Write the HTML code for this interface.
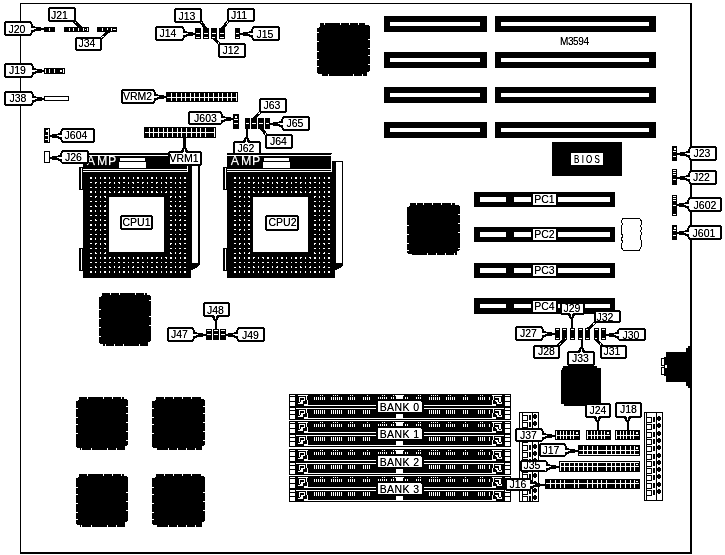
<!DOCTYPE html>
<html><head><meta charset="utf-8"><style>
html,body{margin:0;padding:0;background:#fff;width:725px;height:555px;overflow:hidden}
svg{display:block}
text{font-family:"Liberation Sans",sans-serif}
</style></head><body>
<svg width="725" height="555" viewBox="0 0 725 555" shape-rendering="crispEdges">
<defs><filter id="bw" x="0" y="0" width="100%" height="100%" color-interpolation-filters="sRGB">
<feColorMatrix type="saturate" values="0"/>
<feComponentTransfer><feFuncR type="linear" slope="1.3" intercept="-0.3"/><feFuncG type="linear" slope="1.3" intercept="-0.3"/><feFuncB type="linear" slope="1.3" intercept="-0.3"/></feComponentTransfer>
</filter></defs>
<g filter="url(#bw)">
<rect x="0" y="0" width="725" height="555" fill="#fff"/>
<rect x="20" y="3" width="672" height="1" fill="#000"/>
<rect x="20" y="3" width="1" height="551" fill="#000"/>
<rect x="690" y="3" width="2" height="551" fill="#000"/>
<rect x="20" y="552" width="672" height="2" fill="#000"/>
<rect x="384" y="16" width="103" height="16" fill="#000"/>
<rect x="390" y="22" width="90" height="4" fill="#fff"/>
<rect x="495" y="16" width="161" height="16" fill="#000"/>
<rect x="501" y="22" width="148" height="4" fill="#fff"/>
<rect x="384" y="52" width="103" height="16" fill="#000"/>
<rect x="390" y="58" width="90" height="4" fill="#fff"/>
<rect x="495" y="52" width="161" height="16" fill="#000"/>
<rect x="501" y="58" width="148" height="4" fill="#fff"/>
<rect x="384" y="87" width="103" height="16" fill="#000"/>
<rect x="390" y="93" width="90" height="4" fill="#fff"/>
<rect x="495" y="87" width="161" height="16" fill="#000"/>
<rect x="501" y="93" width="148" height="4" fill="#fff"/>
<rect x="384" y="122" width="103" height="16" fill="#000"/>
<rect x="390" y="128" width="90" height="4" fill="#fff"/>
<rect x="495" y="122" width="161" height="16" fill="#000"/>
<rect x="501" y="128" width="148" height="4" fill="#fff"/>
<text x="560" y="45" font-size="10" fill="#000" letter-spacing="-0.4" >M3594</text>
<rect x="317" y="23" width="53" height="53" fill="#000"/>
<rect x="317" y="23" width="3" height="4" fill="#fff"/>
<rect x="317" y="23" width="2" height="5" fill="#fff"/>
<rect x="317" y="23" width="1" height="5" fill="#fff"/>
<rect x="365" y="23" width="5" height="2" fill="#fff"/>
<rect x="369" y="23" width="1" height="3" fill="#fff"/>
<rect x="317" y="74" width="5" height="2" fill="#fff"/>
<rect x="317" y="73" width="1" height="3" fill="#fff"/>
<rect x="367" y="72" width="3" height="4" fill="#fff"/>
<rect x="369" y="71" width="1" height="5" fill="#fff"/>
<rect x="324" y="23" width="1" height="2" fill="#fff"/>
<rect x="340" y="23" width="1" height="2" fill="#fff"/>
<rect x="349" y="23" width="1" height="2" fill="#fff"/>
<rect x="358" y="23" width="1" height="2" fill="#fff"/>
<rect x="328" y="74" width="1" height="2" fill="#fff"/>
<rect x="353" y="74" width="1" height="2" fill="#fff"/>
<rect x="362" y="74" width="1" height="2" fill="#fff"/>
<rect x="317" y="32" width="2" height="1" fill="#fff"/>
<rect x="317" y="41" width="2" height="1" fill="#fff"/>
<rect x="317" y="51" width="2" height="1" fill="#fff"/>
<rect x="317" y="59" width="2" height="1" fill="#fff"/>
<rect x="317" y="66" width="2" height="1" fill="#fff"/>
<rect x="368" y="39" width="2" height="1" fill="#fff"/>
<rect x="368" y="48" width="2" height="1" fill="#fff"/>
<rect x="368" y="55" width="2" height="1" fill="#fff"/>
<rect x="368" y="64" width="2" height="1" fill="#fff"/>
<rect x="407" y="203" width="53" height="52" fill="#000"/>
<rect x="407" y="203" width="3" height="3" fill="#fff"/>
<rect x="407" y="203" width="2" height="4" fill="#fff"/>
<rect x="407" y="203" width="1" height="4" fill="#fff"/>
<rect x="455" y="203" width="5" height="2" fill="#fff"/>
<rect x="459" y="203" width="1" height="3" fill="#fff"/>
<rect x="407" y="254" width="5" height="1" fill="#fff"/>
<rect x="407" y="253" width="1" height="2" fill="#fff"/>
<rect x="457" y="251" width="3" height="4" fill="#fff"/>
<rect x="459" y="250" width="1" height="5" fill="#fff"/>
<rect x="416" y="203" width="1" height="2" fill="#fff"/>
<rect x="423" y="203" width="1" height="2" fill="#fff"/>
<rect x="432" y="203" width="1" height="2" fill="#fff"/>
<rect x="441" y="203" width="1" height="2" fill="#fff"/>
<rect x="451" y="203" width="1" height="2" fill="#fff"/>
<rect x="427" y="253" width="1" height="2" fill="#fff"/>
<rect x="436" y="253" width="1" height="2" fill="#fff"/>
<rect x="445" y="253" width="1" height="2" fill="#fff"/>
<rect x="454" y="253" width="1" height="2" fill="#fff"/>
<rect x="407" y="225" width="2" height="1" fill="#fff"/>
<rect x="407" y="234" width="2" height="1" fill="#fff"/>
<rect x="407" y="243" width="2" height="1" fill="#fff"/>
<rect x="407" y="250" width="2" height="1" fill="#fff"/>
<rect x="458" y="214" width="2" height="1" fill="#fff"/>
<rect x="458" y="223" width="2" height="1" fill="#fff"/>
<rect x="458" y="232" width="2" height="1" fill="#fff"/>
<rect x="458" y="248" width="2" height="1" fill="#fff"/>
<rect x="99" y="293" width="52" height="53" fill="#000"/>
<rect x="99" y="293" width="3" height="3" fill="#fff"/>
<rect x="99" y="293" width="2" height="4" fill="#fff"/>
<rect x="99" y="293" width="1" height="4" fill="#fff"/>
<rect x="147" y="293" width="4" height="2" fill="#fff"/>
<rect x="150" y="293" width="1" height="3" fill="#fff"/>
<rect x="99" y="344" width="4" height="2" fill="#fff"/>
<rect x="99" y="343" width="1" height="3" fill="#fff"/>
<rect x="148" y="342" width="3" height="4" fill="#fff"/>
<rect x="150" y="341" width="1" height="5" fill="#fff"/>
<rect x="110" y="293" width="1" height="2" fill="#fff"/>
<rect x="119" y="293" width="1" height="2" fill="#fff"/>
<rect x="135" y="293" width="1" height="2" fill="#fff"/>
<rect x="144" y="293" width="1" height="2" fill="#fff"/>
<rect x="105" y="344" width="1" height="2" fill="#fff"/>
<rect x="114" y="344" width="1" height="2" fill="#fff"/>
<rect x="123" y="344" width="1" height="2" fill="#fff"/>
<rect x="139" y="344" width="1" height="2" fill="#fff"/>
<rect x="99" y="309" width="2" height="1" fill="#fff"/>
<rect x="99" y="318" width="2" height="1" fill="#fff"/>
<rect x="99" y="327" width="2" height="1" fill="#fff"/>
<rect x="99" y="336" width="2" height="1" fill="#fff"/>
<rect x="149" y="300" width="2" height="1" fill="#fff"/>
<rect x="149" y="316" width="2" height="1" fill="#fff"/>
<rect x="149" y="325" width="2" height="1" fill="#fff"/>
<rect x="76" y="397" width="52" height="53" fill="#000"/>
<rect x="76" y="397" width="3" height="3" fill="#fff"/>
<rect x="76" y="397" width="2" height="4" fill="#fff"/>
<rect x="76" y="397" width="1" height="4" fill="#fff"/>
<rect x="124" y="397" width="4" height="2" fill="#fff"/>
<rect x="127" y="397" width="1" height="3" fill="#fff"/>
<rect x="76" y="448" width="4" height="2" fill="#fff"/>
<rect x="76" y="447" width="1" height="3" fill="#fff"/>
<rect x="125" y="446" width="3" height="4" fill="#fff"/>
<rect x="127" y="445" width="1" height="5" fill="#fff"/>
<rect x="87" y="397" width="1" height="2" fill="#fff"/>
<rect x="103" y="397" width="1" height="2" fill="#fff"/>
<rect x="112" y="397" width="1" height="2" fill="#fff"/>
<rect x="121" y="397" width="1" height="2" fill="#fff"/>
<rect x="81" y="448" width="1" height="2" fill="#fff"/>
<rect x="91" y="448" width="1" height="2" fill="#fff"/>
<rect x="107" y="448" width="1" height="2" fill="#fff"/>
<rect x="116" y="448" width="1" height="2" fill="#fff"/>
<rect x="76" y="408" width="2" height="1" fill="#fff"/>
<rect x="76" y="417" width="2" height="1" fill="#fff"/>
<rect x="76" y="424" width="2" height="1" fill="#fff"/>
<rect x="76" y="433" width="2" height="1" fill="#fff"/>
<rect x="126" y="406" width="2" height="1" fill="#fff"/>
<rect x="126" y="413" width="2" height="1" fill="#fff"/>
<rect x="126" y="422" width="2" height="1" fill="#fff"/>
<rect x="126" y="431" width="2" height="1" fill="#fff"/>
<rect x="126" y="440" width="2" height="1" fill="#fff"/>
<rect x="152" y="397" width="53" height="53" fill="#000"/>
<rect x="152" y="397" width="4" height="3" fill="#fff"/>
<rect x="152" y="397" width="3" height="4" fill="#fff"/>
<rect x="152" y="397" width="1" height="4" fill="#fff"/>
<rect x="201" y="397" width="4" height="2" fill="#fff"/>
<rect x="204" y="397" width="1" height="3" fill="#fff"/>
<rect x="152" y="448" width="5" height="2" fill="#fff"/>
<rect x="152" y="447" width="1" height="3" fill="#fff"/>
<rect x="202" y="446" width="3" height="4" fill="#fff"/>
<rect x="204" y="445" width="1" height="5" fill="#fff"/>
<rect x="164" y="397" width="1" height="2" fill="#fff"/>
<rect x="173" y="397" width="1" height="2" fill="#fff"/>
<rect x="182" y="397" width="1" height="2" fill="#fff"/>
<rect x="191" y="397" width="1" height="2" fill="#fff"/>
<rect x="168" y="448" width="1" height="2" fill="#fff"/>
<rect x="177" y="448" width="1" height="2" fill="#fff"/>
<rect x="186" y="448" width="1" height="2" fill="#fff"/>
<rect x="195" y="448" width="1" height="2" fill="#fff"/>
<rect x="152" y="408" width="2" height="1" fill="#fff"/>
<rect x="152" y="417" width="2" height="1" fill="#fff"/>
<rect x="152" y="424" width="2" height="1" fill="#fff"/>
<rect x="152" y="433" width="2" height="1" fill="#fff"/>
<rect x="203" y="406" width="2" height="1" fill="#fff"/>
<rect x="203" y="413" width="2" height="1" fill="#fff"/>
<rect x="203" y="422" width="2" height="1" fill="#fff"/>
<rect x="203" y="431" width="2" height="1" fill="#fff"/>
<rect x="203" y="440" width="2" height="1" fill="#fff"/>
<rect x="76" y="474" width="52" height="53" fill="#000"/>
<rect x="76" y="474" width="3" height="3" fill="#fff"/>
<rect x="76" y="474" width="2" height="4" fill="#fff"/>
<rect x="76" y="474" width="1" height="4" fill="#fff"/>
<rect x="124" y="474" width="4" height="2" fill="#fff"/>
<rect x="127" y="474" width="1" height="3" fill="#fff"/>
<rect x="76" y="525" width="4" height="2" fill="#fff"/>
<rect x="76" y="524" width="1" height="3" fill="#fff"/>
<rect x="125" y="522" width="3" height="5" fill="#fff"/>
<rect x="127" y="521" width="1" height="6" fill="#fff"/>
<rect x="87" y="474" width="1" height="2" fill="#fff"/>
<rect x="103" y="474" width="1" height="2" fill="#fff"/>
<rect x="112" y="474" width="1" height="2" fill="#fff"/>
<rect x="121" y="474" width="1" height="2" fill="#fff"/>
<rect x="81" y="525" width="1" height="2" fill="#fff"/>
<rect x="91" y="525" width="1" height="2" fill="#fff"/>
<rect x="107" y="525" width="1" height="2" fill="#fff"/>
<rect x="116" y="525" width="1" height="2" fill="#fff"/>
<rect x="76" y="487" width="2" height="1" fill="#fff"/>
<rect x="76" y="494" width="2" height="1" fill="#fff"/>
<rect x="76" y="503" width="2" height="1" fill="#fff"/>
<rect x="76" y="512" width="2" height="1" fill="#fff"/>
<rect x="76" y="519" width="2" height="1" fill="#fff"/>
<rect x="126" y="492" width="2" height="1" fill="#fff"/>
<rect x="126" y="501" width="2" height="1" fill="#fff"/>
<rect x="126" y="510" width="2" height="1" fill="#fff"/>
<rect x="152" y="474" width="53" height="53" fill="#000"/>
<rect x="152" y="474" width="4" height="3" fill="#fff"/>
<rect x="152" y="474" width="3" height="4" fill="#fff"/>
<rect x="152" y="474" width="1" height="4" fill="#fff"/>
<rect x="201" y="474" width="4" height="2" fill="#fff"/>
<rect x="204" y="474" width="1" height="3" fill="#fff"/>
<rect x="152" y="525" width="5" height="2" fill="#fff"/>
<rect x="152" y="524" width="1" height="3" fill="#fff"/>
<rect x="202" y="522" width="3" height="5" fill="#fff"/>
<rect x="204" y="521" width="1" height="6" fill="#fff"/>
<rect x="164" y="474" width="1" height="2" fill="#fff"/>
<rect x="173" y="474" width="1" height="2" fill="#fff"/>
<rect x="182" y="474" width="1" height="2" fill="#fff"/>
<rect x="191" y="474" width="1" height="2" fill="#fff"/>
<rect x="168" y="525" width="1" height="2" fill="#fff"/>
<rect x="177" y="525" width="1" height="2" fill="#fff"/>
<rect x="186" y="525" width="1" height="2" fill="#fff"/>
<rect x="195" y="525" width="1" height="2" fill="#fff"/>
<rect x="152" y="487" width="2" height="1" fill="#fff"/>
<rect x="152" y="494" width="2" height="1" fill="#fff"/>
<rect x="152" y="503" width="2" height="1" fill="#fff"/>
<rect x="152" y="512" width="2" height="1" fill="#fff"/>
<rect x="152" y="519" width="2" height="1" fill="#fff"/>
<rect x="203" y="492" width="2" height="1" fill="#fff"/>
<rect x="203" y="501" width="2" height="1" fill="#fff"/>
<rect x="203" y="510" width="2" height="1" fill="#fff"/>
<rect x="563" y="366" width="34" height="2" fill="#000"/>
<rect x="562" y="368" width="39" height="2" fill="#000"/>
<rect x="561" y="370" width="40" height="34" fill="#000"/>
<rect x="564" y="404" width="37" height="2" fill="#000"/>
<rect x="552" y="142" width="70" height="34" fill="#000"/>
<rect x="571" y="153" width="32" height="12" fill="#fff"/>
<text x="587" y="163" font-size="10" fill="#000" text-anchor="middle" transform="translate(587,0) scale(0.8,1) translate(-587,0)">B I O S</text>
<rect x="474" y="192" width="141" height="15" fill="#000"/>
<rect x="480" y="197" width="26" height="5" fill="#fff"/>
<rect x="514" y="197" width="17" height="5" fill="#fff"/>
<rect x="533" y="194" width="23" height="11" fill="#fff"/>
<rect x="558" y="197" width="52" height="5" fill="#fff"/>
<text x="544.5" y="203" font-size="10.5" fill="#000" text-anchor="middle" >PC1</text>
<rect x="474" y="227" width="141" height="15" fill="#000"/>
<rect x="480" y="232" width="26" height="5" fill="#fff"/>
<rect x="514" y="232" width="17" height="5" fill="#fff"/>
<rect x="533" y="229" width="23" height="11" fill="#fff"/>
<rect x="558" y="232" width="52" height="5" fill="#fff"/>
<text x="544.5" y="238" font-size="10.5" fill="#000" text-anchor="middle" >PC2</text>
<rect x="474" y="263" width="141" height="15" fill="#000"/>
<rect x="480" y="268" width="26" height="5" fill="#fff"/>
<rect x="514" y="268" width="17" height="5" fill="#fff"/>
<rect x="533" y="265" width="23" height="11" fill="#fff"/>
<rect x="558" y="268" width="52" height="5" fill="#fff"/>
<text x="544.5" y="274" font-size="10.5" fill="#000" text-anchor="middle" >PC3</text>
<rect x="474" y="298" width="141" height="16" fill="#000"/>
<rect x="480" y="304" width="26" height="4" fill="#fff"/>
<rect x="514" y="304" width="17" height="4" fill="#fff"/>
<rect x="533" y="301" width="23" height="11" fill="#fff"/>
<rect x="558" y="304" width="52" height="4" fill="#fff"/>
<text x="544.5" y="310" font-size="10.5" fill="#000" text-anchor="middle" >PC4</text>
<path d="M622.5,218.5 H639.5 L641.5,221 V224 L640.5,226 L642,229 L640.5,231 L642,234 L640.5,236 V239 L641.5,241 V246 L639.5,250.5 H623.5 L621.5,248 V244 L622.5,242 L621.5,239 L622.5,236 L621.5,233 V226 L622.5,224 L621.5,222 Z" fill="none" stroke="#000" stroke-width="1"/>
<rect x="83" y="153" width="105" height="1" fill="#000"/>
<rect x="83" y="154" width="104" height="1" fill="#000"/>
<rect x="83" y="156" width="104" height="13" fill="#000"/>
<rect x="83" y="170" width="104" height="1" fill="#000"/>
<rect x="83" y="172" width="108" height="106" fill="#000"/>
<rect x="188" y="161" width="3" height="11" fill="#000"/>
<text x="86.8" y="164.6" font-size="12.4" fill="#fff" stroke="#fff" stroke-width="0.35">A</text>
<text x="97" y="164.6" font-size="12.4" fill="#fff" stroke="#fff" stroke-width="0.35">M</text>
<text x="108" y="164.6" font-size="12.4" fill="#fff" stroke="#fff" stroke-width="0.35">P</text>
<rect x="120" y="158" width="25" height="3" fill="#fff"/>
<rect x="119" y="162" width="27" height="6" fill="#fff"/>
<rect x="90" y="177" width="1" height="1" fill="#fff"/>
<rect x="91" y="177" width="1" height="1" fill="#fff"/>
<rect x="90" y="178" width="1" height="1" fill="#fff"/>
<rect x="91" y="178" width="1" height="1" fill="#fff"/>
<rect x="95" y="177" width="1" height="1" fill="#fff"/>
<rect x="95" y="178" width="1" height="1" fill="#fff"/>
<rect x="100" y="177" width="1" height="1" fill="#fff"/>
<rect x="100" y="178" width="1" height="1" fill="#fff"/>
<rect x="104" y="177" width="1" height="1" fill="#fff"/>
<rect x="105" y="177" width="1" height="1" fill="#fff"/>
<rect x="104" y="178" width="1" height="1" fill="#fff"/>
<rect x="105" y="178" width="1" height="1" fill="#fff"/>
<rect x="109" y="177" width="1" height="1" fill="#fff"/>
<rect x="109" y="178" width="1" height="1" fill="#fff"/>
<rect x="114" y="177" width="1" height="1" fill="#fff"/>
<rect x="114" y="178" width="1" height="1" fill="#fff"/>
<rect x="119" y="177" width="1" height="1" fill="#fff"/>
<rect x="119" y="178" width="1" height="1" fill="#fff"/>
<rect x="123" y="177" width="1" height="1" fill="#fff"/>
<rect x="124" y="177" width="1" height="1" fill="#fff"/>
<rect x="123" y="178" width="1" height="1" fill="#fff"/>
<rect x="124" y="178" width="1" height="1" fill="#fff"/>
<rect x="128" y="177" width="1" height="1" fill="#fff"/>
<rect x="128" y="178" width="1" height="1" fill="#fff"/>
<rect x="133" y="177" width="1" height="1" fill="#fff"/>
<rect x="133" y="178" width="1" height="1" fill="#fff"/>
<rect x="137" y="177" width="1" height="1" fill="#fff"/>
<rect x="138" y="177" width="1" height="1" fill="#fff"/>
<rect x="137" y="178" width="1" height="1" fill="#fff"/>
<rect x="138" y="178" width="1" height="1" fill="#fff"/>
<rect x="142" y="177" width="1" height="1" fill="#fff"/>
<rect x="142" y="178" width="1" height="1" fill="#fff"/>
<rect x="147" y="177" width="1" height="1" fill="#fff"/>
<rect x="147" y="178" width="1" height="1" fill="#fff"/>
<rect x="151" y="177" width="1" height="1" fill="#fff"/>
<rect x="152" y="177" width="1" height="1" fill="#fff"/>
<rect x="151" y="178" width="1" height="1" fill="#fff"/>
<rect x="152" y="178" width="1" height="1" fill="#fff"/>
<rect x="156" y="177" width="1" height="1" fill="#fff"/>
<rect x="156" y="178" width="1" height="1" fill="#fff"/>
<rect x="161" y="177" width="1" height="1" fill="#fff"/>
<rect x="161" y="178" width="1" height="1" fill="#fff"/>
<rect x="166" y="177" width="1" height="1" fill="#fff"/>
<rect x="166" y="178" width="1" height="1" fill="#fff"/>
<rect x="170" y="177" width="1" height="1" fill="#fff"/>
<rect x="171" y="177" width="1" height="1" fill="#fff"/>
<rect x="170" y="178" width="1" height="1" fill="#fff"/>
<rect x="171" y="178" width="1" height="1" fill="#fff"/>
<rect x="175" y="177" width="1" height="1" fill="#fff"/>
<rect x="175" y="178" width="1" height="1" fill="#fff"/>
<rect x="180" y="177" width="1" height="1" fill="#fff"/>
<rect x="180" y="178" width="1" height="1" fill="#fff"/>
<rect x="184" y="177" width="1" height="1" fill="#fff"/>
<rect x="185" y="177" width="1" height="1" fill="#fff"/>
<rect x="184" y="178" width="1" height="1" fill="#fff"/>
<rect x="185" y="178" width="1" height="1" fill="#fff"/>
<rect x="90" y="182" width="1" height="1" fill="#fff"/>
<rect x="91" y="182" width="1" height="1" fill="#fff"/>
<rect x="95" y="182" width="1" height="1" fill="#fff"/>
<rect x="96" y="182" width="1" height="1" fill="#fff"/>
<rect x="95" y="183" width="1" height="1" fill="#fff"/>
<rect x="100" y="182" width="1" height="1" fill="#fff"/>
<rect x="100" y="183" width="1" height="1" fill="#fff"/>
<rect x="104" y="182" width="1" height="1" fill="#fff"/>
<rect x="105" y="182" width="1" height="1" fill="#fff"/>
<rect x="109" y="182" width="1" height="1" fill="#fff"/>
<rect x="110" y="182" width="1" height="1" fill="#fff"/>
<rect x="109" y="183" width="1" height="1" fill="#fff"/>
<rect x="114" y="182" width="1" height="1" fill="#fff"/>
<rect x="114" y="183" width="1" height="1" fill="#fff"/>
<rect x="118" y="182" width="1" height="1" fill="#fff"/>
<rect x="119" y="182" width="1" height="1" fill="#fff"/>
<rect x="119" y="183" width="1" height="1" fill="#fff"/>
<rect x="123" y="182" width="1" height="1" fill="#fff"/>
<rect x="124" y="182" width="1" height="1" fill="#fff"/>
<rect x="128" y="182" width="1" height="1" fill="#fff"/>
<rect x="128" y="183" width="1" height="1" fill="#fff"/>
<rect x="132" y="182" width="1" height="1" fill="#fff"/>
<rect x="133" y="182" width="1" height="1" fill="#fff"/>
<rect x="133" y="183" width="1" height="1" fill="#fff"/>
<rect x="137" y="182" width="1" height="1" fill="#fff"/>
<rect x="138" y="182" width="1" height="1" fill="#fff"/>
<rect x="142" y="182" width="1" height="1" fill="#fff"/>
<rect x="143" y="182" width="1" height="1" fill="#fff"/>
<rect x="142" y="183" width="1" height="1" fill="#fff"/>
<rect x="147" y="182" width="1" height="1" fill="#fff"/>
<rect x="147" y="183" width="1" height="1" fill="#fff"/>
<rect x="151" y="182" width="1" height="1" fill="#fff"/>
<rect x="152" y="182" width="1" height="1" fill="#fff"/>
<rect x="156" y="182" width="1" height="1" fill="#fff"/>
<rect x="157" y="182" width="1" height="1" fill="#fff"/>
<rect x="156" y="183" width="1" height="1" fill="#fff"/>
<rect x="161" y="182" width="1" height="1" fill="#fff"/>
<rect x="161" y="183" width="1" height="1" fill="#fff"/>
<rect x="165" y="182" width="1" height="1" fill="#fff"/>
<rect x="166" y="182" width="1" height="1" fill="#fff"/>
<rect x="166" y="183" width="1" height="1" fill="#fff"/>
<rect x="170" y="182" width="1" height="1" fill="#fff"/>
<rect x="171" y="182" width="1" height="1" fill="#fff"/>
<rect x="175" y="182" width="1" height="1" fill="#fff"/>
<rect x="175" y="183" width="1" height="1" fill="#fff"/>
<rect x="179" y="182" width="1" height="1" fill="#fff"/>
<rect x="180" y="182" width="1" height="1" fill="#fff"/>
<rect x="180" y="183" width="1" height="1" fill="#fff"/>
<rect x="184" y="182" width="1" height="1" fill="#fff"/>
<rect x="185" y="182" width="1" height="1" fill="#fff"/>
<rect x="90" y="187" width="1" height="1" fill="#fff"/>
<rect x="91" y="187" width="1" height="1" fill="#fff"/>
<rect x="95" y="187" width="1" height="1" fill="#fff"/>
<rect x="96" y="187" width="1" height="1" fill="#fff"/>
<rect x="100" y="187" width="1" height="1" fill="#fff"/>
<rect x="104" y="187" width="1" height="1" fill="#fff"/>
<rect x="105" y="187" width="1" height="1" fill="#fff"/>
<rect x="109" y="187" width="1" height="1" fill="#fff"/>
<rect x="110" y="187" width="1" height="1" fill="#fff"/>
<rect x="114" y="187" width="1" height="1" fill="#fff"/>
<rect x="118" y="187" width="1" height="1" fill="#fff"/>
<rect x="119" y="187" width="1" height="1" fill="#fff"/>
<rect x="123" y="187" width="1" height="1" fill="#fff"/>
<rect x="124" y="187" width="1" height="1" fill="#fff"/>
<rect x="128" y="187" width="1" height="1" fill="#fff"/>
<rect x="132" y="187" width="1" height="1" fill="#fff"/>
<rect x="133" y="187" width="1" height="1" fill="#fff"/>
<rect x="137" y="187" width="1" height="1" fill="#fff"/>
<rect x="138" y="187" width="1" height="1" fill="#fff"/>
<rect x="142" y="187" width="1" height="1" fill="#fff"/>
<rect x="143" y="187" width="1" height="1" fill="#fff"/>
<rect x="147" y="187" width="1" height="1" fill="#fff"/>
<rect x="151" y="187" width="1" height="1" fill="#fff"/>
<rect x="152" y="187" width="1" height="1" fill="#fff"/>
<rect x="156" y="187" width="1" height="1" fill="#fff"/>
<rect x="157" y="187" width="1" height="1" fill="#fff"/>
<rect x="161" y="187" width="1" height="1" fill="#fff"/>
<rect x="165" y="187" width="1" height="1" fill="#fff"/>
<rect x="166" y="187" width="1" height="1" fill="#fff"/>
<rect x="170" y="187" width="1" height="1" fill="#fff"/>
<rect x="171" y="187" width="1" height="1" fill="#fff"/>
<rect x="175" y="187" width="1" height="1" fill="#fff"/>
<rect x="179" y="187" width="1" height="1" fill="#fff"/>
<rect x="180" y="187" width="1" height="1" fill="#fff"/>
<rect x="184" y="187" width="1" height="1" fill="#fff"/>
<rect x="185" y="187" width="1" height="1" fill="#fff"/>
<rect x="90" y="191" width="1" height="1" fill="#fff"/>
<rect x="91" y="191" width="1" height="1" fill="#fff"/>
<rect x="90" y="192" width="1" height="1" fill="#fff"/>
<rect x="91" y="192" width="1" height="1" fill="#fff"/>
<rect x="95" y="191" width="1" height="1" fill="#fff"/>
<rect x="95" y="192" width="1" height="1" fill="#fff"/>
<rect x="100" y="191" width="1" height="1" fill="#fff"/>
<rect x="100" y="192" width="1" height="1" fill="#fff"/>
<rect x="104" y="191" width="1" height="1" fill="#fff"/>
<rect x="105" y="191" width="1" height="1" fill="#fff"/>
<rect x="104" y="192" width="1" height="1" fill="#fff"/>
<rect x="105" y="192" width="1" height="1" fill="#fff"/>
<rect x="109" y="191" width="1" height="1" fill="#fff"/>
<rect x="109" y="192" width="1" height="1" fill="#fff"/>
<rect x="110" y="192" width="1" height="1" fill="#fff"/>
<rect x="114" y="191" width="1" height="1" fill="#fff"/>
<rect x="114" y="192" width="1" height="1" fill="#fff"/>
<rect x="119" y="191" width="1" height="1" fill="#fff"/>
<rect x="118" y="192" width="1" height="1" fill="#fff"/>
<rect x="119" y="192" width="1" height="1" fill="#fff"/>
<rect x="123" y="191" width="1" height="1" fill="#fff"/>
<rect x="124" y="191" width="1" height="1" fill="#fff"/>
<rect x="123" y="192" width="1" height="1" fill="#fff"/>
<rect x="124" y="192" width="1" height="1" fill="#fff"/>
<rect x="128" y="191" width="1" height="1" fill="#fff"/>
<rect x="128" y="192" width="1" height="1" fill="#fff"/>
<rect x="133" y="191" width="1" height="1" fill="#fff"/>
<rect x="133" y="192" width="1" height="1" fill="#fff"/>
<rect x="137" y="191" width="1" height="1" fill="#fff"/>
<rect x="138" y="191" width="1" height="1" fill="#fff"/>
<rect x="137" y="192" width="1" height="1" fill="#fff"/>
<rect x="138" y="192" width="1" height="1" fill="#fff"/>
<rect x="142" y="191" width="1" height="1" fill="#fff"/>
<rect x="142" y="192" width="1" height="1" fill="#fff"/>
<rect x="147" y="191" width="1" height="1" fill="#fff"/>
<rect x="147" y="192" width="1" height="1" fill="#fff"/>
<rect x="151" y="191" width="1" height="1" fill="#fff"/>
<rect x="152" y="191" width="1" height="1" fill="#fff"/>
<rect x="151" y="192" width="1" height="1" fill="#fff"/>
<rect x="152" y="192" width="1" height="1" fill="#fff"/>
<rect x="156" y="191" width="1" height="1" fill="#fff"/>
<rect x="156" y="192" width="1" height="1" fill="#fff"/>
<rect x="157" y="192" width="1" height="1" fill="#fff"/>
<rect x="161" y="191" width="1" height="1" fill="#fff"/>
<rect x="161" y="192" width="1" height="1" fill="#fff"/>
<rect x="166" y="191" width="1" height="1" fill="#fff"/>
<rect x="165" y="192" width="1" height="1" fill="#fff"/>
<rect x="166" y="192" width="1" height="1" fill="#fff"/>
<rect x="170" y="191" width="1" height="1" fill="#fff"/>
<rect x="171" y="191" width="1" height="1" fill="#fff"/>
<rect x="170" y="192" width="1" height="1" fill="#fff"/>
<rect x="171" y="192" width="1" height="1" fill="#fff"/>
<rect x="175" y="191" width="1" height="1" fill="#fff"/>
<rect x="175" y="192" width="1" height="1" fill="#fff"/>
<rect x="180" y="191" width="1" height="1" fill="#fff"/>
<rect x="180" y="192" width="1" height="1" fill="#fff"/>
<rect x="184" y="191" width="1" height="1" fill="#fff"/>
<rect x="185" y="191" width="1" height="1" fill="#fff"/>
<rect x="184" y="192" width="1" height="1" fill="#fff"/>
<rect x="185" y="192" width="1" height="1" fill="#fff"/>
<rect x="90" y="196" width="1" height="1" fill="#fff"/>
<rect x="91" y="196" width="1" height="1" fill="#fff"/>
<rect x="95" y="196" width="1" height="1" fill="#fff"/>
<rect x="96" y="196" width="1" height="1" fill="#fff"/>
<rect x="95" y="197" width="1" height="1" fill="#fff"/>
<rect x="100" y="196" width="1" height="1" fill="#fff"/>
<rect x="100" y="197" width="1" height="1" fill="#fff"/>
<rect x="104" y="196" width="1" height="1" fill="#fff"/>
<rect x="105" y="196" width="1" height="1" fill="#fff"/>
<rect x="105" y="197" width="1" height="1" fill="#fff"/>
<rect x="170" y="196" width="1" height="1" fill="#fff"/>
<rect x="171" y="196" width="1" height="1" fill="#fff"/>
<rect x="170" y="197" width="1" height="1" fill="#fff"/>
<rect x="175" y="196" width="1" height="1" fill="#fff"/>
<rect x="175" y="197" width="1" height="1" fill="#fff"/>
<rect x="179" y="196" width="1" height="1" fill="#fff"/>
<rect x="180" y="196" width="1" height="1" fill="#fff"/>
<rect x="180" y="197" width="1" height="1" fill="#fff"/>
<rect x="184" y="196" width="1" height="1" fill="#fff"/>
<rect x="185" y="196" width="1" height="1" fill="#fff"/>
<rect x="90" y="201" width="1" height="1" fill="#fff"/>
<rect x="91" y="201" width="1" height="1" fill="#fff"/>
<rect x="95" y="201" width="1" height="1" fill="#fff"/>
<rect x="96" y="201" width="1" height="1" fill="#fff"/>
<rect x="100" y="201" width="1" height="1" fill="#fff"/>
<rect x="104" y="201" width="1" height="1" fill="#fff"/>
<rect x="105" y="201" width="1" height="1" fill="#fff"/>
<rect x="170" y="201" width="1" height="1" fill="#fff"/>
<rect x="171" y="201" width="1" height="1" fill="#fff"/>
<rect x="175" y="201" width="1" height="1" fill="#fff"/>
<rect x="179" y="201" width="1" height="1" fill="#fff"/>
<rect x="180" y="201" width="1" height="1" fill="#fff"/>
<rect x="184" y="201" width="1" height="1" fill="#fff"/>
<rect x="185" y="201" width="1" height="1" fill="#fff"/>
<rect x="90" y="206" width="1" height="1" fill="#fff"/>
<rect x="91" y="206" width="1" height="1" fill="#fff"/>
<rect x="95" y="205" width="1" height="1" fill="#fff"/>
<rect x="95" y="206" width="1" height="1" fill="#fff"/>
<rect x="96" y="206" width="1" height="1" fill="#fff"/>
<rect x="100" y="205" width="1" height="1" fill="#fff"/>
<rect x="100" y="206" width="1" height="1" fill="#fff"/>
<rect x="105" y="205" width="1" height="1" fill="#fff"/>
<rect x="104" y="206" width="1" height="1" fill="#fff"/>
<rect x="105" y="206" width="1" height="1" fill="#fff"/>
<rect x="170" y="205" width="1" height="1" fill="#fff"/>
<rect x="170" y="206" width="1" height="1" fill="#fff"/>
<rect x="171" y="206" width="1" height="1" fill="#fff"/>
<rect x="175" y="205" width="1" height="1" fill="#fff"/>
<rect x="175" y="206" width="1" height="1" fill="#fff"/>
<rect x="180" y="205" width="1" height="1" fill="#fff"/>
<rect x="179" y="206" width="1" height="1" fill="#fff"/>
<rect x="180" y="206" width="1" height="1" fill="#fff"/>
<rect x="184" y="206" width="1" height="1" fill="#fff"/>
<rect x="185" y="206" width="1" height="1" fill="#fff"/>
<rect x="90" y="210" width="1" height="1" fill="#fff"/>
<rect x="91" y="210" width="1" height="1" fill="#fff"/>
<rect x="90" y="211" width="1" height="1" fill="#fff"/>
<rect x="91" y="211" width="1" height="1" fill="#fff"/>
<rect x="95" y="210" width="1" height="1" fill="#fff"/>
<rect x="95" y="211" width="1" height="1" fill="#fff"/>
<rect x="100" y="210" width="1" height="1" fill="#fff"/>
<rect x="100" y="211" width="1" height="1" fill="#fff"/>
<rect x="104" y="210" width="1" height="1" fill="#fff"/>
<rect x="105" y="210" width="1" height="1" fill="#fff"/>
<rect x="104" y="211" width="1" height="1" fill="#fff"/>
<rect x="105" y="211" width="1" height="1" fill="#fff"/>
<rect x="170" y="210" width="1" height="1" fill="#fff"/>
<rect x="171" y="210" width="1" height="1" fill="#fff"/>
<rect x="170" y="211" width="1" height="1" fill="#fff"/>
<rect x="171" y="211" width="1" height="1" fill="#fff"/>
<rect x="175" y="210" width="1" height="1" fill="#fff"/>
<rect x="175" y="211" width="1" height="1" fill="#fff"/>
<rect x="180" y="210" width="1" height="1" fill="#fff"/>
<rect x="180" y="211" width="1" height="1" fill="#fff"/>
<rect x="184" y="210" width="1" height="1" fill="#fff"/>
<rect x="185" y="210" width="1" height="1" fill="#fff"/>
<rect x="184" y="211" width="1" height="1" fill="#fff"/>
<rect x="185" y="211" width="1" height="1" fill="#fff"/>
<rect x="90" y="215" width="1" height="1" fill="#fff"/>
<rect x="91" y="215" width="1" height="1" fill="#fff"/>
<rect x="95" y="215" width="1" height="1" fill="#fff"/>
<rect x="96" y="215" width="1" height="1" fill="#fff"/>
<rect x="100" y="215" width="1" height="1" fill="#fff"/>
<rect x="104" y="215" width="1" height="1" fill="#fff"/>
<rect x="105" y="215" width="1" height="1" fill="#fff"/>
<rect x="170" y="215" width="1" height="1" fill="#fff"/>
<rect x="171" y="215" width="1" height="1" fill="#fff"/>
<rect x="175" y="215" width="1" height="1" fill="#fff"/>
<rect x="179" y="215" width="1" height="1" fill="#fff"/>
<rect x="180" y="215" width="1" height="1" fill="#fff"/>
<rect x="184" y="215" width="1" height="1" fill="#fff"/>
<rect x="185" y="215" width="1" height="1" fill="#fff"/>
<rect x="90" y="220" width="1" height="1" fill="#fff"/>
<rect x="91" y="220" width="1" height="1" fill="#fff"/>
<rect x="95" y="219" width="1" height="1" fill="#fff"/>
<rect x="95" y="220" width="1" height="1" fill="#fff"/>
<rect x="96" y="220" width="1" height="1" fill="#fff"/>
<rect x="100" y="219" width="1" height="1" fill="#fff"/>
<rect x="100" y="220" width="1" height="1" fill="#fff"/>
<rect x="104" y="220" width="1" height="1" fill="#fff"/>
<rect x="105" y="220" width="1" height="1" fill="#fff"/>
<rect x="170" y="220" width="1" height="1" fill="#fff"/>
<rect x="171" y="220" width="1" height="1" fill="#fff"/>
<rect x="175" y="219" width="1" height="1" fill="#fff"/>
<rect x="175" y="220" width="1" height="1" fill="#fff"/>
<rect x="180" y="219" width="1" height="1" fill="#fff"/>
<rect x="179" y="220" width="1" height="1" fill="#fff"/>
<rect x="180" y="220" width="1" height="1" fill="#fff"/>
<rect x="184" y="220" width="1" height="1" fill="#fff"/>
<rect x="185" y="220" width="1" height="1" fill="#fff"/>
<rect x="90" y="224" width="1" height="1" fill="#fff"/>
<rect x="91" y="224" width="1" height="1" fill="#fff"/>
<rect x="90" y="225" width="1" height="1" fill="#fff"/>
<rect x="91" y="225" width="1" height="1" fill="#fff"/>
<rect x="95" y="224" width="1" height="1" fill="#fff"/>
<rect x="95" y="225" width="1" height="1" fill="#fff"/>
<rect x="100" y="224" width="1" height="1" fill="#fff"/>
<rect x="100" y="225" width="1" height="1" fill="#fff"/>
<rect x="104" y="224" width="1" height="1" fill="#fff"/>
<rect x="105" y="224" width="1" height="1" fill="#fff"/>
<rect x="104" y="225" width="1" height="1" fill="#fff"/>
<rect x="105" y="225" width="1" height="1" fill="#fff"/>
<rect x="170" y="224" width="1" height="1" fill="#fff"/>
<rect x="171" y="224" width="1" height="1" fill="#fff"/>
<rect x="170" y="225" width="1" height="1" fill="#fff"/>
<rect x="171" y="225" width="1" height="1" fill="#fff"/>
<rect x="175" y="224" width="1" height="1" fill="#fff"/>
<rect x="175" y="225" width="1" height="1" fill="#fff"/>
<rect x="180" y="224" width="1" height="1" fill="#fff"/>
<rect x="180" y="225" width="1" height="1" fill="#fff"/>
<rect x="184" y="224" width="1" height="1" fill="#fff"/>
<rect x="185" y="224" width="1" height="1" fill="#fff"/>
<rect x="184" y="225" width="1" height="1" fill="#fff"/>
<rect x="185" y="225" width="1" height="1" fill="#fff"/>
<rect x="90" y="229" width="1" height="1" fill="#fff"/>
<rect x="91" y="229" width="1" height="1" fill="#fff"/>
<rect x="95" y="229" width="1" height="1" fill="#fff"/>
<rect x="96" y="229" width="1" height="1" fill="#fff"/>
<rect x="95" y="230" width="1" height="1" fill="#fff"/>
<rect x="100" y="229" width="1" height="1" fill="#fff"/>
<rect x="100" y="230" width="1" height="1" fill="#fff"/>
<rect x="104" y="229" width="1" height="1" fill="#fff"/>
<rect x="105" y="229" width="1" height="1" fill="#fff"/>
<rect x="170" y="229" width="1" height="1" fill="#fff"/>
<rect x="171" y="229" width="1" height="1" fill="#fff"/>
<rect x="175" y="229" width="1" height="1" fill="#fff"/>
<rect x="175" y="230" width="1" height="1" fill="#fff"/>
<rect x="179" y="229" width="1" height="1" fill="#fff"/>
<rect x="180" y="229" width="1" height="1" fill="#fff"/>
<rect x="180" y="230" width="1" height="1" fill="#fff"/>
<rect x="184" y="229" width="1" height="1" fill="#fff"/>
<rect x="185" y="229" width="1" height="1" fill="#fff"/>
<rect x="90" y="234" width="1" height="1" fill="#fff"/>
<rect x="91" y="234" width="1" height="1" fill="#fff"/>
<rect x="95" y="234" width="1" height="1" fill="#fff"/>
<rect x="96" y="234" width="1" height="1" fill="#fff"/>
<rect x="100" y="234" width="1" height="1" fill="#fff"/>
<rect x="104" y="234" width="1" height="1" fill="#fff"/>
<rect x="105" y="234" width="1" height="1" fill="#fff"/>
<rect x="170" y="234" width="1" height="1" fill="#fff"/>
<rect x="171" y="234" width="1" height="1" fill="#fff"/>
<rect x="175" y="234" width="1" height="1" fill="#fff"/>
<rect x="179" y="234" width="1" height="1" fill="#fff"/>
<rect x="180" y="234" width="1" height="1" fill="#fff"/>
<rect x="184" y="234" width="1" height="1" fill="#fff"/>
<rect x="185" y="234" width="1" height="1" fill="#fff"/>
<rect x="90" y="238" width="1" height="1" fill="#fff"/>
<rect x="91" y="238" width="1" height="1" fill="#fff"/>
<rect x="90" y="239" width="1" height="1" fill="#fff"/>
<rect x="91" y="239" width="1" height="1" fill="#fff"/>
<rect x="95" y="238" width="1" height="1" fill="#fff"/>
<rect x="95" y="239" width="1" height="1" fill="#fff"/>
<rect x="100" y="238" width="1" height="1" fill="#fff"/>
<rect x="100" y="239" width="1" height="1" fill="#fff"/>
<rect x="104" y="238" width="1" height="1" fill="#fff"/>
<rect x="105" y="238" width="1" height="1" fill="#fff"/>
<rect x="104" y="239" width="1" height="1" fill="#fff"/>
<rect x="105" y="239" width="1" height="1" fill="#fff"/>
<rect x="170" y="238" width="1" height="1" fill="#fff"/>
<rect x="171" y="238" width="1" height="1" fill="#fff"/>
<rect x="170" y="239" width="1" height="1" fill="#fff"/>
<rect x="171" y="239" width="1" height="1" fill="#fff"/>
<rect x="175" y="238" width="1" height="1" fill="#fff"/>
<rect x="175" y="239" width="1" height="1" fill="#fff"/>
<rect x="180" y="238" width="1" height="1" fill="#fff"/>
<rect x="180" y="239" width="1" height="1" fill="#fff"/>
<rect x="184" y="238" width="1" height="1" fill="#fff"/>
<rect x="185" y="238" width="1" height="1" fill="#fff"/>
<rect x="184" y="239" width="1" height="1" fill="#fff"/>
<rect x="185" y="239" width="1" height="1" fill="#fff"/>
<rect x="90" y="243" width="1" height="1" fill="#fff"/>
<rect x="91" y="243" width="1" height="1" fill="#fff"/>
<rect x="95" y="243" width="1" height="1" fill="#fff"/>
<rect x="96" y="243" width="1" height="1" fill="#fff"/>
<rect x="95" y="244" width="1" height="1" fill="#fff"/>
<rect x="100" y="243" width="1" height="1" fill="#fff"/>
<rect x="100" y="244" width="1" height="1" fill="#fff"/>
<rect x="104" y="243" width="1" height="1" fill="#fff"/>
<rect x="105" y="243" width="1" height="1" fill="#fff"/>
<rect x="105" y="244" width="1" height="1" fill="#fff"/>
<rect x="170" y="243" width="1" height="1" fill="#fff"/>
<rect x="171" y="243" width="1" height="1" fill="#fff"/>
<rect x="170" y="244" width="1" height="1" fill="#fff"/>
<rect x="175" y="243" width="1" height="1" fill="#fff"/>
<rect x="175" y="244" width="1" height="1" fill="#fff"/>
<rect x="179" y="243" width="1" height="1" fill="#fff"/>
<rect x="180" y="243" width="1" height="1" fill="#fff"/>
<rect x="180" y="244" width="1" height="1" fill="#fff"/>
<rect x="184" y="243" width="1" height="1" fill="#fff"/>
<rect x="185" y="243" width="1" height="1" fill="#fff"/>
<rect x="90" y="248" width="1" height="1" fill="#fff"/>
<rect x="91" y="248" width="1" height="1" fill="#fff"/>
<rect x="95" y="248" width="1" height="1" fill="#fff"/>
<rect x="96" y="248" width="1" height="1" fill="#fff"/>
<rect x="100" y="248" width="1" height="1" fill="#fff"/>
<rect x="104" y="248" width="1" height="1" fill="#fff"/>
<rect x="105" y="248" width="1" height="1" fill="#fff"/>
<rect x="170" y="248" width="1" height="1" fill="#fff"/>
<rect x="171" y="248" width="1" height="1" fill="#fff"/>
<rect x="175" y="248" width="1" height="1" fill="#fff"/>
<rect x="179" y="248" width="1" height="1" fill="#fff"/>
<rect x="180" y="248" width="1" height="1" fill="#fff"/>
<rect x="184" y="248" width="1" height="1" fill="#fff"/>
<rect x="185" y="248" width="1" height="1" fill="#fff"/>
<rect x="90" y="253" width="1" height="1" fill="#fff"/>
<rect x="91" y="253" width="1" height="1" fill="#fff"/>
<rect x="95" y="252" width="1" height="1" fill="#fff"/>
<rect x="95" y="253" width="1" height="1" fill="#fff"/>
<rect x="96" y="253" width="1" height="1" fill="#fff"/>
<rect x="100" y="252" width="1" height="1" fill="#fff"/>
<rect x="100" y="253" width="1" height="1" fill="#fff"/>
<rect x="105" y="252" width="1" height="1" fill="#fff"/>
<rect x="104" y="253" width="1" height="1" fill="#fff"/>
<rect x="105" y="253" width="1" height="1" fill="#fff"/>
<rect x="170" y="252" width="1" height="1" fill="#fff"/>
<rect x="170" y="253" width="1" height="1" fill="#fff"/>
<rect x="171" y="253" width="1" height="1" fill="#fff"/>
<rect x="175" y="252" width="1" height="1" fill="#fff"/>
<rect x="175" y="253" width="1" height="1" fill="#fff"/>
<rect x="180" y="252" width="1" height="1" fill="#fff"/>
<rect x="179" y="253" width="1" height="1" fill="#fff"/>
<rect x="180" y="253" width="1" height="1" fill="#fff"/>
<rect x="184" y="253" width="1" height="1" fill="#fff"/>
<rect x="185" y="253" width="1" height="1" fill="#fff"/>
<rect x="90" y="257" width="1" height="1" fill="#fff"/>
<rect x="91" y="257" width="1" height="1" fill="#fff"/>
<rect x="90" y="258" width="1" height="1" fill="#fff"/>
<rect x="91" y="258" width="1" height="1" fill="#fff"/>
<rect x="95" y="257" width="1" height="1" fill="#fff"/>
<rect x="95" y="258" width="1" height="1" fill="#fff"/>
<rect x="100" y="257" width="1" height="1" fill="#fff"/>
<rect x="100" y="258" width="1" height="1" fill="#fff"/>
<rect x="104" y="257" width="1" height="1" fill="#fff"/>
<rect x="105" y="257" width="1" height="1" fill="#fff"/>
<rect x="104" y="258" width="1" height="1" fill="#fff"/>
<rect x="105" y="258" width="1" height="1" fill="#fff"/>
<rect x="109" y="257" width="1" height="1" fill="#fff"/>
<rect x="110" y="257" width="1" height="1" fill="#fff"/>
<rect x="109" y="258" width="1" height="1" fill="#fff"/>
<rect x="114" y="257" width="1" height="1" fill="#fff"/>
<rect x="114" y="258" width="1" height="1" fill="#fff"/>
<rect x="118" y="257" width="1" height="1" fill="#fff"/>
<rect x="119" y="257" width="1" height="1" fill="#fff"/>
<rect x="119" y="258" width="1" height="1" fill="#fff"/>
<rect x="123" y="257" width="1" height="1" fill="#fff"/>
<rect x="124" y="257" width="1" height="1" fill="#fff"/>
<rect x="123" y="258" width="1" height="1" fill="#fff"/>
<rect x="124" y="258" width="1" height="1" fill="#fff"/>
<rect x="128" y="257" width="1" height="1" fill="#fff"/>
<rect x="128" y="258" width="1" height="1" fill="#fff"/>
<rect x="133" y="257" width="1" height="1" fill="#fff"/>
<rect x="133" y="258" width="1" height="1" fill="#fff"/>
<rect x="137" y="257" width="1" height="1" fill="#fff"/>
<rect x="138" y="257" width="1" height="1" fill="#fff"/>
<rect x="137" y="258" width="1" height="1" fill="#fff"/>
<rect x="138" y="258" width="1" height="1" fill="#fff"/>
<rect x="142" y="257" width="1" height="1" fill="#fff"/>
<rect x="142" y="258" width="1" height="1" fill="#fff"/>
<rect x="147" y="257" width="1" height="1" fill="#fff"/>
<rect x="147" y="258" width="1" height="1" fill="#fff"/>
<rect x="151" y="257" width="1" height="1" fill="#fff"/>
<rect x="152" y="257" width="1" height="1" fill="#fff"/>
<rect x="151" y="258" width="1" height="1" fill="#fff"/>
<rect x="152" y="258" width="1" height="1" fill="#fff"/>
<rect x="156" y="257" width="1" height="1" fill="#fff"/>
<rect x="157" y="257" width="1" height="1" fill="#fff"/>
<rect x="156" y="258" width="1" height="1" fill="#fff"/>
<rect x="161" y="257" width="1" height="1" fill="#fff"/>
<rect x="161" y="258" width="1" height="1" fill="#fff"/>
<rect x="165" y="257" width="1" height="1" fill="#fff"/>
<rect x="166" y="257" width="1" height="1" fill="#fff"/>
<rect x="166" y="258" width="1" height="1" fill="#fff"/>
<rect x="170" y="257" width="1" height="1" fill="#fff"/>
<rect x="171" y="257" width="1" height="1" fill="#fff"/>
<rect x="170" y="258" width="1" height="1" fill="#fff"/>
<rect x="171" y="258" width="1" height="1" fill="#fff"/>
<rect x="175" y="257" width="1" height="1" fill="#fff"/>
<rect x="175" y="258" width="1" height="1" fill="#fff"/>
<rect x="180" y="257" width="1" height="1" fill="#fff"/>
<rect x="180" y="258" width="1" height="1" fill="#fff"/>
<rect x="184" y="257" width="1" height="1" fill="#fff"/>
<rect x="185" y="257" width="1" height="1" fill="#fff"/>
<rect x="184" y="258" width="1" height="1" fill="#fff"/>
<rect x="185" y="258" width="1" height="1" fill="#fff"/>
<rect x="90" y="262" width="1" height="1" fill="#fff"/>
<rect x="91" y="262" width="1" height="1" fill="#fff"/>
<rect x="95" y="262" width="1" height="1" fill="#fff"/>
<rect x="96" y="262" width="1" height="1" fill="#fff"/>
<rect x="100" y="262" width="1" height="1" fill="#fff"/>
<rect x="104" y="262" width="1" height="1" fill="#fff"/>
<rect x="105" y="262" width="1" height="1" fill="#fff"/>
<rect x="109" y="262" width="1" height="1" fill="#fff"/>
<rect x="110" y="262" width="1" height="1" fill="#fff"/>
<rect x="114" y="262" width="1" height="1" fill="#fff"/>
<rect x="118" y="262" width="1" height="1" fill="#fff"/>
<rect x="119" y="262" width="1" height="1" fill="#fff"/>
<rect x="123" y="262" width="1" height="1" fill="#fff"/>
<rect x="124" y="262" width="1" height="1" fill="#fff"/>
<rect x="128" y="262" width="1" height="1" fill="#fff"/>
<rect x="132" y="262" width="1" height="1" fill="#fff"/>
<rect x="133" y="262" width="1" height="1" fill="#fff"/>
<rect x="137" y="262" width="1" height="1" fill="#fff"/>
<rect x="138" y="262" width="1" height="1" fill="#fff"/>
<rect x="142" y="262" width="1" height="1" fill="#fff"/>
<rect x="143" y="262" width="1" height="1" fill="#fff"/>
<rect x="147" y="262" width="1" height="1" fill="#fff"/>
<rect x="151" y="262" width="1" height="1" fill="#fff"/>
<rect x="152" y="262" width="1" height="1" fill="#fff"/>
<rect x="156" y="262" width="1" height="1" fill="#fff"/>
<rect x="157" y="262" width="1" height="1" fill="#fff"/>
<rect x="161" y="262" width="1" height="1" fill="#fff"/>
<rect x="165" y="262" width="1" height="1" fill="#fff"/>
<rect x="166" y="262" width="1" height="1" fill="#fff"/>
<rect x="170" y="262" width="1" height="1" fill="#fff"/>
<rect x="171" y="262" width="1" height="1" fill="#fff"/>
<rect x="175" y="262" width="1" height="1" fill="#fff"/>
<rect x="179" y="262" width="1" height="1" fill="#fff"/>
<rect x="180" y="262" width="1" height="1" fill="#fff"/>
<rect x="184" y="262" width="1" height="1" fill="#fff"/>
<rect x="185" y="262" width="1" height="1" fill="#fff"/>
<rect x="90" y="267" width="1" height="1" fill="#fff"/>
<rect x="91" y="267" width="1" height="1" fill="#fff"/>
<rect x="95" y="266" width="1" height="1" fill="#fff"/>
<rect x="95" y="267" width="1" height="1" fill="#fff"/>
<rect x="96" y="267" width="1" height="1" fill="#fff"/>
<rect x="100" y="266" width="1" height="1" fill="#fff"/>
<rect x="100" y="267" width="1" height="1" fill="#fff"/>
<rect x="104" y="267" width="1" height="1" fill="#fff"/>
<rect x="105" y="267" width="1" height="1" fill="#fff"/>
<rect x="109" y="266" width="1" height="1" fill="#fff"/>
<rect x="109" y="267" width="1" height="1" fill="#fff"/>
<rect x="110" y="267" width="1" height="1" fill="#fff"/>
<rect x="114" y="266" width="1" height="1" fill="#fff"/>
<rect x="114" y="267" width="1" height="1" fill="#fff"/>
<rect x="119" y="266" width="1" height="1" fill="#fff"/>
<rect x="118" y="267" width="1" height="1" fill="#fff"/>
<rect x="119" y="267" width="1" height="1" fill="#fff"/>
<rect x="123" y="267" width="1" height="1" fill="#fff"/>
<rect x="124" y="267" width="1" height="1" fill="#fff"/>
<rect x="128" y="266" width="1" height="1" fill="#fff"/>
<rect x="128" y="267" width="1" height="1" fill="#fff"/>
<rect x="133" y="266" width="1" height="1" fill="#fff"/>
<rect x="132" y="267" width="1" height="1" fill="#fff"/>
<rect x="133" y="267" width="1" height="1" fill="#fff"/>
<rect x="137" y="267" width="1" height="1" fill="#fff"/>
<rect x="138" y="267" width="1" height="1" fill="#fff"/>
<rect x="142" y="266" width="1" height="1" fill="#fff"/>
<rect x="142" y="267" width="1" height="1" fill="#fff"/>
<rect x="143" y="267" width="1" height="1" fill="#fff"/>
<rect x="147" y="266" width="1" height="1" fill="#fff"/>
<rect x="147" y="267" width="1" height="1" fill="#fff"/>
<rect x="151" y="267" width="1" height="1" fill="#fff"/>
<rect x="152" y="267" width="1" height="1" fill="#fff"/>
<rect x="156" y="266" width="1" height="1" fill="#fff"/>
<rect x="156" y="267" width="1" height="1" fill="#fff"/>
<rect x="157" y="267" width="1" height="1" fill="#fff"/>
<rect x="161" y="266" width="1" height="1" fill="#fff"/>
<rect x="161" y="267" width="1" height="1" fill="#fff"/>
<rect x="166" y="266" width="1" height="1" fill="#fff"/>
<rect x="165" y="267" width="1" height="1" fill="#fff"/>
<rect x="166" y="267" width="1" height="1" fill="#fff"/>
<rect x="170" y="267" width="1" height="1" fill="#fff"/>
<rect x="171" y="267" width="1" height="1" fill="#fff"/>
<rect x="175" y="266" width="1" height="1" fill="#fff"/>
<rect x="175" y="267" width="1" height="1" fill="#fff"/>
<rect x="180" y="266" width="1" height="1" fill="#fff"/>
<rect x="179" y="267" width="1" height="1" fill="#fff"/>
<rect x="180" y="267" width="1" height="1" fill="#fff"/>
<rect x="184" y="267" width="1" height="1" fill="#fff"/>
<rect x="185" y="267" width="1" height="1" fill="#fff"/>
<rect x="90" y="271" width="1" height="1" fill="#fff"/>
<rect x="91" y="271" width="1" height="1" fill="#fff"/>
<rect x="90" y="272" width="1" height="1" fill="#fff"/>
<rect x="91" y="272" width="1" height="1" fill="#fff"/>
<rect x="95" y="271" width="1" height="1" fill="#fff"/>
<rect x="95" y="272" width="1" height="1" fill="#fff"/>
<rect x="100" y="271" width="1" height="1" fill="#fff"/>
<rect x="100" y="272" width="1" height="1" fill="#fff"/>
<rect x="104" y="271" width="1" height="1" fill="#fff"/>
<rect x="105" y="271" width="1" height="1" fill="#fff"/>
<rect x="104" y="272" width="1" height="1" fill="#fff"/>
<rect x="105" y="272" width="1" height="1" fill="#fff"/>
<rect x="109" y="271" width="1" height="1" fill="#fff"/>
<rect x="109" y="272" width="1" height="1" fill="#fff"/>
<rect x="114" y="271" width="1" height="1" fill="#fff"/>
<rect x="114" y="272" width="1" height="1" fill="#fff"/>
<rect x="119" y="271" width="1" height="1" fill="#fff"/>
<rect x="119" y="272" width="1" height="1" fill="#fff"/>
<rect x="123" y="271" width="1" height="1" fill="#fff"/>
<rect x="124" y="271" width="1" height="1" fill="#fff"/>
<rect x="123" y="272" width="1" height="1" fill="#fff"/>
<rect x="124" y="272" width="1" height="1" fill="#fff"/>
<rect x="128" y="271" width="1" height="1" fill="#fff"/>
<rect x="128" y="272" width="1" height="1" fill="#fff"/>
<rect x="133" y="271" width="1" height="1" fill="#fff"/>
<rect x="133" y="272" width="1" height="1" fill="#fff"/>
<rect x="137" y="271" width="1" height="1" fill="#fff"/>
<rect x="138" y="271" width="1" height="1" fill="#fff"/>
<rect x="137" y="272" width="1" height="1" fill="#fff"/>
<rect x="138" y="272" width="1" height="1" fill="#fff"/>
<rect x="142" y="271" width="1" height="1" fill="#fff"/>
<rect x="142" y="272" width="1" height="1" fill="#fff"/>
<rect x="147" y="271" width="1" height="1" fill="#fff"/>
<rect x="147" y="272" width="1" height="1" fill="#fff"/>
<rect x="151" y="271" width="1" height="1" fill="#fff"/>
<rect x="152" y="271" width="1" height="1" fill="#fff"/>
<rect x="151" y="272" width="1" height="1" fill="#fff"/>
<rect x="152" y="272" width="1" height="1" fill="#fff"/>
<rect x="156" y="271" width="1" height="1" fill="#fff"/>
<rect x="156" y="272" width="1" height="1" fill="#fff"/>
<rect x="161" y="271" width="1" height="1" fill="#fff"/>
<rect x="161" y="272" width="1" height="1" fill="#fff"/>
<rect x="166" y="271" width="1" height="1" fill="#fff"/>
<rect x="166" y="272" width="1" height="1" fill="#fff"/>
<rect x="170" y="271" width="1" height="1" fill="#fff"/>
<rect x="171" y="271" width="1" height="1" fill="#fff"/>
<rect x="170" y="272" width="1" height="1" fill="#fff"/>
<rect x="171" y="272" width="1" height="1" fill="#fff"/>
<rect x="175" y="271" width="1" height="1" fill="#fff"/>
<rect x="175" y="272" width="1" height="1" fill="#fff"/>
<rect x="180" y="271" width="1" height="1" fill="#fff"/>
<rect x="180" y="272" width="1" height="1" fill="#fff"/>
<rect x="184" y="271" width="1" height="1" fill="#fff"/>
<rect x="185" y="271" width="1" height="1" fill="#fff"/>
<rect x="184" y="272" width="1" height="1" fill="#fff"/>
<rect x="185" y="272" width="1" height="1" fill="#fff"/>
<rect x="109" y="197" width="55" height="55" fill="#fff"/>
<rect x="191" y="161" width="9" height="104" fill="#000"/>
<rect x="192" y="162" width="6" height="101" fill="#fff"/>
<polygon points="200,265 196,268 192,270 191,270 191,265" fill="#000"/>
<rect x="79" y="167" width="4" height="23" fill="#000"/>
<rect x="81" y="168" width="1" height="21" fill="#fff"/>
<rect x="79" y="248" width="4" height="23" fill="#000"/>
<rect x="81" y="249" width="1" height="21" fill="#fff"/>
<rect x="227" y="153" width="105" height="1" fill="#000"/>
<rect x="227" y="154" width="104" height="1" fill="#000"/>
<rect x="227" y="156" width="104" height="13" fill="#000"/>
<rect x="227" y="170" width="104" height="1" fill="#000"/>
<rect x="227" y="172" width="108" height="106" fill="#000"/>
<rect x="332" y="161" width="3" height="11" fill="#000"/>
<text x="230.8" y="164.6" font-size="12.4" fill="#fff" stroke="#fff" stroke-width="0.35">A</text>
<text x="241" y="164.6" font-size="12.4" fill="#fff" stroke="#fff" stroke-width="0.35">M</text>
<text x="252" y="164.6" font-size="12.4" fill="#fff" stroke="#fff" stroke-width="0.35">P</text>
<rect x="264" y="158" width="25" height="3" fill="#fff"/>
<rect x="263" y="162" width="27" height="6" fill="#fff"/>
<rect x="234" y="177" width="1" height="1" fill="#fff"/>
<rect x="235" y="177" width="1" height="1" fill="#fff"/>
<rect x="234" y="178" width="1" height="1" fill="#fff"/>
<rect x="235" y="178" width="1" height="1" fill="#fff"/>
<rect x="239" y="177" width="1" height="1" fill="#fff"/>
<rect x="239" y="178" width="1" height="1" fill="#fff"/>
<rect x="244" y="177" width="1" height="1" fill="#fff"/>
<rect x="244" y="178" width="1" height="1" fill="#fff"/>
<rect x="248" y="177" width="1" height="1" fill="#fff"/>
<rect x="249" y="177" width="1" height="1" fill="#fff"/>
<rect x="248" y="178" width="1" height="1" fill="#fff"/>
<rect x="249" y="178" width="1" height="1" fill="#fff"/>
<rect x="253" y="177" width="1" height="1" fill="#fff"/>
<rect x="253" y="178" width="1" height="1" fill="#fff"/>
<rect x="258" y="177" width="1" height="1" fill="#fff"/>
<rect x="258" y="178" width="1" height="1" fill="#fff"/>
<rect x="263" y="177" width="1" height="1" fill="#fff"/>
<rect x="263" y="178" width="1" height="1" fill="#fff"/>
<rect x="267" y="177" width="1" height="1" fill="#fff"/>
<rect x="268" y="177" width="1" height="1" fill="#fff"/>
<rect x="267" y="178" width="1" height="1" fill="#fff"/>
<rect x="268" y="178" width="1" height="1" fill="#fff"/>
<rect x="272" y="177" width="1" height="1" fill="#fff"/>
<rect x="272" y="178" width="1" height="1" fill="#fff"/>
<rect x="277" y="177" width="1" height="1" fill="#fff"/>
<rect x="277" y="178" width="1" height="1" fill="#fff"/>
<rect x="281" y="177" width="1" height="1" fill="#fff"/>
<rect x="282" y="177" width="1" height="1" fill="#fff"/>
<rect x="281" y="178" width="1" height="1" fill="#fff"/>
<rect x="282" y="178" width="1" height="1" fill="#fff"/>
<rect x="286" y="177" width="1" height="1" fill="#fff"/>
<rect x="286" y="178" width="1" height="1" fill="#fff"/>
<rect x="291" y="177" width="1" height="1" fill="#fff"/>
<rect x="291" y="178" width="1" height="1" fill="#fff"/>
<rect x="295" y="177" width="1" height="1" fill="#fff"/>
<rect x="296" y="177" width="1" height="1" fill="#fff"/>
<rect x="295" y="178" width="1" height="1" fill="#fff"/>
<rect x="296" y="178" width="1" height="1" fill="#fff"/>
<rect x="300" y="177" width="1" height="1" fill="#fff"/>
<rect x="300" y="178" width="1" height="1" fill="#fff"/>
<rect x="305" y="177" width="1" height="1" fill="#fff"/>
<rect x="305" y="178" width="1" height="1" fill="#fff"/>
<rect x="310" y="177" width="1" height="1" fill="#fff"/>
<rect x="310" y="178" width="1" height="1" fill="#fff"/>
<rect x="314" y="177" width="1" height="1" fill="#fff"/>
<rect x="315" y="177" width="1" height="1" fill="#fff"/>
<rect x="314" y="178" width="1" height="1" fill="#fff"/>
<rect x="315" y="178" width="1" height="1" fill="#fff"/>
<rect x="319" y="177" width="1" height="1" fill="#fff"/>
<rect x="319" y="178" width="1" height="1" fill="#fff"/>
<rect x="324" y="177" width="1" height="1" fill="#fff"/>
<rect x="324" y="178" width="1" height="1" fill="#fff"/>
<rect x="328" y="177" width="1" height="1" fill="#fff"/>
<rect x="329" y="177" width="1" height="1" fill="#fff"/>
<rect x="328" y="178" width="1" height="1" fill="#fff"/>
<rect x="329" y="178" width="1" height="1" fill="#fff"/>
<rect x="234" y="182" width="1" height="1" fill="#fff"/>
<rect x="235" y="182" width="1" height="1" fill="#fff"/>
<rect x="239" y="182" width="1" height="1" fill="#fff"/>
<rect x="240" y="182" width="1" height="1" fill="#fff"/>
<rect x="239" y="183" width="1" height="1" fill="#fff"/>
<rect x="244" y="182" width="1" height="1" fill="#fff"/>
<rect x="244" y="183" width="1" height="1" fill="#fff"/>
<rect x="248" y="182" width="1" height="1" fill="#fff"/>
<rect x="249" y="182" width="1" height="1" fill="#fff"/>
<rect x="253" y="182" width="1" height="1" fill="#fff"/>
<rect x="254" y="182" width="1" height="1" fill="#fff"/>
<rect x="253" y="183" width="1" height="1" fill="#fff"/>
<rect x="258" y="182" width="1" height="1" fill="#fff"/>
<rect x="258" y="183" width="1" height="1" fill="#fff"/>
<rect x="262" y="182" width="1" height="1" fill="#fff"/>
<rect x="263" y="182" width="1" height="1" fill="#fff"/>
<rect x="263" y="183" width="1" height="1" fill="#fff"/>
<rect x="267" y="182" width="1" height="1" fill="#fff"/>
<rect x="268" y="182" width="1" height="1" fill="#fff"/>
<rect x="272" y="182" width="1" height="1" fill="#fff"/>
<rect x="272" y="183" width="1" height="1" fill="#fff"/>
<rect x="276" y="182" width="1" height="1" fill="#fff"/>
<rect x="277" y="182" width="1" height="1" fill="#fff"/>
<rect x="277" y="183" width="1" height="1" fill="#fff"/>
<rect x="281" y="182" width="1" height="1" fill="#fff"/>
<rect x="282" y="182" width="1" height="1" fill="#fff"/>
<rect x="286" y="182" width="1" height="1" fill="#fff"/>
<rect x="287" y="182" width="1" height="1" fill="#fff"/>
<rect x="286" y="183" width="1" height="1" fill="#fff"/>
<rect x="291" y="182" width="1" height="1" fill="#fff"/>
<rect x="291" y="183" width="1" height="1" fill="#fff"/>
<rect x="295" y="182" width="1" height="1" fill="#fff"/>
<rect x="296" y="182" width="1" height="1" fill="#fff"/>
<rect x="300" y="182" width="1" height="1" fill="#fff"/>
<rect x="301" y="182" width="1" height="1" fill="#fff"/>
<rect x="300" y="183" width="1" height="1" fill="#fff"/>
<rect x="305" y="182" width="1" height="1" fill="#fff"/>
<rect x="305" y="183" width="1" height="1" fill="#fff"/>
<rect x="309" y="182" width="1" height="1" fill="#fff"/>
<rect x="310" y="182" width="1" height="1" fill="#fff"/>
<rect x="310" y="183" width="1" height="1" fill="#fff"/>
<rect x="314" y="182" width="1" height="1" fill="#fff"/>
<rect x="315" y="182" width="1" height="1" fill="#fff"/>
<rect x="319" y="182" width="1" height="1" fill="#fff"/>
<rect x="319" y="183" width="1" height="1" fill="#fff"/>
<rect x="323" y="182" width="1" height="1" fill="#fff"/>
<rect x="324" y="182" width="1" height="1" fill="#fff"/>
<rect x="324" y="183" width="1" height="1" fill="#fff"/>
<rect x="328" y="182" width="1" height="1" fill="#fff"/>
<rect x="329" y="182" width="1" height="1" fill="#fff"/>
<rect x="234" y="187" width="1" height="1" fill="#fff"/>
<rect x="235" y="187" width="1" height="1" fill="#fff"/>
<rect x="239" y="187" width="1" height="1" fill="#fff"/>
<rect x="240" y="187" width="1" height="1" fill="#fff"/>
<rect x="244" y="187" width="1" height="1" fill="#fff"/>
<rect x="248" y="187" width="1" height="1" fill="#fff"/>
<rect x="249" y="187" width="1" height="1" fill="#fff"/>
<rect x="253" y="187" width="1" height="1" fill="#fff"/>
<rect x="254" y="187" width="1" height="1" fill="#fff"/>
<rect x="258" y="187" width="1" height="1" fill="#fff"/>
<rect x="262" y="187" width="1" height="1" fill="#fff"/>
<rect x="263" y="187" width="1" height="1" fill="#fff"/>
<rect x="267" y="187" width="1" height="1" fill="#fff"/>
<rect x="268" y="187" width="1" height="1" fill="#fff"/>
<rect x="272" y="187" width="1" height="1" fill="#fff"/>
<rect x="276" y="187" width="1" height="1" fill="#fff"/>
<rect x="277" y="187" width="1" height="1" fill="#fff"/>
<rect x="281" y="187" width="1" height="1" fill="#fff"/>
<rect x="282" y="187" width="1" height="1" fill="#fff"/>
<rect x="286" y="187" width="1" height="1" fill="#fff"/>
<rect x="287" y="187" width="1" height="1" fill="#fff"/>
<rect x="291" y="187" width="1" height="1" fill="#fff"/>
<rect x="295" y="187" width="1" height="1" fill="#fff"/>
<rect x="296" y="187" width="1" height="1" fill="#fff"/>
<rect x="300" y="187" width="1" height="1" fill="#fff"/>
<rect x="301" y="187" width="1" height="1" fill="#fff"/>
<rect x="305" y="187" width="1" height="1" fill="#fff"/>
<rect x="309" y="187" width="1" height="1" fill="#fff"/>
<rect x="310" y="187" width="1" height="1" fill="#fff"/>
<rect x="314" y="187" width="1" height="1" fill="#fff"/>
<rect x="315" y="187" width="1" height="1" fill="#fff"/>
<rect x="319" y="187" width="1" height="1" fill="#fff"/>
<rect x="323" y="187" width="1" height="1" fill="#fff"/>
<rect x="324" y="187" width="1" height="1" fill="#fff"/>
<rect x="328" y="187" width="1" height="1" fill="#fff"/>
<rect x="329" y="187" width="1" height="1" fill="#fff"/>
<rect x="234" y="191" width="1" height="1" fill="#fff"/>
<rect x="235" y="191" width="1" height="1" fill="#fff"/>
<rect x="234" y="192" width="1" height="1" fill="#fff"/>
<rect x="235" y="192" width="1" height="1" fill="#fff"/>
<rect x="239" y="191" width="1" height="1" fill="#fff"/>
<rect x="239" y="192" width="1" height="1" fill="#fff"/>
<rect x="244" y="191" width="1" height="1" fill="#fff"/>
<rect x="244" y="192" width="1" height="1" fill="#fff"/>
<rect x="248" y="191" width="1" height="1" fill="#fff"/>
<rect x="249" y="191" width="1" height="1" fill="#fff"/>
<rect x="248" y="192" width="1" height="1" fill="#fff"/>
<rect x="249" y="192" width="1" height="1" fill="#fff"/>
<rect x="253" y="191" width="1" height="1" fill="#fff"/>
<rect x="253" y="192" width="1" height="1" fill="#fff"/>
<rect x="254" y="192" width="1" height="1" fill="#fff"/>
<rect x="258" y="191" width="1" height="1" fill="#fff"/>
<rect x="258" y="192" width="1" height="1" fill="#fff"/>
<rect x="263" y="191" width="1" height="1" fill="#fff"/>
<rect x="262" y="192" width="1" height="1" fill="#fff"/>
<rect x="263" y="192" width="1" height="1" fill="#fff"/>
<rect x="267" y="191" width="1" height="1" fill="#fff"/>
<rect x="268" y="191" width="1" height="1" fill="#fff"/>
<rect x="267" y="192" width="1" height="1" fill="#fff"/>
<rect x="268" y="192" width="1" height="1" fill="#fff"/>
<rect x="272" y="191" width="1" height="1" fill="#fff"/>
<rect x="272" y="192" width="1" height="1" fill="#fff"/>
<rect x="277" y="191" width="1" height="1" fill="#fff"/>
<rect x="277" y="192" width="1" height="1" fill="#fff"/>
<rect x="281" y="191" width="1" height="1" fill="#fff"/>
<rect x="282" y="191" width="1" height="1" fill="#fff"/>
<rect x="281" y="192" width="1" height="1" fill="#fff"/>
<rect x="282" y="192" width="1" height="1" fill="#fff"/>
<rect x="286" y="191" width="1" height="1" fill="#fff"/>
<rect x="286" y="192" width="1" height="1" fill="#fff"/>
<rect x="291" y="191" width="1" height="1" fill="#fff"/>
<rect x="291" y="192" width="1" height="1" fill="#fff"/>
<rect x="295" y="191" width="1" height="1" fill="#fff"/>
<rect x="296" y="191" width="1" height="1" fill="#fff"/>
<rect x="295" y="192" width="1" height="1" fill="#fff"/>
<rect x="296" y="192" width="1" height="1" fill="#fff"/>
<rect x="300" y="191" width="1" height="1" fill="#fff"/>
<rect x="300" y="192" width="1" height="1" fill="#fff"/>
<rect x="301" y="192" width="1" height="1" fill="#fff"/>
<rect x="305" y="191" width="1" height="1" fill="#fff"/>
<rect x="305" y="192" width="1" height="1" fill="#fff"/>
<rect x="310" y="191" width="1" height="1" fill="#fff"/>
<rect x="309" y="192" width="1" height="1" fill="#fff"/>
<rect x="310" y="192" width="1" height="1" fill="#fff"/>
<rect x="314" y="191" width="1" height="1" fill="#fff"/>
<rect x="315" y="191" width="1" height="1" fill="#fff"/>
<rect x="314" y="192" width="1" height="1" fill="#fff"/>
<rect x="315" y="192" width="1" height="1" fill="#fff"/>
<rect x="319" y="191" width="1" height="1" fill="#fff"/>
<rect x="319" y="192" width="1" height="1" fill="#fff"/>
<rect x="324" y="191" width="1" height="1" fill="#fff"/>
<rect x="324" y="192" width="1" height="1" fill="#fff"/>
<rect x="328" y="191" width="1" height="1" fill="#fff"/>
<rect x="329" y="191" width="1" height="1" fill="#fff"/>
<rect x="328" y="192" width="1" height="1" fill="#fff"/>
<rect x="329" y="192" width="1" height="1" fill="#fff"/>
<rect x="234" y="196" width="1" height="1" fill="#fff"/>
<rect x="235" y="196" width="1" height="1" fill="#fff"/>
<rect x="239" y="196" width="1" height="1" fill="#fff"/>
<rect x="240" y="196" width="1" height="1" fill="#fff"/>
<rect x="239" y="197" width="1" height="1" fill="#fff"/>
<rect x="244" y="196" width="1" height="1" fill="#fff"/>
<rect x="244" y="197" width="1" height="1" fill="#fff"/>
<rect x="248" y="196" width="1" height="1" fill="#fff"/>
<rect x="249" y="196" width="1" height="1" fill="#fff"/>
<rect x="249" y="197" width="1" height="1" fill="#fff"/>
<rect x="314" y="196" width="1" height="1" fill="#fff"/>
<rect x="315" y="196" width="1" height="1" fill="#fff"/>
<rect x="314" y="197" width="1" height="1" fill="#fff"/>
<rect x="319" y="196" width="1" height="1" fill="#fff"/>
<rect x="319" y="197" width="1" height="1" fill="#fff"/>
<rect x="323" y="196" width="1" height="1" fill="#fff"/>
<rect x="324" y="196" width="1" height="1" fill="#fff"/>
<rect x="324" y="197" width="1" height="1" fill="#fff"/>
<rect x="328" y="196" width="1" height="1" fill="#fff"/>
<rect x="329" y="196" width="1" height="1" fill="#fff"/>
<rect x="234" y="201" width="1" height="1" fill="#fff"/>
<rect x="235" y="201" width="1" height="1" fill="#fff"/>
<rect x="239" y="201" width="1" height="1" fill="#fff"/>
<rect x="240" y="201" width="1" height="1" fill="#fff"/>
<rect x="244" y="201" width="1" height="1" fill="#fff"/>
<rect x="248" y="201" width="1" height="1" fill="#fff"/>
<rect x="249" y="201" width="1" height="1" fill="#fff"/>
<rect x="314" y="201" width="1" height="1" fill="#fff"/>
<rect x="315" y="201" width="1" height="1" fill="#fff"/>
<rect x="319" y="201" width="1" height="1" fill="#fff"/>
<rect x="323" y="201" width="1" height="1" fill="#fff"/>
<rect x="324" y="201" width="1" height="1" fill="#fff"/>
<rect x="328" y="201" width="1" height="1" fill="#fff"/>
<rect x="329" y="201" width="1" height="1" fill="#fff"/>
<rect x="234" y="206" width="1" height="1" fill="#fff"/>
<rect x="235" y="206" width="1" height="1" fill="#fff"/>
<rect x="239" y="205" width="1" height="1" fill="#fff"/>
<rect x="239" y="206" width="1" height="1" fill="#fff"/>
<rect x="240" y="206" width="1" height="1" fill="#fff"/>
<rect x="244" y="205" width="1" height="1" fill="#fff"/>
<rect x="244" y="206" width="1" height="1" fill="#fff"/>
<rect x="249" y="205" width="1" height="1" fill="#fff"/>
<rect x="248" y="206" width="1" height="1" fill="#fff"/>
<rect x="249" y="206" width="1" height="1" fill="#fff"/>
<rect x="314" y="205" width="1" height="1" fill="#fff"/>
<rect x="314" y="206" width="1" height="1" fill="#fff"/>
<rect x="315" y="206" width="1" height="1" fill="#fff"/>
<rect x="319" y="205" width="1" height="1" fill="#fff"/>
<rect x="319" y="206" width="1" height="1" fill="#fff"/>
<rect x="324" y="205" width="1" height="1" fill="#fff"/>
<rect x="323" y="206" width="1" height="1" fill="#fff"/>
<rect x="324" y="206" width="1" height="1" fill="#fff"/>
<rect x="328" y="206" width="1" height="1" fill="#fff"/>
<rect x="329" y="206" width="1" height="1" fill="#fff"/>
<rect x="234" y="210" width="1" height="1" fill="#fff"/>
<rect x="235" y="210" width="1" height="1" fill="#fff"/>
<rect x="234" y="211" width="1" height="1" fill="#fff"/>
<rect x="235" y="211" width="1" height="1" fill="#fff"/>
<rect x="239" y="210" width="1" height="1" fill="#fff"/>
<rect x="239" y="211" width="1" height="1" fill="#fff"/>
<rect x="244" y="210" width="1" height="1" fill="#fff"/>
<rect x="244" y="211" width="1" height="1" fill="#fff"/>
<rect x="248" y="210" width="1" height="1" fill="#fff"/>
<rect x="249" y="210" width="1" height="1" fill="#fff"/>
<rect x="248" y="211" width="1" height="1" fill="#fff"/>
<rect x="249" y="211" width="1" height="1" fill="#fff"/>
<rect x="314" y="210" width="1" height="1" fill="#fff"/>
<rect x="315" y="210" width="1" height="1" fill="#fff"/>
<rect x="314" y="211" width="1" height="1" fill="#fff"/>
<rect x="315" y="211" width="1" height="1" fill="#fff"/>
<rect x="319" y="210" width="1" height="1" fill="#fff"/>
<rect x="319" y="211" width="1" height="1" fill="#fff"/>
<rect x="324" y="210" width="1" height="1" fill="#fff"/>
<rect x="324" y="211" width="1" height="1" fill="#fff"/>
<rect x="328" y="210" width="1" height="1" fill="#fff"/>
<rect x="329" y="210" width="1" height="1" fill="#fff"/>
<rect x="328" y="211" width="1" height="1" fill="#fff"/>
<rect x="329" y="211" width="1" height="1" fill="#fff"/>
<rect x="234" y="215" width="1" height="1" fill="#fff"/>
<rect x="235" y="215" width="1" height="1" fill="#fff"/>
<rect x="239" y="215" width="1" height="1" fill="#fff"/>
<rect x="240" y="215" width="1" height="1" fill="#fff"/>
<rect x="244" y="215" width="1" height="1" fill="#fff"/>
<rect x="248" y="215" width="1" height="1" fill="#fff"/>
<rect x="249" y="215" width="1" height="1" fill="#fff"/>
<rect x="314" y="215" width="1" height="1" fill="#fff"/>
<rect x="315" y="215" width="1" height="1" fill="#fff"/>
<rect x="319" y="215" width="1" height="1" fill="#fff"/>
<rect x="323" y="215" width="1" height="1" fill="#fff"/>
<rect x="324" y="215" width="1" height="1" fill="#fff"/>
<rect x="328" y="215" width="1" height="1" fill="#fff"/>
<rect x="329" y="215" width="1" height="1" fill="#fff"/>
<rect x="234" y="220" width="1" height="1" fill="#fff"/>
<rect x="235" y="220" width="1" height="1" fill="#fff"/>
<rect x="239" y="219" width="1" height="1" fill="#fff"/>
<rect x="239" y="220" width="1" height="1" fill="#fff"/>
<rect x="240" y="220" width="1" height="1" fill="#fff"/>
<rect x="244" y="219" width="1" height="1" fill="#fff"/>
<rect x="244" y="220" width="1" height="1" fill="#fff"/>
<rect x="248" y="220" width="1" height="1" fill="#fff"/>
<rect x="249" y="220" width="1" height="1" fill="#fff"/>
<rect x="314" y="220" width="1" height="1" fill="#fff"/>
<rect x="315" y="220" width="1" height="1" fill="#fff"/>
<rect x="319" y="219" width="1" height="1" fill="#fff"/>
<rect x="319" y="220" width="1" height="1" fill="#fff"/>
<rect x="324" y="219" width="1" height="1" fill="#fff"/>
<rect x="323" y="220" width="1" height="1" fill="#fff"/>
<rect x="324" y="220" width="1" height="1" fill="#fff"/>
<rect x="328" y="220" width="1" height="1" fill="#fff"/>
<rect x="329" y="220" width="1" height="1" fill="#fff"/>
<rect x="234" y="224" width="1" height="1" fill="#fff"/>
<rect x="235" y="224" width="1" height="1" fill="#fff"/>
<rect x="234" y="225" width="1" height="1" fill="#fff"/>
<rect x="235" y="225" width="1" height="1" fill="#fff"/>
<rect x="239" y="224" width="1" height="1" fill="#fff"/>
<rect x="239" y="225" width="1" height="1" fill="#fff"/>
<rect x="244" y="224" width="1" height="1" fill="#fff"/>
<rect x="244" y="225" width="1" height="1" fill="#fff"/>
<rect x="248" y="224" width="1" height="1" fill="#fff"/>
<rect x="249" y="224" width="1" height="1" fill="#fff"/>
<rect x="248" y="225" width="1" height="1" fill="#fff"/>
<rect x="249" y="225" width="1" height="1" fill="#fff"/>
<rect x="314" y="224" width="1" height="1" fill="#fff"/>
<rect x="315" y="224" width="1" height="1" fill="#fff"/>
<rect x="314" y="225" width="1" height="1" fill="#fff"/>
<rect x="315" y="225" width="1" height="1" fill="#fff"/>
<rect x="319" y="224" width="1" height="1" fill="#fff"/>
<rect x="319" y="225" width="1" height="1" fill="#fff"/>
<rect x="324" y="224" width="1" height="1" fill="#fff"/>
<rect x="324" y="225" width="1" height="1" fill="#fff"/>
<rect x="328" y="224" width="1" height="1" fill="#fff"/>
<rect x="329" y="224" width="1" height="1" fill="#fff"/>
<rect x="328" y="225" width="1" height="1" fill="#fff"/>
<rect x="329" y="225" width="1" height="1" fill="#fff"/>
<rect x="234" y="229" width="1" height="1" fill="#fff"/>
<rect x="235" y="229" width="1" height="1" fill="#fff"/>
<rect x="239" y="229" width="1" height="1" fill="#fff"/>
<rect x="240" y="229" width="1" height="1" fill="#fff"/>
<rect x="239" y="230" width="1" height="1" fill="#fff"/>
<rect x="244" y="229" width="1" height="1" fill="#fff"/>
<rect x="244" y="230" width="1" height="1" fill="#fff"/>
<rect x="248" y="229" width="1" height="1" fill="#fff"/>
<rect x="249" y="229" width="1" height="1" fill="#fff"/>
<rect x="314" y="229" width="1" height="1" fill="#fff"/>
<rect x="315" y="229" width="1" height="1" fill="#fff"/>
<rect x="319" y="229" width="1" height="1" fill="#fff"/>
<rect x="319" y="230" width="1" height="1" fill="#fff"/>
<rect x="323" y="229" width="1" height="1" fill="#fff"/>
<rect x="324" y="229" width="1" height="1" fill="#fff"/>
<rect x="324" y="230" width="1" height="1" fill="#fff"/>
<rect x="328" y="229" width="1" height="1" fill="#fff"/>
<rect x="329" y="229" width="1" height="1" fill="#fff"/>
<rect x="234" y="234" width="1" height="1" fill="#fff"/>
<rect x="235" y="234" width="1" height="1" fill="#fff"/>
<rect x="239" y="234" width="1" height="1" fill="#fff"/>
<rect x="240" y="234" width="1" height="1" fill="#fff"/>
<rect x="244" y="234" width="1" height="1" fill="#fff"/>
<rect x="248" y="234" width="1" height="1" fill="#fff"/>
<rect x="249" y="234" width="1" height="1" fill="#fff"/>
<rect x="314" y="234" width="1" height="1" fill="#fff"/>
<rect x="315" y="234" width="1" height="1" fill="#fff"/>
<rect x="319" y="234" width="1" height="1" fill="#fff"/>
<rect x="323" y="234" width="1" height="1" fill="#fff"/>
<rect x="324" y="234" width="1" height="1" fill="#fff"/>
<rect x="328" y="234" width="1" height="1" fill="#fff"/>
<rect x="329" y="234" width="1" height="1" fill="#fff"/>
<rect x="234" y="238" width="1" height="1" fill="#fff"/>
<rect x="235" y="238" width="1" height="1" fill="#fff"/>
<rect x="234" y="239" width="1" height="1" fill="#fff"/>
<rect x="235" y="239" width="1" height="1" fill="#fff"/>
<rect x="239" y="238" width="1" height="1" fill="#fff"/>
<rect x="239" y="239" width="1" height="1" fill="#fff"/>
<rect x="244" y="238" width="1" height="1" fill="#fff"/>
<rect x="244" y="239" width="1" height="1" fill="#fff"/>
<rect x="248" y="238" width="1" height="1" fill="#fff"/>
<rect x="249" y="238" width="1" height="1" fill="#fff"/>
<rect x="248" y="239" width="1" height="1" fill="#fff"/>
<rect x="249" y="239" width="1" height="1" fill="#fff"/>
<rect x="314" y="238" width="1" height="1" fill="#fff"/>
<rect x="315" y="238" width="1" height="1" fill="#fff"/>
<rect x="314" y="239" width="1" height="1" fill="#fff"/>
<rect x="315" y="239" width="1" height="1" fill="#fff"/>
<rect x="319" y="238" width="1" height="1" fill="#fff"/>
<rect x="319" y="239" width="1" height="1" fill="#fff"/>
<rect x="324" y="238" width="1" height="1" fill="#fff"/>
<rect x="324" y="239" width="1" height="1" fill="#fff"/>
<rect x="328" y="238" width="1" height="1" fill="#fff"/>
<rect x="329" y="238" width="1" height="1" fill="#fff"/>
<rect x="328" y="239" width="1" height="1" fill="#fff"/>
<rect x="329" y="239" width="1" height="1" fill="#fff"/>
<rect x="234" y="243" width="1" height="1" fill="#fff"/>
<rect x="235" y="243" width="1" height="1" fill="#fff"/>
<rect x="239" y="243" width="1" height="1" fill="#fff"/>
<rect x="240" y="243" width="1" height="1" fill="#fff"/>
<rect x="239" y="244" width="1" height="1" fill="#fff"/>
<rect x="244" y="243" width="1" height="1" fill="#fff"/>
<rect x="244" y="244" width="1" height="1" fill="#fff"/>
<rect x="248" y="243" width="1" height="1" fill="#fff"/>
<rect x="249" y="243" width="1" height="1" fill="#fff"/>
<rect x="249" y="244" width="1" height="1" fill="#fff"/>
<rect x="314" y="243" width="1" height="1" fill="#fff"/>
<rect x="315" y="243" width="1" height="1" fill="#fff"/>
<rect x="314" y="244" width="1" height="1" fill="#fff"/>
<rect x="319" y="243" width="1" height="1" fill="#fff"/>
<rect x="319" y="244" width="1" height="1" fill="#fff"/>
<rect x="323" y="243" width="1" height="1" fill="#fff"/>
<rect x="324" y="243" width="1" height="1" fill="#fff"/>
<rect x="324" y="244" width="1" height="1" fill="#fff"/>
<rect x="328" y="243" width="1" height="1" fill="#fff"/>
<rect x="329" y="243" width="1" height="1" fill="#fff"/>
<rect x="234" y="248" width="1" height="1" fill="#fff"/>
<rect x="235" y="248" width="1" height="1" fill="#fff"/>
<rect x="239" y="248" width="1" height="1" fill="#fff"/>
<rect x="240" y="248" width="1" height="1" fill="#fff"/>
<rect x="244" y="248" width="1" height="1" fill="#fff"/>
<rect x="248" y="248" width="1" height="1" fill="#fff"/>
<rect x="249" y="248" width="1" height="1" fill="#fff"/>
<rect x="314" y="248" width="1" height="1" fill="#fff"/>
<rect x="315" y="248" width="1" height="1" fill="#fff"/>
<rect x="319" y="248" width="1" height="1" fill="#fff"/>
<rect x="323" y="248" width="1" height="1" fill="#fff"/>
<rect x="324" y="248" width="1" height="1" fill="#fff"/>
<rect x="328" y="248" width="1" height="1" fill="#fff"/>
<rect x="329" y="248" width="1" height="1" fill="#fff"/>
<rect x="234" y="253" width="1" height="1" fill="#fff"/>
<rect x="235" y="253" width="1" height="1" fill="#fff"/>
<rect x="239" y="252" width="1" height="1" fill="#fff"/>
<rect x="239" y="253" width="1" height="1" fill="#fff"/>
<rect x="240" y="253" width="1" height="1" fill="#fff"/>
<rect x="244" y="252" width="1" height="1" fill="#fff"/>
<rect x="244" y="253" width="1" height="1" fill="#fff"/>
<rect x="249" y="252" width="1" height="1" fill="#fff"/>
<rect x="248" y="253" width="1" height="1" fill="#fff"/>
<rect x="249" y="253" width="1" height="1" fill="#fff"/>
<rect x="314" y="252" width="1" height="1" fill="#fff"/>
<rect x="314" y="253" width="1" height="1" fill="#fff"/>
<rect x="315" y="253" width="1" height="1" fill="#fff"/>
<rect x="319" y="252" width="1" height="1" fill="#fff"/>
<rect x="319" y="253" width="1" height="1" fill="#fff"/>
<rect x="324" y="252" width="1" height="1" fill="#fff"/>
<rect x="323" y="253" width="1" height="1" fill="#fff"/>
<rect x="324" y="253" width="1" height="1" fill="#fff"/>
<rect x="328" y="253" width="1" height="1" fill="#fff"/>
<rect x="329" y="253" width="1" height="1" fill="#fff"/>
<rect x="234" y="257" width="1" height="1" fill="#fff"/>
<rect x="235" y="257" width="1" height="1" fill="#fff"/>
<rect x="234" y="258" width="1" height="1" fill="#fff"/>
<rect x="235" y="258" width="1" height="1" fill="#fff"/>
<rect x="239" y="257" width="1" height="1" fill="#fff"/>
<rect x="239" y="258" width="1" height="1" fill="#fff"/>
<rect x="244" y="257" width="1" height="1" fill="#fff"/>
<rect x="244" y="258" width="1" height="1" fill="#fff"/>
<rect x="248" y="257" width="1" height="1" fill="#fff"/>
<rect x="249" y="257" width="1" height="1" fill="#fff"/>
<rect x="248" y="258" width="1" height="1" fill="#fff"/>
<rect x="249" y="258" width="1" height="1" fill="#fff"/>
<rect x="253" y="257" width="1" height="1" fill="#fff"/>
<rect x="254" y="257" width="1" height="1" fill="#fff"/>
<rect x="253" y="258" width="1" height="1" fill="#fff"/>
<rect x="258" y="257" width="1" height="1" fill="#fff"/>
<rect x="258" y="258" width="1" height="1" fill="#fff"/>
<rect x="262" y="257" width="1" height="1" fill="#fff"/>
<rect x="263" y="257" width="1" height="1" fill="#fff"/>
<rect x="263" y="258" width="1" height="1" fill="#fff"/>
<rect x="267" y="257" width="1" height="1" fill="#fff"/>
<rect x="268" y="257" width="1" height="1" fill="#fff"/>
<rect x="267" y="258" width="1" height="1" fill="#fff"/>
<rect x="268" y="258" width="1" height="1" fill="#fff"/>
<rect x="272" y="257" width="1" height="1" fill="#fff"/>
<rect x="272" y="258" width="1" height="1" fill="#fff"/>
<rect x="277" y="257" width="1" height="1" fill="#fff"/>
<rect x="277" y="258" width="1" height="1" fill="#fff"/>
<rect x="281" y="257" width="1" height="1" fill="#fff"/>
<rect x="282" y="257" width="1" height="1" fill="#fff"/>
<rect x="281" y="258" width="1" height="1" fill="#fff"/>
<rect x="282" y="258" width="1" height="1" fill="#fff"/>
<rect x="286" y="257" width="1" height="1" fill="#fff"/>
<rect x="286" y="258" width="1" height="1" fill="#fff"/>
<rect x="291" y="257" width="1" height="1" fill="#fff"/>
<rect x="291" y="258" width="1" height="1" fill="#fff"/>
<rect x="295" y="257" width="1" height="1" fill="#fff"/>
<rect x="296" y="257" width="1" height="1" fill="#fff"/>
<rect x="295" y="258" width="1" height="1" fill="#fff"/>
<rect x="296" y="258" width="1" height="1" fill="#fff"/>
<rect x="300" y="257" width="1" height="1" fill="#fff"/>
<rect x="301" y="257" width="1" height="1" fill="#fff"/>
<rect x="300" y="258" width="1" height="1" fill="#fff"/>
<rect x="305" y="257" width="1" height="1" fill="#fff"/>
<rect x="305" y="258" width="1" height="1" fill="#fff"/>
<rect x="309" y="257" width="1" height="1" fill="#fff"/>
<rect x="310" y="257" width="1" height="1" fill="#fff"/>
<rect x="310" y="258" width="1" height="1" fill="#fff"/>
<rect x="314" y="257" width="1" height="1" fill="#fff"/>
<rect x="315" y="257" width="1" height="1" fill="#fff"/>
<rect x="314" y="258" width="1" height="1" fill="#fff"/>
<rect x="315" y="258" width="1" height="1" fill="#fff"/>
<rect x="319" y="257" width="1" height="1" fill="#fff"/>
<rect x="319" y="258" width="1" height="1" fill="#fff"/>
<rect x="324" y="257" width="1" height="1" fill="#fff"/>
<rect x="324" y="258" width="1" height="1" fill="#fff"/>
<rect x="328" y="257" width="1" height="1" fill="#fff"/>
<rect x="329" y="257" width="1" height="1" fill="#fff"/>
<rect x="328" y="258" width="1" height="1" fill="#fff"/>
<rect x="329" y="258" width="1" height="1" fill="#fff"/>
<rect x="234" y="262" width="1" height="1" fill="#fff"/>
<rect x="235" y="262" width="1" height="1" fill="#fff"/>
<rect x="239" y="262" width="1" height="1" fill="#fff"/>
<rect x="240" y="262" width="1" height="1" fill="#fff"/>
<rect x="244" y="262" width="1" height="1" fill="#fff"/>
<rect x="248" y="262" width="1" height="1" fill="#fff"/>
<rect x="249" y="262" width="1" height="1" fill="#fff"/>
<rect x="253" y="262" width="1" height="1" fill="#fff"/>
<rect x="254" y="262" width="1" height="1" fill="#fff"/>
<rect x="258" y="262" width="1" height="1" fill="#fff"/>
<rect x="262" y="262" width="1" height="1" fill="#fff"/>
<rect x="263" y="262" width="1" height="1" fill="#fff"/>
<rect x="267" y="262" width="1" height="1" fill="#fff"/>
<rect x="268" y="262" width="1" height="1" fill="#fff"/>
<rect x="272" y="262" width="1" height="1" fill="#fff"/>
<rect x="276" y="262" width="1" height="1" fill="#fff"/>
<rect x="277" y="262" width="1" height="1" fill="#fff"/>
<rect x="281" y="262" width="1" height="1" fill="#fff"/>
<rect x="282" y="262" width="1" height="1" fill="#fff"/>
<rect x="286" y="262" width="1" height="1" fill="#fff"/>
<rect x="287" y="262" width="1" height="1" fill="#fff"/>
<rect x="291" y="262" width="1" height="1" fill="#fff"/>
<rect x="295" y="262" width="1" height="1" fill="#fff"/>
<rect x="296" y="262" width="1" height="1" fill="#fff"/>
<rect x="300" y="262" width="1" height="1" fill="#fff"/>
<rect x="301" y="262" width="1" height="1" fill="#fff"/>
<rect x="305" y="262" width="1" height="1" fill="#fff"/>
<rect x="309" y="262" width="1" height="1" fill="#fff"/>
<rect x="310" y="262" width="1" height="1" fill="#fff"/>
<rect x="314" y="262" width="1" height="1" fill="#fff"/>
<rect x="315" y="262" width="1" height="1" fill="#fff"/>
<rect x="319" y="262" width="1" height="1" fill="#fff"/>
<rect x="323" y="262" width="1" height="1" fill="#fff"/>
<rect x="324" y="262" width="1" height="1" fill="#fff"/>
<rect x="328" y="262" width="1" height="1" fill="#fff"/>
<rect x="329" y="262" width="1" height="1" fill="#fff"/>
<rect x="234" y="267" width="1" height="1" fill="#fff"/>
<rect x="235" y="267" width="1" height="1" fill="#fff"/>
<rect x="239" y="266" width="1" height="1" fill="#fff"/>
<rect x="239" y="267" width="1" height="1" fill="#fff"/>
<rect x="240" y="267" width="1" height="1" fill="#fff"/>
<rect x="244" y="266" width="1" height="1" fill="#fff"/>
<rect x="244" y="267" width="1" height="1" fill="#fff"/>
<rect x="248" y="267" width="1" height="1" fill="#fff"/>
<rect x="249" y="267" width="1" height="1" fill="#fff"/>
<rect x="253" y="266" width="1" height="1" fill="#fff"/>
<rect x="253" y="267" width="1" height="1" fill="#fff"/>
<rect x="254" y="267" width="1" height="1" fill="#fff"/>
<rect x="258" y="266" width="1" height="1" fill="#fff"/>
<rect x="258" y="267" width="1" height="1" fill="#fff"/>
<rect x="263" y="266" width="1" height="1" fill="#fff"/>
<rect x="262" y="267" width="1" height="1" fill="#fff"/>
<rect x="263" y="267" width="1" height="1" fill="#fff"/>
<rect x="267" y="267" width="1" height="1" fill="#fff"/>
<rect x="268" y="267" width="1" height="1" fill="#fff"/>
<rect x="272" y="266" width="1" height="1" fill="#fff"/>
<rect x="272" y="267" width="1" height="1" fill="#fff"/>
<rect x="277" y="266" width="1" height="1" fill="#fff"/>
<rect x="276" y="267" width="1" height="1" fill="#fff"/>
<rect x="277" y="267" width="1" height="1" fill="#fff"/>
<rect x="281" y="267" width="1" height="1" fill="#fff"/>
<rect x="282" y="267" width="1" height="1" fill="#fff"/>
<rect x="286" y="266" width="1" height="1" fill="#fff"/>
<rect x="286" y="267" width="1" height="1" fill="#fff"/>
<rect x="287" y="267" width="1" height="1" fill="#fff"/>
<rect x="291" y="266" width="1" height="1" fill="#fff"/>
<rect x="291" y="267" width="1" height="1" fill="#fff"/>
<rect x="295" y="267" width="1" height="1" fill="#fff"/>
<rect x="296" y="267" width="1" height="1" fill="#fff"/>
<rect x="300" y="266" width="1" height="1" fill="#fff"/>
<rect x="300" y="267" width="1" height="1" fill="#fff"/>
<rect x="301" y="267" width="1" height="1" fill="#fff"/>
<rect x="305" y="266" width="1" height="1" fill="#fff"/>
<rect x="305" y="267" width="1" height="1" fill="#fff"/>
<rect x="310" y="266" width="1" height="1" fill="#fff"/>
<rect x="309" y="267" width="1" height="1" fill="#fff"/>
<rect x="310" y="267" width="1" height="1" fill="#fff"/>
<rect x="314" y="267" width="1" height="1" fill="#fff"/>
<rect x="315" y="267" width="1" height="1" fill="#fff"/>
<rect x="319" y="266" width="1" height="1" fill="#fff"/>
<rect x="319" y="267" width="1" height="1" fill="#fff"/>
<rect x="324" y="266" width="1" height="1" fill="#fff"/>
<rect x="323" y="267" width="1" height="1" fill="#fff"/>
<rect x="324" y="267" width="1" height="1" fill="#fff"/>
<rect x="328" y="267" width="1" height="1" fill="#fff"/>
<rect x="329" y="267" width="1" height="1" fill="#fff"/>
<rect x="234" y="271" width="1" height="1" fill="#fff"/>
<rect x="235" y="271" width="1" height="1" fill="#fff"/>
<rect x="234" y="272" width="1" height="1" fill="#fff"/>
<rect x="235" y="272" width="1" height="1" fill="#fff"/>
<rect x="239" y="271" width="1" height="1" fill="#fff"/>
<rect x="239" y="272" width="1" height="1" fill="#fff"/>
<rect x="244" y="271" width="1" height="1" fill="#fff"/>
<rect x="244" y="272" width="1" height="1" fill="#fff"/>
<rect x="248" y="271" width="1" height="1" fill="#fff"/>
<rect x="249" y="271" width="1" height="1" fill="#fff"/>
<rect x="248" y="272" width="1" height="1" fill="#fff"/>
<rect x="249" y="272" width="1" height="1" fill="#fff"/>
<rect x="253" y="271" width="1" height="1" fill="#fff"/>
<rect x="253" y="272" width="1" height="1" fill="#fff"/>
<rect x="258" y="271" width="1" height="1" fill="#fff"/>
<rect x="258" y="272" width="1" height="1" fill="#fff"/>
<rect x="263" y="271" width="1" height="1" fill="#fff"/>
<rect x="263" y="272" width="1" height="1" fill="#fff"/>
<rect x="267" y="271" width="1" height="1" fill="#fff"/>
<rect x="268" y="271" width="1" height="1" fill="#fff"/>
<rect x="267" y="272" width="1" height="1" fill="#fff"/>
<rect x="268" y="272" width="1" height="1" fill="#fff"/>
<rect x="272" y="271" width="1" height="1" fill="#fff"/>
<rect x="272" y="272" width="1" height="1" fill="#fff"/>
<rect x="277" y="271" width="1" height="1" fill="#fff"/>
<rect x="277" y="272" width="1" height="1" fill="#fff"/>
<rect x="281" y="271" width="1" height="1" fill="#fff"/>
<rect x="282" y="271" width="1" height="1" fill="#fff"/>
<rect x="281" y="272" width="1" height="1" fill="#fff"/>
<rect x="282" y="272" width="1" height="1" fill="#fff"/>
<rect x="286" y="271" width="1" height="1" fill="#fff"/>
<rect x="286" y="272" width="1" height="1" fill="#fff"/>
<rect x="291" y="271" width="1" height="1" fill="#fff"/>
<rect x="291" y="272" width="1" height="1" fill="#fff"/>
<rect x="295" y="271" width="1" height="1" fill="#fff"/>
<rect x="296" y="271" width="1" height="1" fill="#fff"/>
<rect x="295" y="272" width="1" height="1" fill="#fff"/>
<rect x="296" y="272" width="1" height="1" fill="#fff"/>
<rect x="300" y="271" width="1" height="1" fill="#fff"/>
<rect x="300" y="272" width="1" height="1" fill="#fff"/>
<rect x="305" y="271" width="1" height="1" fill="#fff"/>
<rect x="305" y="272" width="1" height="1" fill="#fff"/>
<rect x="310" y="271" width="1" height="1" fill="#fff"/>
<rect x="310" y="272" width="1" height="1" fill="#fff"/>
<rect x="314" y="271" width="1" height="1" fill="#fff"/>
<rect x="315" y="271" width="1" height="1" fill="#fff"/>
<rect x="314" y="272" width="1" height="1" fill="#fff"/>
<rect x="315" y="272" width="1" height="1" fill="#fff"/>
<rect x="319" y="271" width="1" height="1" fill="#fff"/>
<rect x="319" y="272" width="1" height="1" fill="#fff"/>
<rect x="324" y="271" width="1" height="1" fill="#fff"/>
<rect x="324" y="272" width="1" height="1" fill="#fff"/>
<rect x="328" y="271" width="1" height="1" fill="#fff"/>
<rect x="329" y="271" width="1" height="1" fill="#fff"/>
<rect x="328" y="272" width="1" height="1" fill="#fff"/>
<rect x="329" y="272" width="1" height="1" fill="#fff"/>
<rect x="253" y="197" width="55" height="55" fill="#fff"/>
<rect x="335" y="161" width="8" height="104" fill="#000"/>
<rect x="336" y="162" width="6" height="101" fill="#fff"/>
<polygon points="344,265 340,268 336,270 335,270 335,265" fill="#000"/>
<rect x="223" y="167" width="4" height="23" fill="#000"/>
<rect x="225" y="168" width="1" height="21" fill="#fff"/>
<rect x="223" y="248" width="4" height="23" fill="#000"/>
<rect x="225" y="249" width="1" height="21" fill="#fff"/>
<rect x="121" y="215" width="31" height="15" fill="#000"/>
<rect x="120" y="216" width="33" height="13" fill="#000"/>
<rect x="122" y="217" width="29" height="11" fill="#fff"/>
<text x="136.5" y="226.0" font-size="10.5" fill="#000" text-anchor="middle" >CPU1</text>
<rect x="266" y="215" width="32" height="16" fill="#000"/>
<rect x="265" y="216" width="34" height="14" fill="#000"/>
<rect x="267" y="217" width="30" height="12" fill="#fff"/>
<text x="282.5" y="225.5" font-size="10.5" fill="#000" text-anchor="middle" >CPU2</text>
<rect x="289" y="394" width="222" height="26" fill="#000"/>
<rect x="290" y="395" width="5" height="1" fill="#fff"/>
<rect x="505" y="395" width="5" height="1" fill="#fff"/>
<rect x="290" y="397" width="5" height="4" fill="#fff"/>
<rect x="505" y="397" width="5" height="4" fill="#fff"/>
<rect x="290" y="402" width="5" height="4" fill="#fff"/>
<rect x="505" y="402" width="5" height="4" fill="#fff"/>
<rect x="298" y="395" width="10" height="1" fill="#fff"/>
<rect x="492" y="395" width="10" height="1" fill="#fff"/>
<rect x="306" y="396" width="1" height="4" fill="#fff"/>
<rect x="493" y="396" width="1" height="4" fill="#fff"/>
<rect x="307" y="400" width="1" height="5" fill="#fff"/>
<rect x="492" y="400" width="1" height="5" fill="#fff"/>
<rect x="299" y="397" width="6" height="5" fill="#fff"/>
<rect x="495" y="397" width="6" height="5" fill="#fff"/>
<rect x="300" y="398" width="4" height="2" fill="#000"/>
<rect x="495" y="398" width="4" height="2" fill="#000"/>
<rect x="300" y="400" width="1" height="2" fill="#000"/>
<rect x="498" y="400" width="1" height="2" fill="#000"/>
<rect x="303" y="401" width="2" height="1" fill="#000"/>
<rect x="494" y="401" width="2" height="1" fill="#000"/>
<rect x="298" y="402" width="5" height="2" fill="#fff"/>
<rect x="497" y="402" width="5" height="2" fill="#fff"/>
<rect x="298" y="402" width="2" height="1" fill="#000"/>
<rect x="499" y="402" width="2" height="1" fill="#000"/>
<rect x="304" y="404" width="4" height="1" fill="#fff"/>
<rect x="492" y="404" width="4" height="1" fill="#fff"/>
<rect x="304" y="405" width="192" height="1" fill="#fff"/>
<rect x="314" y="397" width="1" height="3" fill="#fff"/>
<rect x="316" y="397" width="1" height="3" fill="#fff"/>
<rect x="318" y="397" width="1" height="3" fill="#fff"/>
<rect x="320" y="397" width="1" height="3" fill="#fff"/>
<rect x="322" y="397" width="1" height="3" fill="#fff"/>
<rect x="324" y="397" width="1" height="3" fill="#fff"/>
<rect x="331" y="397" width="1" height="3" fill="#fff"/>
<rect x="333" y="397" width="1" height="3" fill="#fff"/>
<rect x="335" y="397" width="1" height="3" fill="#fff"/>
<rect x="337" y="397" width="1" height="3" fill="#fff"/>
<rect x="339" y="397" width="1" height="3" fill="#fff"/>
<rect x="341" y="397" width="1" height="3" fill="#fff"/>
<rect x="348" y="397" width="1" height="3" fill="#fff"/>
<rect x="350" y="397" width="1" height="3" fill="#fff"/>
<rect x="352" y="397" width="1" height="3" fill="#fff"/>
<rect x="354" y="397" width="1" height="3" fill="#fff"/>
<rect x="363" y="397" width="1" height="3" fill="#fff"/>
<rect x="365" y="397" width="1" height="3" fill="#fff"/>
<rect x="367" y="397" width="1" height="3" fill="#fff"/>
<rect x="369" y="397" width="1" height="3" fill="#fff"/>
<rect x="429" y="397" width="1" height="3" fill="#fff"/>
<rect x="431" y="397" width="1" height="3" fill="#fff"/>
<rect x="433" y="397" width="1" height="3" fill="#fff"/>
<rect x="435" y="397" width="1" height="3" fill="#fff"/>
<rect x="437" y="397" width="1" height="3" fill="#fff"/>
<rect x="439" y="397" width="1" height="3" fill="#fff"/>
<rect x="446" y="397" width="1" height="3" fill="#fff"/>
<rect x="448" y="397" width="1" height="3" fill="#fff"/>
<rect x="450" y="397" width="1" height="3" fill="#fff"/>
<rect x="452" y="397" width="1" height="3" fill="#fff"/>
<rect x="454" y="397" width="1" height="3" fill="#fff"/>
<rect x="463" y="397" width="1" height="3" fill="#fff"/>
<rect x="465" y="397" width="1" height="3" fill="#fff"/>
<rect x="467" y="397" width="1" height="3" fill="#fff"/>
<rect x="478" y="397" width="1" height="3" fill="#fff"/>
<rect x="480" y="397" width="1" height="3" fill="#fff"/>
<rect x="482" y="397" width="1" height="3" fill="#fff"/>
<rect x="484" y="397" width="1" height="3" fill="#fff"/>
<rect x="489" y="397" width="1" height="3" fill="#fff"/>
<rect x="378" y="397" width="1" height="2" fill="#fff"/>
<rect x="380" y="397" width="1" height="2" fill="#fff"/>
<rect x="382" y="397" width="1" height="2" fill="#fff"/>
<rect x="384" y="397" width="1" height="2" fill="#fff"/>
<rect x="386" y="397" width="1" height="2" fill="#fff"/>
<rect x="391" y="397" width="1" height="2" fill="#fff"/>
<rect x="393" y="397" width="1" height="2" fill="#fff"/>
<rect x="405" y="397" width="1" height="2" fill="#fff"/>
<rect x="407" y="397" width="1" height="2" fill="#fff"/>
<rect x="416" y="397" width="1" height="2" fill="#fff"/>
<rect x="418" y="397" width="1" height="2" fill="#fff"/>
<rect x="420" y="397" width="1" height="2" fill="#fff"/>
<rect x="320" y="395" width="1" height="1" fill="#fff"/>
<rect x="322" y="395" width="1" height="1" fill="#fff"/>
<rect x="333" y="395" width="1" height="1" fill="#fff"/>
<rect x="335" y="395" width="1" height="1" fill="#fff"/>
<rect x="337" y="395" width="1" height="1" fill="#fff"/>
<rect x="350" y="395" width="1" height="1" fill="#fff"/>
<rect x="352" y="395" width="1" height="1" fill="#fff"/>
<rect x="367" y="395" width="1" height="1" fill="#fff"/>
<rect x="382" y="395" width="1" height="1" fill="#fff"/>
<rect x="384" y="395" width="1" height="1" fill="#fff"/>
<rect x="393" y="395" width="1" height="1" fill="#fff"/>
<rect x="418" y="395" width="1" height="1" fill="#fff"/>
<rect x="420" y="395" width="1" height="1" fill="#fff"/>
<rect x="431" y="395" width="1" height="1" fill="#fff"/>
<rect x="433" y="395" width="1" height="1" fill="#fff"/>
<rect x="435" y="395" width="1" height="1" fill="#fff"/>
<rect x="437" y="395" width="1" height="1" fill="#fff"/>
<rect x="448" y="395" width="1" height="1" fill="#fff"/>
<rect x="450" y="395" width="1" height="1" fill="#fff"/>
<rect x="465" y="395" width="1" height="1" fill="#fff"/>
<rect x="480" y="395" width="1" height="1" fill="#fff"/>
<rect x="482" y="395" width="1" height="1" fill="#fff"/>
<rect x="290" y="408" width="5" height="2" fill="#fff"/>
<rect x="505" y="408" width="5" height="2" fill="#fff"/>
<rect x="290" y="411" width="5" height="3" fill="#fff"/>
<rect x="505" y="411" width="5" height="3" fill="#fff"/>
<rect x="290" y="415" width="5" height="4" fill="#fff"/>
<rect x="505" y="415" width="5" height="4" fill="#fff"/>
<rect x="298" y="408" width="10" height="1" fill="#fff"/>
<rect x="492" y="408" width="10" height="1" fill="#fff"/>
<rect x="306" y="409" width="1" height="4" fill="#fff"/>
<rect x="493" y="409" width="1" height="4" fill="#fff"/>
<rect x="307" y="413" width="1" height="5" fill="#fff"/>
<rect x="492" y="413" width="1" height="5" fill="#fff"/>
<rect x="299" y="410" width="6" height="5" fill="#fff"/>
<rect x="495" y="410" width="6" height="5" fill="#fff"/>
<rect x="300" y="411" width="4" height="2" fill="#000"/>
<rect x="495" y="411" width="4" height="2" fill="#000"/>
<rect x="300" y="413" width="1" height="2" fill="#000"/>
<rect x="498" y="413" width="1" height="2" fill="#000"/>
<rect x="303" y="414" width="2" height="1" fill="#000"/>
<rect x="494" y="414" width="2" height="1" fill="#000"/>
<rect x="298" y="415" width="5" height="2" fill="#fff"/>
<rect x="497" y="415" width="5" height="2" fill="#fff"/>
<rect x="298" y="415" width="2" height="1" fill="#000"/>
<rect x="499" y="415" width="2" height="1" fill="#000"/>
<rect x="304" y="417" width="4" height="1" fill="#fff"/>
<rect x="492" y="417" width="4" height="1" fill="#fff"/>
<rect x="304" y="418" width="192" height="1" fill="#fff"/>
<rect x="314" y="410" width="1" height="4" fill="#fff"/>
<rect x="316" y="410" width="1" height="4" fill="#fff"/>
<rect x="318" y="410" width="1" height="4" fill="#fff"/>
<rect x="320" y="410" width="1" height="4" fill="#fff"/>
<rect x="322" y="410" width="1" height="4" fill="#fff"/>
<rect x="324" y="410" width="1" height="4" fill="#fff"/>
<rect x="331" y="410" width="1" height="4" fill="#fff"/>
<rect x="333" y="410" width="1" height="4" fill="#fff"/>
<rect x="335" y="410" width="1" height="4" fill="#fff"/>
<rect x="337" y="410" width="1" height="4" fill="#fff"/>
<rect x="339" y="410" width="1" height="4" fill="#fff"/>
<rect x="341" y="410" width="1" height="4" fill="#fff"/>
<rect x="348" y="410" width="1" height="4" fill="#fff"/>
<rect x="350" y="410" width="1" height="4" fill="#fff"/>
<rect x="352" y="410" width="1" height="4" fill="#fff"/>
<rect x="354" y="410" width="1" height="4" fill="#fff"/>
<rect x="363" y="410" width="1" height="4" fill="#fff"/>
<rect x="365" y="410" width="1" height="4" fill="#fff"/>
<rect x="367" y="410" width="1" height="4" fill="#fff"/>
<rect x="369" y="410" width="1" height="4" fill="#fff"/>
<rect x="429" y="410" width="1" height="4" fill="#fff"/>
<rect x="431" y="410" width="1" height="4" fill="#fff"/>
<rect x="433" y="410" width="1" height="4" fill="#fff"/>
<rect x="435" y="410" width="1" height="4" fill="#fff"/>
<rect x="437" y="410" width="1" height="4" fill="#fff"/>
<rect x="439" y="410" width="1" height="4" fill="#fff"/>
<rect x="446" y="410" width="1" height="4" fill="#fff"/>
<rect x="448" y="410" width="1" height="4" fill="#fff"/>
<rect x="450" y="410" width="1" height="4" fill="#fff"/>
<rect x="452" y="410" width="1" height="4" fill="#fff"/>
<rect x="454" y="410" width="1" height="4" fill="#fff"/>
<rect x="463" y="410" width="1" height="4" fill="#fff"/>
<rect x="465" y="410" width="1" height="4" fill="#fff"/>
<rect x="467" y="410" width="1" height="4" fill="#fff"/>
<rect x="478" y="410" width="1" height="4" fill="#fff"/>
<rect x="480" y="410" width="1" height="4" fill="#fff"/>
<rect x="482" y="410" width="1" height="4" fill="#fff"/>
<rect x="484" y="410" width="1" height="4" fill="#fff"/>
<rect x="489" y="410" width="1" height="4" fill="#fff"/>
<rect x="296" y="408" width="208" height="1" fill="#fff"/>
<rect x="376" y="401" width="48" height="12" fill="#000"/>
<rect x="378" y="401" width="44" height="11" fill="#fff"/>
<rect x="421" y="401" width="1" height="1" fill="#000"/>
<rect x="395" y="395" width="9" height="1" fill="#fff"/>
<rect x="396" y="396" width="7" height="3" fill="#fff"/>
<rect x="396" y="414" width="7" height="5" fill="#fff"/>
<text x="399.5" y="411" font-size="10.5" fill="#000" text-anchor="middle" letter-spacing="0.4" >BANK 0</text>
<rect x="289" y="421" width="222" height="26" fill="#000"/>
<rect x="290" y="422" width="5" height="1" fill="#fff"/>
<rect x="505" y="422" width="5" height="1" fill="#fff"/>
<rect x="290" y="424" width="5" height="4" fill="#fff"/>
<rect x="505" y="424" width="5" height="4" fill="#fff"/>
<rect x="290" y="429" width="5" height="4" fill="#fff"/>
<rect x="505" y="429" width="5" height="4" fill="#fff"/>
<rect x="298" y="422" width="10" height="1" fill="#fff"/>
<rect x="492" y="422" width="10" height="1" fill="#fff"/>
<rect x="306" y="423" width="1" height="4" fill="#fff"/>
<rect x="493" y="423" width="1" height="4" fill="#fff"/>
<rect x="307" y="427" width="1" height="5" fill="#fff"/>
<rect x="492" y="427" width="1" height="5" fill="#fff"/>
<rect x="299" y="424" width="6" height="5" fill="#fff"/>
<rect x="495" y="424" width="6" height="5" fill="#fff"/>
<rect x="300" y="425" width="4" height="2" fill="#000"/>
<rect x="495" y="425" width="4" height="2" fill="#000"/>
<rect x="300" y="427" width="1" height="2" fill="#000"/>
<rect x="498" y="427" width="1" height="2" fill="#000"/>
<rect x="303" y="428" width="2" height="1" fill="#000"/>
<rect x="494" y="428" width="2" height="1" fill="#000"/>
<rect x="298" y="429" width="5" height="2" fill="#fff"/>
<rect x="497" y="429" width="5" height="2" fill="#fff"/>
<rect x="298" y="429" width="2" height="1" fill="#000"/>
<rect x="499" y="429" width="2" height="1" fill="#000"/>
<rect x="304" y="431" width="4" height="1" fill="#fff"/>
<rect x="492" y="431" width="4" height="1" fill="#fff"/>
<rect x="304" y="432" width="192" height="1" fill="#fff"/>
<rect x="314" y="424" width="1" height="3" fill="#fff"/>
<rect x="316" y="424" width="1" height="3" fill="#fff"/>
<rect x="318" y="424" width="1" height="3" fill="#fff"/>
<rect x="320" y="424" width="1" height="3" fill="#fff"/>
<rect x="322" y="424" width="1" height="3" fill="#fff"/>
<rect x="324" y="424" width="1" height="3" fill="#fff"/>
<rect x="331" y="424" width="1" height="3" fill="#fff"/>
<rect x="333" y="424" width="1" height="3" fill="#fff"/>
<rect x="335" y="424" width="1" height="3" fill="#fff"/>
<rect x="337" y="424" width="1" height="3" fill="#fff"/>
<rect x="339" y="424" width="1" height="3" fill="#fff"/>
<rect x="341" y="424" width="1" height="3" fill="#fff"/>
<rect x="348" y="424" width="1" height="3" fill="#fff"/>
<rect x="350" y="424" width="1" height="3" fill="#fff"/>
<rect x="352" y="424" width="1" height="3" fill="#fff"/>
<rect x="354" y="424" width="1" height="3" fill="#fff"/>
<rect x="363" y="424" width="1" height="3" fill="#fff"/>
<rect x="365" y="424" width="1" height="3" fill="#fff"/>
<rect x="367" y="424" width="1" height="3" fill="#fff"/>
<rect x="369" y="424" width="1" height="3" fill="#fff"/>
<rect x="429" y="424" width="1" height="3" fill="#fff"/>
<rect x="431" y="424" width="1" height="3" fill="#fff"/>
<rect x="433" y="424" width="1" height="3" fill="#fff"/>
<rect x="435" y="424" width="1" height="3" fill="#fff"/>
<rect x="437" y="424" width="1" height="3" fill="#fff"/>
<rect x="439" y="424" width="1" height="3" fill="#fff"/>
<rect x="446" y="424" width="1" height="3" fill="#fff"/>
<rect x="448" y="424" width="1" height="3" fill="#fff"/>
<rect x="450" y="424" width="1" height="3" fill="#fff"/>
<rect x="452" y="424" width="1" height="3" fill="#fff"/>
<rect x="454" y="424" width="1" height="3" fill="#fff"/>
<rect x="463" y="424" width="1" height="3" fill="#fff"/>
<rect x="465" y="424" width="1" height="3" fill="#fff"/>
<rect x="467" y="424" width="1" height="3" fill="#fff"/>
<rect x="478" y="424" width="1" height="3" fill="#fff"/>
<rect x="480" y="424" width="1" height="3" fill="#fff"/>
<rect x="482" y="424" width="1" height="3" fill="#fff"/>
<rect x="484" y="424" width="1" height="3" fill="#fff"/>
<rect x="489" y="424" width="1" height="3" fill="#fff"/>
<rect x="378" y="424" width="1" height="2" fill="#fff"/>
<rect x="380" y="424" width="1" height="2" fill="#fff"/>
<rect x="382" y="424" width="1" height="2" fill="#fff"/>
<rect x="384" y="424" width="1" height="2" fill="#fff"/>
<rect x="386" y="424" width="1" height="2" fill="#fff"/>
<rect x="391" y="424" width="1" height="2" fill="#fff"/>
<rect x="393" y="424" width="1" height="2" fill="#fff"/>
<rect x="405" y="424" width="1" height="2" fill="#fff"/>
<rect x="407" y="424" width="1" height="2" fill="#fff"/>
<rect x="416" y="424" width="1" height="2" fill="#fff"/>
<rect x="418" y="424" width="1" height="2" fill="#fff"/>
<rect x="420" y="424" width="1" height="2" fill="#fff"/>
<rect x="320" y="422" width="1" height="1" fill="#fff"/>
<rect x="322" y="422" width="1" height="1" fill="#fff"/>
<rect x="333" y="422" width="1" height="1" fill="#fff"/>
<rect x="335" y="422" width="1" height="1" fill="#fff"/>
<rect x="337" y="422" width="1" height="1" fill="#fff"/>
<rect x="350" y="422" width="1" height="1" fill="#fff"/>
<rect x="352" y="422" width="1" height="1" fill="#fff"/>
<rect x="367" y="422" width="1" height="1" fill="#fff"/>
<rect x="382" y="422" width="1" height="1" fill="#fff"/>
<rect x="384" y="422" width="1" height="1" fill="#fff"/>
<rect x="393" y="422" width="1" height="1" fill="#fff"/>
<rect x="418" y="422" width="1" height="1" fill="#fff"/>
<rect x="420" y="422" width="1" height="1" fill="#fff"/>
<rect x="431" y="422" width="1" height="1" fill="#fff"/>
<rect x="433" y="422" width="1" height="1" fill="#fff"/>
<rect x="435" y="422" width="1" height="1" fill="#fff"/>
<rect x="437" y="422" width="1" height="1" fill="#fff"/>
<rect x="448" y="422" width="1" height="1" fill="#fff"/>
<rect x="450" y="422" width="1" height="1" fill="#fff"/>
<rect x="465" y="422" width="1" height="1" fill="#fff"/>
<rect x="480" y="422" width="1" height="1" fill="#fff"/>
<rect x="482" y="422" width="1" height="1" fill="#fff"/>
<rect x="290" y="435" width="5" height="2" fill="#fff"/>
<rect x="505" y="435" width="5" height="2" fill="#fff"/>
<rect x="290" y="438" width="5" height="3" fill="#fff"/>
<rect x="505" y="438" width="5" height="3" fill="#fff"/>
<rect x="290" y="442" width="5" height="4" fill="#fff"/>
<rect x="505" y="442" width="5" height="4" fill="#fff"/>
<rect x="298" y="435" width="10" height="1" fill="#fff"/>
<rect x="492" y="435" width="10" height="1" fill="#fff"/>
<rect x="306" y="436" width="1" height="4" fill="#fff"/>
<rect x="493" y="436" width="1" height="4" fill="#fff"/>
<rect x="307" y="440" width="1" height="5" fill="#fff"/>
<rect x="492" y="440" width="1" height="5" fill="#fff"/>
<rect x="299" y="437" width="6" height="5" fill="#fff"/>
<rect x="495" y="437" width="6" height="5" fill="#fff"/>
<rect x="300" y="438" width="4" height="2" fill="#000"/>
<rect x="495" y="438" width="4" height="2" fill="#000"/>
<rect x="300" y="440" width="1" height="2" fill="#000"/>
<rect x="498" y="440" width="1" height="2" fill="#000"/>
<rect x="303" y="441" width="2" height="1" fill="#000"/>
<rect x="494" y="441" width="2" height="1" fill="#000"/>
<rect x="298" y="442" width="5" height="2" fill="#fff"/>
<rect x="497" y="442" width="5" height="2" fill="#fff"/>
<rect x="298" y="442" width="2" height="1" fill="#000"/>
<rect x="499" y="442" width="2" height="1" fill="#000"/>
<rect x="304" y="444" width="4" height="1" fill="#fff"/>
<rect x="492" y="444" width="4" height="1" fill="#fff"/>
<rect x="304" y="445" width="192" height="1" fill="#fff"/>
<rect x="314" y="437" width="1" height="4" fill="#fff"/>
<rect x="316" y="437" width="1" height="4" fill="#fff"/>
<rect x="318" y="437" width="1" height="4" fill="#fff"/>
<rect x="320" y="437" width="1" height="4" fill="#fff"/>
<rect x="322" y="437" width="1" height="4" fill="#fff"/>
<rect x="324" y="437" width="1" height="4" fill="#fff"/>
<rect x="331" y="437" width="1" height="4" fill="#fff"/>
<rect x="333" y="437" width="1" height="4" fill="#fff"/>
<rect x="335" y="437" width="1" height="4" fill="#fff"/>
<rect x="337" y="437" width="1" height="4" fill="#fff"/>
<rect x="339" y="437" width="1" height="4" fill="#fff"/>
<rect x="341" y="437" width="1" height="4" fill="#fff"/>
<rect x="348" y="437" width="1" height="4" fill="#fff"/>
<rect x="350" y="437" width="1" height="4" fill="#fff"/>
<rect x="352" y="437" width="1" height="4" fill="#fff"/>
<rect x="354" y="437" width="1" height="4" fill="#fff"/>
<rect x="363" y="437" width="1" height="4" fill="#fff"/>
<rect x="365" y="437" width="1" height="4" fill="#fff"/>
<rect x="367" y="437" width="1" height="4" fill="#fff"/>
<rect x="369" y="437" width="1" height="4" fill="#fff"/>
<rect x="429" y="437" width="1" height="4" fill="#fff"/>
<rect x="431" y="437" width="1" height="4" fill="#fff"/>
<rect x="433" y="437" width="1" height="4" fill="#fff"/>
<rect x="435" y="437" width="1" height="4" fill="#fff"/>
<rect x="437" y="437" width="1" height="4" fill="#fff"/>
<rect x="439" y="437" width="1" height="4" fill="#fff"/>
<rect x="446" y="437" width="1" height="4" fill="#fff"/>
<rect x="448" y="437" width="1" height="4" fill="#fff"/>
<rect x="450" y="437" width="1" height="4" fill="#fff"/>
<rect x="452" y="437" width="1" height="4" fill="#fff"/>
<rect x="454" y="437" width="1" height="4" fill="#fff"/>
<rect x="463" y="437" width="1" height="4" fill="#fff"/>
<rect x="465" y="437" width="1" height="4" fill="#fff"/>
<rect x="467" y="437" width="1" height="4" fill="#fff"/>
<rect x="478" y="437" width="1" height="4" fill="#fff"/>
<rect x="480" y="437" width="1" height="4" fill="#fff"/>
<rect x="482" y="437" width="1" height="4" fill="#fff"/>
<rect x="484" y="437" width="1" height="4" fill="#fff"/>
<rect x="489" y="437" width="1" height="4" fill="#fff"/>
<rect x="296" y="435" width="208" height="1" fill="#fff"/>
<rect x="376" y="428" width="48" height="12" fill="#000"/>
<rect x="378" y="428" width="44" height="11" fill="#fff"/>
<rect x="421" y="428" width="1" height="1" fill="#000"/>
<rect x="395" y="422" width="9" height="1" fill="#fff"/>
<rect x="396" y="423" width="7" height="3" fill="#fff"/>
<rect x="396" y="441" width="7" height="5" fill="#fff"/>
<text x="399.5" y="438" font-size="10.5" fill="#000" text-anchor="middle" letter-spacing="0.4" >BANK 1</text>
<rect x="289" y="449" width="222" height="26" fill="#000"/>
<rect x="290" y="450" width="5" height="1" fill="#fff"/>
<rect x="505" y="450" width="5" height="1" fill="#fff"/>
<rect x="290" y="452" width="5" height="4" fill="#fff"/>
<rect x="505" y="452" width="5" height="4" fill="#fff"/>
<rect x="290" y="457" width="5" height="4" fill="#fff"/>
<rect x="505" y="457" width="5" height="4" fill="#fff"/>
<rect x="298" y="450" width="10" height="1" fill="#fff"/>
<rect x="492" y="450" width="10" height="1" fill="#fff"/>
<rect x="306" y="451" width="1" height="4" fill="#fff"/>
<rect x="493" y="451" width="1" height="4" fill="#fff"/>
<rect x="307" y="455" width="1" height="5" fill="#fff"/>
<rect x="492" y="455" width="1" height="5" fill="#fff"/>
<rect x="299" y="452" width="6" height="5" fill="#fff"/>
<rect x="495" y="452" width="6" height="5" fill="#fff"/>
<rect x="300" y="453" width="4" height="2" fill="#000"/>
<rect x="495" y="453" width="4" height="2" fill="#000"/>
<rect x="300" y="455" width="1" height="2" fill="#000"/>
<rect x="498" y="455" width="1" height="2" fill="#000"/>
<rect x="303" y="456" width="2" height="1" fill="#000"/>
<rect x="494" y="456" width="2" height="1" fill="#000"/>
<rect x="298" y="457" width="5" height="2" fill="#fff"/>
<rect x="497" y="457" width="5" height="2" fill="#fff"/>
<rect x="298" y="457" width="2" height="1" fill="#000"/>
<rect x="499" y="457" width="2" height="1" fill="#000"/>
<rect x="304" y="459" width="4" height="1" fill="#fff"/>
<rect x="492" y="459" width="4" height="1" fill="#fff"/>
<rect x="304" y="460" width="192" height="1" fill="#fff"/>
<rect x="314" y="452" width="1" height="3" fill="#fff"/>
<rect x="316" y="452" width="1" height="3" fill="#fff"/>
<rect x="318" y="452" width="1" height="3" fill="#fff"/>
<rect x="320" y="452" width="1" height="3" fill="#fff"/>
<rect x="322" y="452" width="1" height="3" fill="#fff"/>
<rect x="324" y="452" width="1" height="3" fill="#fff"/>
<rect x="331" y="452" width="1" height="3" fill="#fff"/>
<rect x="333" y="452" width="1" height="3" fill="#fff"/>
<rect x="335" y="452" width="1" height="3" fill="#fff"/>
<rect x="337" y="452" width="1" height="3" fill="#fff"/>
<rect x="339" y="452" width="1" height="3" fill="#fff"/>
<rect x="341" y="452" width="1" height="3" fill="#fff"/>
<rect x="348" y="452" width="1" height="3" fill="#fff"/>
<rect x="350" y="452" width="1" height="3" fill="#fff"/>
<rect x="352" y="452" width="1" height="3" fill="#fff"/>
<rect x="354" y="452" width="1" height="3" fill="#fff"/>
<rect x="363" y="452" width="1" height="3" fill="#fff"/>
<rect x="365" y="452" width="1" height="3" fill="#fff"/>
<rect x="367" y="452" width="1" height="3" fill="#fff"/>
<rect x="369" y="452" width="1" height="3" fill="#fff"/>
<rect x="429" y="452" width="1" height="3" fill="#fff"/>
<rect x="431" y="452" width="1" height="3" fill="#fff"/>
<rect x="433" y="452" width="1" height="3" fill="#fff"/>
<rect x="435" y="452" width="1" height="3" fill="#fff"/>
<rect x="437" y="452" width="1" height="3" fill="#fff"/>
<rect x="439" y="452" width="1" height="3" fill="#fff"/>
<rect x="446" y="452" width="1" height="3" fill="#fff"/>
<rect x="448" y="452" width="1" height="3" fill="#fff"/>
<rect x="450" y="452" width="1" height="3" fill="#fff"/>
<rect x="452" y="452" width="1" height="3" fill="#fff"/>
<rect x="454" y="452" width="1" height="3" fill="#fff"/>
<rect x="463" y="452" width="1" height="3" fill="#fff"/>
<rect x="465" y="452" width="1" height="3" fill="#fff"/>
<rect x="467" y="452" width="1" height="3" fill="#fff"/>
<rect x="478" y="452" width="1" height="3" fill="#fff"/>
<rect x="480" y="452" width="1" height="3" fill="#fff"/>
<rect x="482" y="452" width="1" height="3" fill="#fff"/>
<rect x="484" y="452" width="1" height="3" fill="#fff"/>
<rect x="489" y="452" width="1" height="3" fill="#fff"/>
<rect x="378" y="452" width="1" height="2" fill="#fff"/>
<rect x="380" y="452" width="1" height="2" fill="#fff"/>
<rect x="382" y="452" width="1" height="2" fill="#fff"/>
<rect x="384" y="452" width="1" height="2" fill="#fff"/>
<rect x="386" y="452" width="1" height="2" fill="#fff"/>
<rect x="391" y="452" width="1" height="2" fill="#fff"/>
<rect x="393" y="452" width="1" height="2" fill="#fff"/>
<rect x="405" y="452" width="1" height="2" fill="#fff"/>
<rect x="407" y="452" width="1" height="2" fill="#fff"/>
<rect x="416" y="452" width="1" height="2" fill="#fff"/>
<rect x="418" y="452" width="1" height="2" fill="#fff"/>
<rect x="420" y="452" width="1" height="2" fill="#fff"/>
<rect x="320" y="450" width="1" height="1" fill="#fff"/>
<rect x="322" y="450" width="1" height="1" fill="#fff"/>
<rect x="333" y="450" width="1" height="1" fill="#fff"/>
<rect x="335" y="450" width="1" height="1" fill="#fff"/>
<rect x="337" y="450" width="1" height="1" fill="#fff"/>
<rect x="350" y="450" width="1" height="1" fill="#fff"/>
<rect x="352" y="450" width="1" height="1" fill="#fff"/>
<rect x="367" y="450" width="1" height="1" fill="#fff"/>
<rect x="382" y="450" width="1" height="1" fill="#fff"/>
<rect x="384" y="450" width="1" height="1" fill="#fff"/>
<rect x="393" y="450" width="1" height="1" fill="#fff"/>
<rect x="418" y="450" width="1" height="1" fill="#fff"/>
<rect x="420" y="450" width="1" height="1" fill="#fff"/>
<rect x="431" y="450" width="1" height="1" fill="#fff"/>
<rect x="433" y="450" width="1" height="1" fill="#fff"/>
<rect x="435" y="450" width="1" height="1" fill="#fff"/>
<rect x="437" y="450" width="1" height="1" fill="#fff"/>
<rect x="448" y="450" width="1" height="1" fill="#fff"/>
<rect x="450" y="450" width="1" height="1" fill="#fff"/>
<rect x="465" y="450" width="1" height="1" fill="#fff"/>
<rect x="480" y="450" width="1" height="1" fill="#fff"/>
<rect x="482" y="450" width="1" height="1" fill="#fff"/>
<rect x="290" y="463" width="5" height="2" fill="#fff"/>
<rect x="505" y="463" width="5" height="2" fill="#fff"/>
<rect x="290" y="466" width="5" height="3" fill="#fff"/>
<rect x="505" y="466" width="5" height="3" fill="#fff"/>
<rect x="290" y="470" width="5" height="4" fill="#fff"/>
<rect x="505" y="470" width="5" height="4" fill="#fff"/>
<rect x="298" y="463" width="10" height="1" fill="#fff"/>
<rect x="492" y="463" width="10" height="1" fill="#fff"/>
<rect x="306" y="464" width="1" height="4" fill="#fff"/>
<rect x="493" y="464" width="1" height="4" fill="#fff"/>
<rect x="307" y="468" width="1" height="5" fill="#fff"/>
<rect x="492" y="468" width="1" height="5" fill="#fff"/>
<rect x="299" y="465" width="6" height="5" fill="#fff"/>
<rect x="495" y="465" width="6" height="5" fill="#fff"/>
<rect x="300" y="466" width="4" height="2" fill="#000"/>
<rect x="495" y="466" width="4" height="2" fill="#000"/>
<rect x="300" y="468" width="1" height="2" fill="#000"/>
<rect x="498" y="468" width="1" height="2" fill="#000"/>
<rect x="303" y="469" width="2" height="1" fill="#000"/>
<rect x="494" y="469" width="2" height="1" fill="#000"/>
<rect x="298" y="470" width="5" height="2" fill="#fff"/>
<rect x="497" y="470" width="5" height="2" fill="#fff"/>
<rect x="298" y="470" width="2" height="1" fill="#000"/>
<rect x="499" y="470" width="2" height="1" fill="#000"/>
<rect x="304" y="472" width="4" height="1" fill="#fff"/>
<rect x="492" y="472" width="4" height="1" fill="#fff"/>
<rect x="304" y="473" width="192" height="1" fill="#fff"/>
<rect x="314" y="465" width="1" height="4" fill="#fff"/>
<rect x="316" y="465" width="1" height="4" fill="#fff"/>
<rect x="318" y="465" width="1" height="4" fill="#fff"/>
<rect x="320" y="465" width="1" height="4" fill="#fff"/>
<rect x="322" y="465" width="1" height="4" fill="#fff"/>
<rect x="324" y="465" width="1" height="4" fill="#fff"/>
<rect x="331" y="465" width="1" height="4" fill="#fff"/>
<rect x="333" y="465" width="1" height="4" fill="#fff"/>
<rect x="335" y="465" width="1" height="4" fill="#fff"/>
<rect x="337" y="465" width="1" height="4" fill="#fff"/>
<rect x="339" y="465" width="1" height="4" fill="#fff"/>
<rect x="341" y="465" width="1" height="4" fill="#fff"/>
<rect x="348" y="465" width="1" height="4" fill="#fff"/>
<rect x="350" y="465" width="1" height="4" fill="#fff"/>
<rect x="352" y="465" width="1" height="4" fill="#fff"/>
<rect x="354" y="465" width="1" height="4" fill="#fff"/>
<rect x="363" y="465" width="1" height="4" fill="#fff"/>
<rect x="365" y="465" width="1" height="4" fill="#fff"/>
<rect x="367" y="465" width="1" height="4" fill="#fff"/>
<rect x="369" y="465" width="1" height="4" fill="#fff"/>
<rect x="429" y="465" width="1" height="4" fill="#fff"/>
<rect x="431" y="465" width="1" height="4" fill="#fff"/>
<rect x="433" y="465" width="1" height="4" fill="#fff"/>
<rect x="435" y="465" width="1" height="4" fill="#fff"/>
<rect x="437" y="465" width="1" height="4" fill="#fff"/>
<rect x="439" y="465" width="1" height="4" fill="#fff"/>
<rect x="446" y="465" width="1" height="4" fill="#fff"/>
<rect x="448" y="465" width="1" height="4" fill="#fff"/>
<rect x="450" y="465" width="1" height="4" fill="#fff"/>
<rect x="452" y="465" width="1" height="4" fill="#fff"/>
<rect x="454" y="465" width="1" height="4" fill="#fff"/>
<rect x="463" y="465" width="1" height="4" fill="#fff"/>
<rect x="465" y="465" width="1" height="4" fill="#fff"/>
<rect x="467" y="465" width="1" height="4" fill="#fff"/>
<rect x="478" y="465" width="1" height="4" fill="#fff"/>
<rect x="480" y="465" width="1" height="4" fill="#fff"/>
<rect x="482" y="465" width="1" height="4" fill="#fff"/>
<rect x="484" y="465" width="1" height="4" fill="#fff"/>
<rect x="489" y="465" width="1" height="4" fill="#fff"/>
<rect x="296" y="463" width="208" height="1" fill="#fff"/>
<rect x="376" y="456" width="48" height="12" fill="#000"/>
<rect x="378" y="456" width="44" height="11" fill="#fff"/>
<rect x="421" y="456" width="1" height="1" fill="#000"/>
<rect x="395" y="450" width="9" height="1" fill="#fff"/>
<rect x="396" y="451" width="7" height="3" fill="#fff"/>
<rect x="396" y="469" width="7" height="5" fill="#fff"/>
<text x="399.5" y="466" font-size="10.5" fill="#000" text-anchor="middle" letter-spacing="0.4" >BANK 2</text>
<rect x="289" y="476" width="222" height="26" fill="#000"/>
<rect x="290" y="477" width="5" height="1" fill="#fff"/>
<rect x="505" y="477" width="5" height="1" fill="#fff"/>
<rect x="290" y="479" width="5" height="4" fill="#fff"/>
<rect x="505" y="479" width="5" height="4" fill="#fff"/>
<rect x="290" y="484" width="5" height="4" fill="#fff"/>
<rect x="505" y="484" width="5" height="4" fill="#fff"/>
<rect x="298" y="477" width="10" height="1" fill="#fff"/>
<rect x="492" y="477" width="10" height="1" fill="#fff"/>
<rect x="306" y="478" width="1" height="4" fill="#fff"/>
<rect x="493" y="478" width="1" height="4" fill="#fff"/>
<rect x="307" y="482" width="1" height="5" fill="#fff"/>
<rect x="492" y="482" width="1" height="5" fill="#fff"/>
<rect x="299" y="479" width="6" height="5" fill="#fff"/>
<rect x="495" y="479" width="6" height="5" fill="#fff"/>
<rect x="300" y="480" width="4" height="2" fill="#000"/>
<rect x="495" y="480" width="4" height="2" fill="#000"/>
<rect x="300" y="482" width="1" height="2" fill="#000"/>
<rect x="498" y="482" width="1" height="2" fill="#000"/>
<rect x="303" y="483" width="2" height="1" fill="#000"/>
<rect x="494" y="483" width="2" height="1" fill="#000"/>
<rect x="298" y="484" width="5" height="2" fill="#fff"/>
<rect x="497" y="484" width="5" height="2" fill="#fff"/>
<rect x="298" y="484" width="2" height="1" fill="#000"/>
<rect x="499" y="484" width="2" height="1" fill="#000"/>
<rect x="304" y="486" width="4" height="1" fill="#fff"/>
<rect x="492" y="486" width="4" height="1" fill="#fff"/>
<rect x="304" y="487" width="192" height="1" fill="#fff"/>
<rect x="314" y="479" width="1" height="3" fill="#fff"/>
<rect x="316" y="479" width="1" height="3" fill="#fff"/>
<rect x="318" y="479" width="1" height="3" fill="#fff"/>
<rect x="320" y="479" width="1" height="3" fill="#fff"/>
<rect x="322" y="479" width="1" height="3" fill="#fff"/>
<rect x="324" y="479" width="1" height="3" fill="#fff"/>
<rect x="331" y="479" width="1" height="3" fill="#fff"/>
<rect x="333" y="479" width="1" height="3" fill="#fff"/>
<rect x="335" y="479" width="1" height="3" fill="#fff"/>
<rect x="337" y="479" width="1" height="3" fill="#fff"/>
<rect x="339" y="479" width="1" height="3" fill="#fff"/>
<rect x="341" y="479" width="1" height="3" fill="#fff"/>
<rect x="348" y="479" width="1" height="3" fill="#fff"/>
<rect x="350" y="479" width="1" height="3" fill="#fff"/>
<rect x="352" y="479" width="1" height="3" fill="#fff"/>
<rect x="354" y="479" width="1" height="3" fill="#fff"/>
<rect x="363" y="479" width="1" height="3" fill="#fff"/>
<rect x="365" y="479" width="1" height="3" fill="#fff"/>
<rect x="367" y="479" width="1" height="3" fill="#fff"/>
<rect x="369" y="479" width="1" height="3" fill="#fff"/>
<rect x="429" y="479" width="1" height="3" fill="#fff"/>
<rect x="431" y="479" width="1" height="3" fill="#fff"/>
<rect x="433" y="479" width="1" height="3" fill="#fff"/>
<rect x="435" y="479" width="1" height="3" fill="#fff"/>
<rect x="437" y="479" width="1" height="3" fill="#fff"/>
<rect x="439" y="479" width="1" height="3" fill="#fff"/>
<rect x="446" y="479" width="1" height="3" fill="#fff"/>
<rect x="448" y="479" width="1" height="3" fill="#fff"/>
<rect x="450" y="479" width="1" height="3" fill="#fff"/>
<rect x="452" y="479" width="1" height="3" fill="#fff"/>
<rect x="454" y="479" width="1" height="3" fill="#fff"/>
<rect x="463" y="479" width="1" height="3" fill="#fff"/>
<rect x="465" y="479" width="1" height="3" fill="#fff"/>
<rect x="467" y="479" width="1" height="3" fill="#fff"/>
<rect x="478" y="479" width="1" height="3" fill="#fff"/>
<rect x="480" y="479" width="1" height="3" fill="#fff"/>
<rect x="482" y="479" width="1" height="3" fill="#fff"/>
<rect x="484" y="479" width="1" height="3" fill="#fff"/>
<rect x="489" y="479" width="1" height="3" fill="#fff"/>
<rect x="378" y="479" width="1" height="2" fill="#fff"/>
<rect x="380" y="479" width="1" height="2" fill="#fff"/>
<rect x="382" y="479" width="1" height="2" fill="#fff"/>
<rect x="384" y="479" width="1" height="2" fill="#fff"/>
<rect x="386" y="479" width="1" height="2" fill="#fff"/>
<rect x="391" y="479" width="1" height="2" fill="#fff"/>
<rect x="393" y="479" width="1" height="2" fill="#fff"/>
<rect x="405" y="479" width="1" height="2" fill="#fff"/>
<rect x="407" y="479" width="1" height="2" fill="#fff"/>
<rect x="416" y="479" width="1" height="2" fill="#fff"/>
<rect x="418" y="479" width="1" height="2" fill="#fff"/>
<rect x="420" y="479" width="1" height="2" fill="#fff"/>
<rect x="320" y="477" width="1" height="1" fill="#fff"/>
<rect x="322" y="477" width="1" height="1" fill="#fff"/>
<rect x="333" y="477" width="1" height="1" fill="#fff"/>
<rect x="335" y="477" width="1" height="1" fill="#fff"/>
<rect x="337" y="477" width="1" height="1" fill="#fff"/>
<rect x="350" y="477" width="1" height="1" fill="#fff"/>
<rect x="352" y="477" width="1" height="1" fill="#fff"/>
<rect x="367" y="477" width="1" height="1" fill="#fff"/>
<rect x="382" y="477" width="1" height="1" fill="#fff"/>
<rect x="384" y="477" width="1" height="1" fill="#fff"/>
<rect x="393" y="477" width="1" height="1" fill="#fff"/>
<rect x="418" y="477" width="1" height="1" fill="#fff"/>
<rect x="420" y="477" width="1" height="1" fill="#fff"/>
<rect x="431" y="477" width="1" height="1" fill="#fff"/>
<rect x="433" y="477" width="1" height="1" fill="#fff"/>
<rect x="435" y="477" width="1" height="1" fill="#fff"/>
<rect x="437" y="477" width="1" height="1" fill="#fff"/>
<rect x="448" y="477" width="1" height="1" fill="#fff"/>
<rect x="450" y="477" width="1" height="1" fill="#fff"/>
<rect x="465" y="477" width="1" height="1" fill="#fff"/>
<rect x="480" y="477" width="1" height="1" fill="#fff"/>
<rect x="482" y="477" width="1" height="1" fill="#fff"/>
<rect x="290" y="490" width="5" height="2" fill="#fff"/>
<rect x="505" y="490" width="5" height="2" fill="#fff"/>
<rect x="290" y="493" width="5" height="3" fill="#fff"/>
<rect x="505" y="493" width="5" height="3" fill="#fff"/>
<rect x="290" y="497" width="5" height="4" fill="#fff"/>
<rect x="505" y="497" width="5" height="4" fill="#fff"/>
<rect x="298" y="490" width="10" height="1" fill="#fff"/>
<rect x="492" y="490" width="10" height="1" fill="#fff"/>
<rect x="306" y="491" width="1" height="4" fill="#fff"/>
<rect x="493" y="491" width="1" height="4" fill="#fff"/>
<rect x="307" y="495" width="1" height="5" fill="#fff"/>
<rect x="492" y="495" width="1" height="5" fill="#fff"/>
<rect x="299" y="492" width="6" height="5" fill="#fff"/>
<rect x="495" y="492" width="6" height="5" fill="#fff"/>
<rect x="300" y="493" width="4" height="2" fill="#000"/>
<rect x="495" y="493" width="4" height="2" fill="#000"/>
<rect x="300" y="495" width="1" height="2" fill="#000"/>
<rect x="498" y="495" width="1" height="2" fill="#000"/>
<rect x="303" y="496" width="2" height="1" fill="#000"/>
<rect x="494" y="496" width="2" height="1" fill="#000"/>
<rect x="298" y="497" width="5" height="2" fill="#fff"/>
<rect x="497" y="497" width="5" height="2" fill="#fff"/>
<rect x="298" y="497" width="2" height="1" fill="#000"/>
<rect x="499" y="497" width="2" height="1" fill="#000"/>
<rect x="304" y="499" width="4" height="1" fill="#fff"/>
<rect x="492" y="499" width="4" height="1" fill="#fff"/>
<rect x="304" y="500" width="192" height="1" fill="#fff"/>
<rect x="314" y="492" width="1" height="4" fill="#fff"/>
<rect x="316" y="492" width="1" height="4" fill="#fff"/>
<rect x="318" y="492" width="1" height="4" fill="#fff"/>
<rect x="320" y="492" width="1" height="4" fill="#fff"/>
<rect x="322" y="492" width="1" height="4" fill="#fff"/>
<rect x="324" y="492" width="1" height="4" fill="#fff"/>
<rect x="331" y="492" width="1" height="4" fill="#fff"/>
<rect x="333" y="492" width="1" height="4" fill="#fff"/>
<rect x="335" y="492" width="1" height="4" fill="#fff"/>
<rect x="337" y="492" width="1" height="4" fill="#fff"/>
<rect x="339" y="492" width="1" height="4" fill="#fff"/>
<rect x="341" y="492" width="1" height="4" fill="#fff"/>
<rect x="348" y="492" width="1" height="4" fill="#fff"/>
<rect x="350" y="492" width="1" height="4" fill="#fff"/>
<rect x="352" y="492" width="1" height="4" fill="#fff"/>
<rect x="354" y="492" width="1" height="4" fill="#fff"/>
<rect x="363" y="492" width="1" height="4" fill="#fff"/>
<rect x="365" y="492" width="1" height="4" fill="#fff"/>
<rect x="367" y="492" width="1" height="4" fill="#fff"/>
<rect x="369" y="492" width="1" height="4" fill="#fff"/>
<rect x="429" y="492" width="1" height="4" fill="#fff"/>
<rect x="431" y="492" width="1" height="4" fill="#fff"/>
<rect x="433" y="492" width="1" height="4" fill="#fff"/>
<rect x="435" y="492" width="1" height="4" fill="#fff"/>
<rect x="437" y="492" width="1" height="4" fill="#fff"/>
<rect x="439" y="492" width="1" height="4" fill="#fff"/>
<rect x="446" y="492" width="1" height="4" fill="#fff"/>
<rect x="448" y="492" width="1" height="4" fill="#fff"/>
<rect x="450" y="492" width="1" height="4" fill="#fff"/>
<rect x="452" y="492" width="1" height="4" fill="#fff"/>
<rect x="454" y="492" width="1" height="4" fill="#fff"/>
<rect x="463" y="492" width="1" height="4" fill="#fff"/>
<rect x="465" y="492" width="1" height="4" fill="#fff"/>
<rect x="467" y="492" width="1" height="4" fill="#fff"/>
<rect x="478" y="492" width="1" height="4" fill="#fff"/>
<rect x="480" y="492" width="1" height="4" fill="#fff"/>
<rect x="482" y="492" width="1" height="4" fill="#fff"/>
<rect x="484" y="492" width="1" height="4" fill="#fff"/>
<rect x="489" y="492" width="1" height="4" fill="#fff"/>
<rect x="296" y="490" width="208" height="1" fill="#fff"/>
<rect x="376" y="483" width="48" height="12" fill="#000"/>
<rect x="378" y="483" width="44" height="11" fill="#fff"/>
<rect x="421" y="483" width="1" height="1" fill="#000"/>
<rect x="395" y="477" width="9" height="1" fill="#fff"/>
<rect x="396" y="478" width="7" height="3" fill="#fff"/>
<rect x="396" y="496" width="7" height="5" fill="#fff"/>
<text x="399.5" y="493" font-size="10.5" fill="#000" text-anchor="middle" letter-spacing="0.4" >BANK 3</text>
<rect x="519" y="412" width="20" height="90" fill="#000"/>
<rect x="520" y="413" width="18" height="88" fill="#fff"/>
<rect x="522" y="413" width="1" height="88" fill="#000"/>
<rect x="532" y="413" width="1" height="88" fill="#000"/>
<rect x="522" y="415" width="6" height="6" fill="#000"/>
<rect x="523" y="416" width="4" height="4" fill="#fff"/>
<rect x="529" y="415" width="2" height="5" fill="#000"/>
<rect x="533" y="415" width="4" height="3" fill="#000"/>
<rect x="534" y="414" width="2" height="5" fill="#000"/>
<rect x="522" y="422" width="6" height="6" fill="#000"/>
<rect x="523" y="423" width="4" height="4" fill="#fff"/>
<rect x="529" y="422" width="2" height="5" fill="#000"/>
<rect x="533" y="422" width="4" height="3" fill="#000"/>
<rect x="534" y="421" width="2" height="5" fill="#000"/>
<rect x="522" y="430" width="6" height="6" fill="#000"/>
<rect x="523" y="431" width="4" height="4" fill="#fff"/>
<rect x="529" y="430" width="2" height="5" fill="#000"/>
<rect x="533" y="430" width="4" height="3" fill="#000"/>
<rect x="534" y="429" width="2" height="5" fill="#000"/>
<rect x="522" y="437" width="6" height="6" fill="#000"/>
<rect x="523" y="438" width="4" height="4" fill="#fff"/>
<rect x="529" y="437" width="2" height="5" fill="#000"/>
<rect x="533" y="437" width="4" height="3" fill="#000"/>
<rect x="534" y="436" width="2" height="5" fill="#000"/>
<rect x="522" y="445" width="6" height="6" fill="#000"/>
<rect x="523" y="446" width="4" height="4" fill="#fff"/>
<rect x="529" y="445" width="2" height="5" fill="#000"/>
<rect x="533" y="445" width="4" height="3" fill="#000"/>
<rect x="534" y="444" width="2" height="5" fill="#000"/>
<rect x="522" y="452" width="6" height="6" fill="#000"/>
<rect x="523" y="453" width="4" height="4" fill="#fff"/>
<rect x="529" y="452" width="2" height="5" fill="#000"/>
<rect x="533" y="452" width="4" height="3" fill="#000"/>
<rect x="534" y="451" width="2" height="5" fill="#000"/>
<rect x="522" y="459" width="6" height="6" fill="#000"/>
<rect x="523" y="460" width="4" height="4" fill="#fff"/>
<rect x="529" y="459" width="2" height="5" fill="#000"/>
<rect x="533" y="459" width="4" height="3" fill="#000"/>
<rect x="534" y="458" width="2" height="5" fill="#000"/>
<rect x="522" y="467" width="6" height="6" fill="#000"/>
<rect x="523" y="468" width="4" height="4" fill="#fff"/>
<rect x="529" y="467" width="2" height="5" fill="#000"/>
<rect x="533" y="467" width="4" height="3" fill="#000"/>
<rect x="534" y="466" width="2" height="5" fill="#000"/>
<rect x="522" y="474" width="6" height="6" fill="#000"/>
<rect x="523" y="475" width="4" height="4" fill="#fff"/>
<rect x="529" y="474" width="2" height="5" fill="#000"/>
<rect x="533" y="474" width="4" height="3" fill="#000"/>
<rect x="534" y="473" width="2" height="5" fill="#000"/>
<rect x="522" y="482" width="6" height="6" fill="#000"/>
<rect x="523" y="483" width="4" height="4" fill="#fff"/>
<rect x="529" y="482" width="2" height="5" fill="#000"/>
<rect x="533" y="482" width="4" height="3" fill="#000"/>
<rect x="534" y="481" width="2" height="5" fill="#000"/>
<rect x="522" y="489" width="6" height="6" fill="#000"/>
<rect x="523" y="490" width="4" height="4" fill="#fff"/>
<rect x="529" y="489" width="2" height="5" fill="#000"/>
<rect x="533" y="489" width="4" height="3" fill="#000"/>
<rect x="534" y="488" width="2" height="5" fill="#000"/>
<rect x="522" y="496" width="6" height="6" fill="#000"/>
<rect x="523" y="497" width="4" height="4" fill="#fff"/>
<rect x="529" y="496" width="2" height="5" fill="#000"/>
<rect x="533" y="496" width="4" height="3" fill="#000"/>
<rect x="534" y="495" width="2" height="5" fill="#000"/>
<rect x="644" y="412" width="19" height="89" fill="#000"/>
<rect x="645" y="413" width="17" height="87" fill="#fff"/>
<rect x="646" y="413" width="1" height="87" fill="#000"/>
<rect x="656" y="413" width="1" height="87" fill="#000"/>
<rect x="646" y="417" width="6" height="6" fill="#000"/>
<rect x="647" y="418" width="4" height="4" fill="#fff"/>
<rect x="653" y="417" width="2" height="5" fill="#000"/>
<rect x="657" y="417" width="4" height="3" fill="#000"/>
<rect x="658" y="416" width="2" height="5" fill="#000"/>
<rect x="646" y="424" width="6" height="6" fill="#000"/>
<rect x="647" y="425" width="4" height="4" fill="#fff"/>
<rect x="653" y="424" width="2" height="5" fill="#000"/>
<rect x="657" y="424" width="4" height="3" fill="#000"/>
<rect x="658" y="423" width="2" height="5" fill="#000"/>
<rect x="646" y="432" width="6" height="6" fill="#000"/>
<rect x="647" y="433" width="4" height="4" fill="#fff"/>
<rect x="653" y="432" width="2" height="5" fill="#000"/>
<rect x="657" y="432" width="4" height="3" fill="#000"/>
<rect x="658" y="431" width="2" height="5" fill="#000"/>
<rect x="646" y="439" width="6" height="6" fill="#000"/>
<rect x="647" y="440" width="4" height="4" fill="#fff"/>
<rect x="653" y="439" width="2" height="5" fill="#000"/>
<rect x="657" y="439" width="4" height="3" fill="#000"/>
<rect x="658" y="438" width="2" height="5" fill="#000"/>
<rect x="646" y="446" width="6" height="6" fill="#000"/>
<rect x="647" y="447" width="4" height="4" fill="#fff"/>
<rect x="653" y="446" width="2" height="5" fill="#000"/>
<rect x="657" y="446" width="4" height="3" fill="#000"/>
<rect x="658" y="445" width="2" height="5" fill="#000"/>
<rect x="646" y="454" width="6" height="6" fill="#000"/>
<rect x="647" y="455" width="4" height="4" fill="#fff"/>
<rect x="653" y="454" width="2" height="5" fill="#000"/>
<rect x="657" y="454" width="4" height="3" fill="#000"/>
<rect x="658" y="453" width="2" height="5" fill="#000"/>
<rect x="646" y="461" width="6" height="6" fill="#000"/>
<rect x="647" y="462" width="4" height="4" fill="#fff"/>
<rect x="653" y="461" width="2" height="5" fill="#000"/>
<rect x="657" y="461" width="4" height="3" fill="#000"/>
<rect x="658" y="460" width="2" height="5" fill="#000"/>
<rect x="646" y="468" width="6" height="6" fill="#000"/>
<rect x="647" y="469" width="4" height="4" fill="#fff"/>
<rect x="653" y="468" width="2" height="5" fill="#000"/>
<rect x="657" y="468" width="4" height="3" fill="#000"/>
<rect x="658" y="467" width="2" height="5" fill="#000"/>
<rect x="646" y="475" width="6" height="6" fill="#000"/>
<rect x="647" y="476" width="4" height="4" fill="#fff"/>
<rect x="653" y="475" width="2" height="5" fill="#000"/>
<rect x="657" y="475" width="4" height="3" fill="#000"/>
<rect x="658" y="474" width="2" height="5" fill="#000"/>
<rect x="646" y="483" width="6" height="6" fill="#000"/>
<rect x="647" y="484" width="4" height="4" fill="#fff"/>
<rect x="653" y="483" width="2" height="5" fill="#000"/>
<rect x="657" y="483" width="4" height="3" fill="#000"/>
<rect x="658" y="482" width="2" height="5" fill="#000"/>
<rect x="646" y="490" width="6" height="6" fill="#000"/>
<rect x="647" y="491" width="4" height="4" fill="#fff"/>
<rect x="653" y="490" width="2" height="5" fill="#000"/>
<rect x="657" y="490" width="4" height="3" fill="#000"/>
<rect x="658" y="489" width="2" height="5" fill="#000"/>
<rect x="555" y="430" width="25" height="10" fill="#000"/>
<rect x="556" y="435" width="23" height="1" fill="#fff"/>
<rect x="556" y="431" width="1" height="8" fill="#fff"/>
<rect x="560" y="431" width="1" height="8" fill="#fff"/>
<rect x="563" y="431" width="1" height="8" fill="#fff"/>
<rect x="566" y="431" width="1" height="8" fill="#fff"/>
<rect x="570" y="431" width="1" height="8" fill="#fff"/>
<rect x="573" y="431" width="1" height="8" fill="#fff"/>
<rect x="576" y="432" width="2" height="2" fill="#fff"/>
<rect x="586" y="430" width="25" height="10" fill="#000"/>
<rect x="587" y="435" width="23" height="1" fill="#fff"/>
<rect x="587" y="431" width="1" height="8" fill="#fff"/>
<rect x="591" y="431" width="1" height="8" fill="#fff"/>
<rect x="594" y="431" width="1" height="8" fill="#fff"/>
<rect x="597" y="431" width="1" height="8" fill="#fff"/>
<rect x="601" y="431" width="1" height="8" fill="#fff"/>
<rect x="604" y="431" width="1" height="8" fill="#fff"/>
<rect x="607" y="432" width="2" height="2" fill="#fff"/>
<rect x="615" y="430" width="25" height="10" fill="#000"/>
<rect x="616" y="435" width="23" height="1" fill="#fff"/>
<rect x="616" y="431" width="1" height="8" fill="#fff"/>
<rect x="620" y="431" width="1" height="8" fill="#fff"/>
<rect x="623" y="431" width="1" height="8" fill="#fff"/>
<rect x="626" y="431" width="1" height="8" fill="#fff"/>
<rect x="630" y="431" width="1" height="8" fill="#fff"/>
<rect x="633" y="431" width="1" height="8" fill="#fff"/>
<rect x="636" y="432" width="2" height="2" fill="#fff"/>
<rect x="578" y="445" width="62" height="11" fill="#000"/>
<rect x="579" y="450" width="60" height="1" fill="#fff"/>
<rect x="579" y="454" width="60" height="1" fill="#fff"/>
<rect x="583" y="446" width="1" height="9" fill="#fff"/>
<rect x="587" y="446" width="1" height="9" fill="#fff"/>
<rect x="592" y="446" width="1" height="9" fill="#fff"/>
<rect x="597" y="446" width="1" height="9" fill="#fff"/>
<rect x="606" y="446" width="1" height="9" fill="#fff"/>
<rect x="611" y="446" width="1" height="9" fill="#fff"/>
<rect x="615" y="446" width="1" height="9" fill="#fff"/>
<rect x="620" y="446" width="1" height="9" fill="#fff"/>
<rect x="625" y="446" width="1" height="9" fill="#fff"/>
<rect x="630" y="446" width="1" height="9" fill="#fff"/>
<rect x="634" y="446" width="1" height="9" fill="#fff"/>
<rect x="636" y="447" width="2" height="2" fill="#fff"/>
<rect x="559" y="461" width="81" height="11" fill="#000"/>
<rect x="560" y="462" width="79" height="1" fill="#fff"/>
<rect x="560" y="466" width="79" height="1" fill="#fff"/>
<rect x="564" y="462" width="1" height="9" fill="#fff"/>
<rect x="569" y="462" width="1" height="9" fill="#fff"/>
<rect x="574" y="462" width="1" height="9" fill="#fff"/>
<rect x="578" y="462" width="1" height="9" fill="#fff"/>
<rect x="583" y="462" width="1" height="9" fill="#fff"/>
<rect x="587" y="462" width="1" height="9" fill="#fff"/>
<rect x="592" y="462" width="1" height="9" fill="#fff"/>
<rect x="597" y="462" width="1" height="9" fill="#fff"/>
<rect x="606" y="462" width="1" height="9" fill="#fff"/>
<rect x="611" y="462" width="1" height="9" fill="#fff"/>
<rect x="615" y="462" width="1" height="9" fill="#fff"/>
<rect x="620" y="462" width="1" height="9" fill="#fff"/>
<rect x="625" y="462" width="1" height="9" fill="#fff"/>
<rect x="630" y="462" width="1" height="9" fill="#fff"/>
<rect x="634" y="462" width="1" height="9" fill="#fff"/>
<rect x="560" y="462" width="1" height="9" fill="#fff"/>
<rect x="636" y="464" width="2" height="1" fill="#fff"/>
<rect x="545" y="479" width="95" height="10" fill="#000"/>
<rect x="546" y="483" width="93" height="1" fill="#fff"/>
<rect x="550" y="480" width="1" height="8" fill="#fff"/>
<rect x="555" y="480" width="1" height="8" fill="#fff"/>
<rect x="560" y="480" width="1" height="8" fill="#fff"/>
<rect x="564" y="480" width="1" height="8" fill="#fff"/>
<rect x="574" y="480" width="1" height="8" fill="#fff"/>
<rect x="578" y="480" width="1" height="8" fill="#fff"/>
<rect x="587" y="480" width="1" height="8" fill="#fff"/>
<rect x="592" y="480" width="1" height="8" fill="#fff"/>
<rect x="597" y="480" width="1" height="8" fill="#fff"/>
<rect x="601" y="480" width="1" height="8" fill="#fff"/>
<rect x="606" y="480" width="1" height="8" fill="#fff"/>
<rect x="615" y="480" width="1" height="8" fill="#fff"/>
<rect x="620" y="480" width="1" height="8" fill="#fff"/>
<rect x="625" y="480" width="1" height="8" fill="#fff"/>
<rect x="630" y="480" width="1" height="8" fill="#fff"/>
<rect x="634" y="480" width="1" height="8" fill="#fff"/>
<rect x="636" y="481" width="2" height="1" fill="#fff"/>
<rect x="166" y="92" width="72" height="10" fill="#000"/>
<rect x="167" y="97" width="70" height="1" fill="#fff"/>
<rect x="171" y="93" width="1" height="8" fill="#fff"/>
<rect x="176" y="93" width="1" height="8" fill="#fff"/>
<rect x="181" y="93" width="1" height="8" fill="#fff"/>
<rect x="185" y="93" width="1" height="8" fill="#fff"/>
<rect x="190" y="93" width="1" height="8" fill="#fff"/>
<rect x="194" y="93" width="1" height="8" fill="#fff"/>
<rect x="199" y="93" width="1" height="8" fill="#fff"/>
<rect x="204" y="93" width="1" height="8" fill="#fff"/>
<rect x="208" y="93" width="1" height="8" fill="#fff"/>
<rect x="213" y="93" width="1" height="8" fill="#fff"/>
<rect x="218" y="93" width="1" height="8" fill="#fff"/>
<rect x="222" y="93" width="1" height="8" fill="#fff"/>
<rect x="227" y="93" width="1" height="8" fill="#fff"/>
<rect x="231" y="93" width="1" height="8" fill="#fff"/>
<rect x="236" y="93" width="1" height="8" fill="#fff"/>
<rect x="144" y="127" width="72" height="11" fill="#000"/>
<rect x="145" y="132" width="70" height="1" fill="#fff"/>
<rect x="149" y="128" width="1" height="9" fill="#fff"/>
<rect x="153" y="128" width="1" height="9" fill="#fff"/>
<rect x="158" y="128" width="1" height="9" fill="#fff"/>
<rect x="163" y="128" width="1" height="9" fill="#fff"/>
<rect x="167" y="128" width="1" height="9" fill="#fff"/>
<rect x="172" y="128" width="1" height="9" fill="#fff"/>
<rect x="177" y="128" width="1" height="9" fill="#fff"/>
<rect x="181" y="128" width="1" height="9" fill="#fff"/>
<rect x="186" y="128" width="1" height="9" fill="#fff"/>
<rect x="191" y="128" width="1" height="9" fill="#fff"/>
<rect x="196" y="128" width="1" height="9" fill="#fff"/>
<rect x="200" y="128" width="1" height="9" fill="#fff"/>
<rect x="205" y="128" width="1" height="9" fill="#fff"/>
<rect x="214" y="128" width="1" height="9" fill="#fff"/>
<rect x="666" y="352" width="24" height="30" fill="#000"/>
<rect x="688" y="346" width="2" height="42" fill="#000"/>
<rect x="686" y="348" width="4" height="38" fill="#000"/>
<rect x="664" y="357" width="2" height="19" fill="#000"/>
<rect x="661" y="358" width="4" height="8" fill="#000"/>
<rect x="662" y="359" width="2" height="6" fill="#fff"/>
<rect x="661" y="367" width="4" height="8" fill="#000"/>
<rect x="662" y="368" width="2" height="6" fill="#fff"/>
<rect x="665" y="365" width="2" height="3" fill="#fff"/>
<rect x="44" y="27" width="11" height="5" fill="#000"/>
<rect x="49" y="28" width="1" height="3" fill="#fff"/>
<rect x="64" y="27" width="25" height="5" fill="#000"/>
<rect x="69" y="28" width="1" height="3" fill="#fff"/>
<rect x="73" y="28" width="1" height="3" fill="#fff"/>
<rect x="78" y="28" width="1" height="3" fill="#fff"/>
<rect x="83" y="28" width="1" height="3" fill="#fff"/>
<rect x="87" y="28" width="1" height="3" fill="#fff"/>
<rect x="85" y="29" width="1" height="1" fill="#fff"/>
<rect x="97" y="27" width="20" height="5" fill="#000"/>
<rect x="102" y="28" width="1" height="3" fill="#fff"/>
<rect x="107" y="28" width="1" height="3" fill="#fff"/>
<rect x="111" y="28" width="1" height="3" fill="#fff"/>
<rect x="113" y="29" width="3" height="1" fill="#fff"/>
<rect x="44" y="68" width="21" height="6" fill="#000"/>
<rect x="45" y="69" width="1" height="4" fill="#fff"/>
<rect x="49" y="69" width="1" height="4" fill="#fff"/>
<rect x="54" y="69" width="1" height="4" fill="#fff"/>
<rect x="63" y="69" width="1" height="4" fill="#fff"/>
<rect x="60" y="70" width="2" height="2" fill="#fff"/>
<rect x="44" y="96" width="25" height="5" fill="#000"/>
<rect x="45" y="97" width="23" height="3" fill="#fff"/>
<rect x="44" y="128" width="6" height="15" fill="#000"/>
<rect x="48" y="129" width="1" height="13" fill="#fff"/>
<rect x="46" y="130" width="2" height="2" fill="#fff"/>
<rect x="45" y="135" width="3" height="1" fill="#fff"/>
<rect x="45" y="139" width="3" height="1" fill="#fff"/>
<rect x="44" y="151" width="6" height="12" fill="#000"/>
<rect x="45" y="152" width="4" height="10" fill="#fff"/>
<rect x="195" y="28" width="6" height="11" fill="#000"/>
<rect x="196" y="33" width="4" height="1" fill="#fff"/>
<rect x="196" y="37" width="4" height="1" fill="#fff"/>
<rect x="203" y="28" width="6" height="11" fill="#000"/>
<rect x="204" y="33" width="4" height="1" fill="#fff"/>
<rect x="204" y="37" width="4" height="1" fill="#fff"/>
<rect x="211" y="28" width="6" height="11" fill="#000"/>
<rect x="212" y="33" width="4" height="1" fill="#fff"/>
<rect x="212" y="37" width="4" height="1" fill="#fff"/>
<rect x="219" y="28" width="6" height="11" fill="#000"/>
<rect x="220" y="33" width="4" height="1" fill="#fff"/>
<rect x="220" y="37" width="4" height="1" fill="#fff"/>
<rect x="235" y="28" width="5" height="11" fill="#000"/>
<rect x="236" y="33" width="3" height="1" fill="#fff"/>
<rect x="236" y="37" width="3" height="1" fill="#fff"/>
<rect x="245" y="118" width="5" height="11" fill="#000"/>
<rect x="246" y="123" width="3" height="1" fill="#fff"/>
<rect x="246" y="123" width="3" height="1" fill="#fff"/>
<rect x="251" y="118" width="6" height="11" fill="#000"/>
<rect x="252" y="123" width="4" height="1" fill="#fff"/>
<rect x="252" y="123" width="4" height="1" fill="#fff"/>
<rect x="258" y="118" width="6" height="11" fill="#000"/>
<rect x="259" y="123" width="4" height="1" fill="#fff"/>
<rect x="259" y="123" width="4" height="1" fill="#fff"/>
<rect x="265" y="118" width="5" height="11" fill="#000"/>
<rect x="266" y="123" width="3" height="1" fill="#fff"/>
<rect x="266" y="123" width="3" height="1" fill="#fff"/>
<rect x="233" y="114" width="6" height="15" fill="#000"/>
<rect x="235" y="116" width="2" height="2" fill="#fff"/>
<rect x="234" y="119" width="4" height="1" fill="#fff"/>
<rect x="234" y="123" width="4" height="1" fill="#fff"/>
<rect x="206" y="329" width="6" height="11" fill="#000"/>
<rect x="207" y="330" width="4" height="1" fill="#fff"/>
<rect x="207" y="334" width="4" height="1" fill="#fff"/>
<rect x="213" y="329" width="6" height="11" fill="#000"/>
<rect x="214" y="330" width="4" height="1" fill="#fff"/>
<rect x="214" y="334" width="4" height="1" fill="#fff"/>
<rect x="220" y="329" width="6" height="11" fill="#000"/>
<rect x="221" y="330" width="4" height="1" fill="#fff"/>
<rect x="221" y="334" width="4" height="1" fill="#fff"/>
<rect x="555" y="328" width="5" height="12" fill="#000"/>
<rect x="556" y="329" width="3" height="1" fill="#fff"/>
<rect x="556" y="338" width="3" height="1" fill="#fff"/>
<rect x="562" y="328" width="5" height="12" fill="#000"/>
<rect x="563" y="329" width="3" height="1" fill="#fff"/>
<rect x="563" y="338" width="3" height="1" fill="#fff"/>
<rect x="570" y="328" width="5" height="12" fill="#000"/>
<rect x="571" y="329" width="3" height="1" fill="#fff"/>
<rect x="571" y="338" width="3" height="1" fill="#fff"/>
<rect x="578" y="328" width="5" height="12" fill="#000"/>
<rect x="579" y="329" width="3" height="1" fill="#fff"/>
<rect x="579" y="338" width="3" height="1" fill="#fff"/>
<rect x="585" y="328" width="5" height="12" fill="#000"/>
<rect x="586" y="329" width="3" height="1" fill="#fff"/>
<rect x="586" y="338" width="3" height="1" fill="#fff"/>
<rect x="594" y="328" width="5" height="12" fill="#000"/>
<rect x="595" y="329" width="3" height="1" fill="#fff"/>
<rect x="595" y="338" width="3" height="1" fill="#fff"/>
<rect x="601" y="328" width="5" height="12" fill="#000"/>
<rect x="602" y="329" width="3" height="1" fill="#fff"/>
<rect x="602" y="338" width="3" height="1" fill="#fff"/>
<rect x="672" y="146" width="5" height="15" fill="#000"/>
<rect x="674" y="148" width="2" height="2" fill="#fff"/>
<rect x="673" y="151" width="3" height="1" fill="#fff"/>
<rect x="673" y="156" width="3" height="1" fill="#fff"/>
<rect x="672" y="169" width="5" height="16" fill="#000"/>
<rect x="673" y="170" width="3" height="1" fill="#fff"/>
<rect x="673" y="172" width="3" height="1" fill="#fff"/>
<rect x="673" y="174" width="3" height="1" fill="#fff"/>
<rect x="673" y="179" width="3" height="1" fill="#fff"/>
<rect x="672" y="195" width="5" height="21" fill="#000"/>
<rect x="673" y="196" width="3" height="1" fill="#fff"/>
<rect x="673" y="198" width="3" height="1" fill="#fff"/>
<rect x="673" y="200" width="3" height="1" fill="#fff"/>
<rect x="673" y="205" width="3" height="1" fill="#fff"/>
<rect x="673" y="214" width="3" height="1" fill="#fff"/>
<rect x="672" y="225" width="5" height="15" fill="#000"/>
<rect x="674" y="227" width="2" height="2" fill="#fff"/>
<rect x="673" y="230" width="3" height="1" fill="#fff"/>
<rect x="673" y="235" width="3" height="1" fill="#fff"/>
<rect x="5" y="21" width="26" height="15" fill="#000"/>
<rect x="4" y="22" width="28" height="13" fill="#000"/>
<rect x="6" y="23" width="24" height="11" fill="#fff"/>
<text x="17.0" y="33.0" font-size="10.5" fill="#000" text-anchor="middle" >J20</text>
<rect x="30" y="24" width="2" height="9" fill="#fff"/>
<rect x="30" y="23" width="2" height="1" fill="#000"/>
<rect x="31" y="24" width="2" height="1" fill="#000"/>
<rect x="31" y="25" width="2" height="1" fill="#000"/>
<rect x="31" y="26" width="4" height="1" fill="#000"/>
<rect x="31" y="27" width="10" height="1" fill="#000"/>
<rect x="36" y="28" width="5" height="1" fill="#000"/>
<rect x="34" y="29" width="7" height="1" fill="#000"/>
<rect x="31" y="30" width="10" height="1" fill="#000"/>
<rect x="31" y="31" width="4" height="1" fill="#000"/>
<rect x="31" y="32" width="2" height="1" fill="#000"/>
<rect x="30" y="33" width="2" height="1" fill="#000"/>
<rect x="41" y="28" width="3" height="2" fill="#000"/>
<rect x="30" y="28" width="6" height="1" fill="#fff"/>
<rect x="31" y="29" width="3" height="1" fill="#fff"/>
<rect x="30" y="27" width="1" height="3" fill="#fff"/>
<rect x="5" y="63" width="27" height="15" fill="#000"/>
<rect x="4" y="64" width="29" height="13" fill="#000"/>
<rect x="6" y="65" width="25" height="11" fill="#fff"/>
<text x="17.5" y="74.0" font-size="10.5" fill="#000" text-anchor="middle" >J19</text>
<rect x="31" y="66" width="2" height="9" fill="#fff"/>
<rect x="31" y="65" width="2" height="1" fill="#000"/>
<rect x="32" y="66" width="2" height="1" fill="#000"/>
<rect x="32" y="67" width="2" height="1" fill="#000"/>
<rect x="32" y="68" width="4" height="1" fill="#000"/>
<rect x="32" y="69" width="10" height="1" fill="#000"/>
<rect x="37" y="70" width="5" height="1" fill="#000"/>
<rect x="35" y="71" width="7" height="1" fill="#000"/>
<rect x="32" y="72" width="10" height="1" fill="#000"/>
<rect x="32" y="73" width="4" height="1" fill="#000"/>
<rect x="32" y="74" width="2" height="1" fill="#000"/>
<rect x="31" y="75" width="2" height="1" fill="#000"/>
<rect x="42" y="70" width="2" height="2" fill="#000"/>
<rect x="31" y="70" width="6" height="1" fill="#fff"/>
<rect x="32" y="71" width="3" height="1" fill="#fff"/>
<rect x="31" y="69" width="1" height="3" fill="#fff"/>
<rect x="5" y="91" width="27" height="15" fill="#000"/>
<rect x="4" y="92" width="29" height="13" fill="#000"/>
<rect x="6" y="93" width="25" height="11" fill="#fff"/>
<text x="18.0" y="102.0" font-size="10.5" fill="#000" text-anchor="middle" >J38</text>
<rect x="31" y="94" width="2" height="9" fill="#fff"/>
<rect x="31" y="93" width="2" height="1" fill="#000"/>
<rect x="32" y="94" width="2" height="1" fill="#000"/>
<rect x="32" y="95" width="2" height="1" fill="#000"/>
<rect x="32" y="96" width="4" height="1" fill="#000"/>
<rect x="32" y="97" width="10" height="1" fill="#000"/>
<rect x="37" y="98" width="5" height="1" fill="#000"/>
<rect x="35" y="99" width="7" height="1" fill="#000"/>
<rect x="32" y="100" width="10" height="1" fill="#000"/>
<rect x="32" y="101" width="4" height="1" fill="#000"/>
<rect x="32" y="102" width="2" height="1" fill="#000"/>
<rect x="31" y="103" width="2" height="1" fill="#000"/>
<rect x="42" y="98" width="2" height="2" fill="#000"/>
<rect x="31" y="98" width="6" height="1" fill="#fff"/>
<rect x="32" y="99" width="3" height="1" fill="#fff"/>
<rect x="31" y="97" width="1" height="3" fill="#fff"/>
<line x1="72" y1="19" x2="81" y2="28" stroke="#000" stroke-width="3.0"/>
<line x1="72" y1="19" x2="76.05" y2="23.05" stroke="#fff" stroke-width="1"/>
<rect x="49" y="7" width="26" height="15" fill="#000"/>
<rect x="48" y="8" width="28" height="13" fill="#000"/>
<rect x="50" y="9" width="24" height="11" fill="#fff"/>
<text x="59.5" y="18.5" font-size="10.5" fill="#000" text-anchor="middle" >J21</text>
<line x1="99" y1="40" x2="109" y2="31" stroke="#000" stroke-width="3.0"/>
<line x1="99" y1="40" x2="103.5" y2="35.95" stroke="#fff" stroke-width="1"/>
<rect x="76" y="37" width="25" height="14" fill="#000"/>
<rect x="75" y="38" width="27" height="12" fill="#000"/>
<rect x="77" y="39" width="23" height="10" fill="#fff"/>
<text x="87.0" y="47.0" font-size="10.5" fill="#000" text-anchor="middle" >J34</text>
<rect x="122" y="89" width="32" height="15" fill="#000"/>
<rect x="121" y="90" width="34" height="13" fill="#000"/>
<rect x="123" y="91" width="30" height="11" fill="#fff"/>
<text x="137.5" y="100.0" font-size="10.5" fill="#000" text-anchor="middle" >VRM2</text>
<rect x="153" y="92" width="2" height="9" fill="#fff"/>
<rect x="153" y="91" width="2" height="1" fill="#000"/>
<rect x="154" y="92" width="2" height="1" fill="#000"/>
<rect x="154" y="93" width="2" height="1" fill="#000"/>
<rect x="154" y="94" width="4" height="1" fill="#000"/>
<rect x="154" y="95" width="10" height="1" fill="#000"/>
<rect x="159" y="96" width="5" height="1" fill="#000"/>
<rect x="157" y="97" width="7" height="1" fill="#000"/>
<rect x="154" y="98" width="10" height="1" fill="#000"/>
<rect x="154" y="99" width="4" height="1" fill="#000"/>
<rect x="154" y="100" width="2" height="1" fill="#000"/>
<rect x="153" y="101" width="2" height="1" fill="#000"/>
<rect x="164" y="96" width="2" height="2" fill="#000"/>
<rect x="153" y="96" width="6" height="1" fill="#fff"/>
<rect x="154" y="97" width="3" height="1" fill="#fff"/>
<rect x="153" y="95" width="1" height="3" fill="#fff"/>
<rect x="62" y="128" width="32" height="15" fill="#000"/>
<rect x="61" y="129" width="34" height="13" fill="#000"/>
<rect x="63" y="130" width="30" height="11" fill="#fff"/>
<text x="76.0" y="139.0" font-size="10.5" fill="#000" text-anchor="middle" >J604</text>
<rect x="61" y="131" width="2" height="9" fill="#fff"/>
<rect x="61" y="130" width="2" height="1" fill="#000"/>
<rect x="60" y="131" width="2" height="1" fill="#000"/>
<rect x="60" y="132" width="2" height="1" fill="#000"/>
<rect x="58" y="133" width="4" height="1" fill="#000"/>
<rect x="52" y="134" width="10" height="1" fill="#000"/>
<rect x="52" y="135" width="5" height="1" fill="#000"/>
<rect x="52" y="136" width="7" height="1" fill="#000"/>
<rect x="52" y="137" width="10" height="1" fill="#000"/>
<rect x="58" y="138" width="4" height="1" fill="#000"/>
<rect x="60" y="139" width="2" height="1" fill="#000"/>
<rect x="61" y="140" width="2" height="1" fill="#000"/>
<rect x="50" y="135" width="2" height="2" fill="#000"/>
<rect x="57" y="135" width="6" height="1" fill="#fff"/>
<rect x="59" y="136" width="3" height="1" fill="#fff"/>
<rect x="62" y="134" width="1" height="3" fill="#fff"/>
<rect x="62" y="150" width="26" height="14" fill="#000"/>
<rect x="61" y="151" width="28" height="12" fill="#000"/>
<rect x="63" y="152" width="24" height="10" fill="#fff"/>
<text x="73.5" y="160.5" font-size="10.5" fill="#000" text-anchor="middle" >J26</text>
<rect x="61" y="153" width="2" height="9" fill="#fff"/>
<rect x="61" y="152" width="2" height="1" fill="#000"/>
<rect x="60" y="153" width="2" height="1" fill="#000"/>
<rect x="60" y="154" width="2" height="1" fill="#000"/>
<rect x="58" y="155" width="4" height="1" fill="#000"/>
<rect x="52" y="156" width="10" height="1" fill="#000"/>
<rect x="52" y="157" width="5" height="1" fill="#000"/>
<rect x="52" y="158" width="7" height="1" fill="#000"/>
<rect x="52" y="159" width="10" height="1" fill="#000"/>
<rect x="58" y="160" width="4" height="1" fill="#000"/>
<rect x="60" y="161" width="2" height="1" fill="#000"/>
<rect x="61" y="162" width="2" height="1" fill="#000"/>
<rect x="50" y="157" width="2" height="2" fill="#000"/>
<rect x="57" y="157" width="6" height="1" fill="#fff"/>
<rect x="59" y="158" width="3" height="1" fill="#fff"/>
<rect x="62" y="156" width="1" height="3" fill="#fff"/>
<line x1="199" y1="19" x2="206" y2="29" stroke="#000" stroke-width="3.0"/>
<line x1="199" y1="19" x2="202.15" y2="23.5" stroke="#fff" stroke-width="1"/>
<rect x="175" y="8" width="26" height="15" fill="#000"/>
<rect x="174" y="9" width="28" height="13" fill="#000"/>
<rect x="176" y="10" width="24" height="11" fill="#fff"/>
<text x="187.0" y="19.5" font-size="10.5" fill="#000" text-anchor="middle" >J13</text>
<line x1="230" y1="19" x2="222" y2="29" stroke="#000" stroke-width="3.0"/>
<line x1="230" y1="19" x2="226.4" y2="23.5" stroke="#fff" stroke-width="1"/>
<rect x="228" y="8" width="26" height="14" fill="#000"/>
<rect x="227" y="9" width="28" height="12" fill="#000"/>
<rect x="229" y="10" width="24" height="10" fill="#fff"/>
<text x="239.0" y="19.0" font-size="10.5" fill="#000" text-anchor="middle" >J11</text>
<rect x="156" y="26" width="27" height="15" fill="#000"/>
<rect x="155" y="27" width="29" height="13" fill="#000"/>
<rect x="157" y="28" width="25" height="11" fill="#fff"/>
<text x="168.0" y="37.0" font-size="10.5" fill="#000" text-anchor="middle" >J14</text>
<rect x="182" y="29" width="2" height="9" fill="#fff"/>
<rect x="182" y="28" width="2" height="1" fill="#000"/>
<rect x="183" y="29" width="2" height="1" fill="#000"/>
<rect x="183" y="30" width="2" height="1" fill="#000"/>
<rect x="183" y="31" width="4" height="1" fill="#000"/>
<rect x="183" y="32" width="10" height="1" fill="#000"/>
<rect x="188" y="33" width="5" height="1" fill="#000"/>
<rect x="186" y="34" width="7" height="1" fill="#000"/>
<rect x="183" y="35" width="10" height="1" fill="#000"/>
<rect x="183" y="36" width="4" height="1" fill="#000"/>
<rect x="183" y="37" width="2" height="1" fill="#000"/>
<rect x="182" y="38" width="2" height="1" fill="#000"/>
<rect x="193" y="33" width="2" height="2" fill="#000"/>
<rect x="182" y="33" width="6" height="1" fill="#fff"/>
<rect x="183" y="34" width="3" height="1" fill="#fff"/>
<rect x="182" y="32" width="1" height="3" fill="#fff"/>
<rect x="253" y="26" width="26" height="15" fill="#000"/>
<rect x="252" y="27" width="28" height="13" fill="#000"/>
<rect x="254" y="28" width="24" height="11" fill="#fff"/>
<text x="265.0" y="37.5" font-size="10.5" fill="#000" text-anchor="middle" >J15</text>
<rect x="252" y="29" width="2" height="9" fill="#fff"/>
<rect x="252" y="28" width="2" height="1" fill="#000"/>
<rect x="251" y="29" width="2" height="1" fill="#000"/>
<rect x="251" y="30" width="2" height="1" fill="#000"/>
<rect x="249" y="31" width="4" height="1" fill="#000"/>
<rect x="243" y="32" width="10" height="1" fill="#000"/>
<rect x="243" y="33" width="5" height="1" fill="#000"/>
<rect x="243" y="34" width="7" height="1" fill="#000"/>
<rect x="243" y="35" width="10" height="1" fill="#000"/>
<rect x="249" y="36" width="4" height="1" fill="#000"/>
<rect x="251" y="37" width="2" height="1" fill="#000"/>
<rect x="252" y="38" width="2" height="1" fill="#000"/>
<rect x="240" y="33" width="3" height="2" fill="#000"/>
<rect x="248" y="33" width="6" height="1" fill="#fff"/>
<rect x="250" y="34" width="3" height="1" fill="#fff"/>
<rect x="253" y="32" width="1" height="3" fill="#fff"/>
<line x1="221" y1="46" x2="214" y2="38" stroke="#000" stroke-width="3.0"/>
<line x1="221" y1="46" x2="217.85" y2="42.4" stroke="#fff" stroke-width="1"/>
<rect x="219" y="43" width="26" height="15" fill="#000"/>
<rect x="218" y="44" width="28" height="13" fill="#000"/>
<rect x="220" y="45" width="24" height="11" fill="#fff"/>
<text x="231.0" y="54.0" font-size="10.5" fill="#000" text-anchor="middle" >J12</text>
<rect x="169" y="151" width="32" height="15" fill="#000"/>
<rect x="168" y="152" width="34" height="13" fill="#000"/>
<rect x="170" y="153" width="30" height="11" fill="#fff"/>
<text x="184.0" y="162.0" font-size="10.5" fill="#000" text-anchor="middle" >VRM1</text>
<polygon points="181,153 188,153 188,151 186,147 186,138 183,138 183,147 183,147 181,151" fill="#000"/>
<rect x="184" y="149" width="1" height="4" fill="#fff"/>
<rect x="183" y="152" width="3" height="1" fill="#fff"/>
<rect x="189" y="111" width="32" height="14" fill="#000"/>
<rect x="188" y="112" width="34" height="12" fill="#000"/>
<rect x="190" y="113" width="30" height="10" fill="#fff"/>
<text x="205.5" y="121.5" font-size="10.5" fill="#000" text-anchor="middle" >J603</text>
<rect x="220" y="114" width="2" height="9" fill="#fff"/>
<rect x="220" y="113" width="2" height="1" fill="#000"/>
<rect x="221" y="114" width="2" height="1" fill="#000"/>
<rect x="221" y="115" width="2" height="1" fill="#000"/>
<rect x="221" y="116" width="4" height="1" fill="#000"/>
<rect x="221" y="117" width="10" height="1" fill="#000"/>
<rect x="226" y="118" width="5" height="1" fill="#000"/>
<rect x="224" y="119" width="7" height="1" fill="#000"/>
<rect x="221" y="120" width="10" height="1" fill="#000"/>
<rect x="221" y="121" width="4" height="1" fill="#000"/>
<rect x="221" y="122" width="2" height="1" fill="#000"/>
<rect x="220" y="123" width="2" height="1" fill="#000"/>
<rect x="231" y="118" width="2" height="2" fill="#000"/>
<rect x="220" y="118" width="6" height="1" fill="#fff"/>
<rect x="221" y="119" width="3" height="1" fill="#fff"/>
<rect x="220" y="117" width="1" height="3" fill="#fff"/>
<line x1="262" y1="110" x2="254" y2="119" stroke="#000" stroke-width="3.0"/>
<line x1="262" y1="110" x2="258.4" y2="114.05" stroke="#fff" stroke-width="1"/>
<rect x="260" y="98" width="26" height="15" fill="#000"/>
<rect x="259" y="99" width="28" height="13" fill="#000"/>
<rect x="261" y="100" width="24" height="11" fill="#fff"/>
<text x="272.0" y="109.0" font-size="10.5" fill="#000" text-anchor="middle" >J63</text>
<rect x="283" y="116" width="26" height="15" fill="#000"/>
<rect x="282" y="117" width="28" height="13" fill="#000"/>
<rect x="284" y="118" width="24" height="11" fill="#fff"/>
<text x="295.0" y="127.0" font-size="10.5" fill="#000" text-anchor="middle" >J65</text>
<rect x="282" y="119" width="2" height="9" fill="#fff"/>
<rect x="282" y="118" width="2" height="1" fill="#000"/>
<rect x="281" y="119" width="2" height="1" fill="#000"/>
<rect x="281" y="120" width="2" height="1" fill="#000"/>
<rect x="279" y="121" width="4" height="1" fill="#000"/>
<rect x="273" y="122" width="10" height="1" fill="#000"/>
<rect x="273" y="123" width="5" height="1" fill="#000"/>
<rect x="273" y="124" width="7" height="1" fill="#000"/>
<rect x="273" y="125" width="10" height="1" fill="#000"/>
<rect x="279" y="126" width="4" height="1" fill="#000"/>
<rect x="281" y="127" width="2" height="1" fill="#000"/>
<rect x="282" y="128" width="2" height="1" fill="#000"/>
<rect x="270" y="123" width="3" height="2" fill="#000"/>
<rect x="278" y="123" width="6" height="1" fill="#fff"/>
<rect x="280" y="124" width="3" height="1" fill="#fff"/>
<rect x="283" y="122" width="1" height="3" fill="#fff"/>
<line x1="268" y1="137" x2="261" y2="128" stroke="#000" stroke-width="3.0"/>
<line x1="268" y1="137" x2="264.85" y2="132.95" stroke="#fff" stroke-width="1"/>
<rect x="266" y="134" width="26" height="15" fill="#000"/>
<rect x="265" y="135" width="28" height="13" fill="#000"/>
<rect x="267" y="136" width="24" height="11" fill="#fff"/>
<text x="278.5" y="145.0" font-size="10.5" fill="#000" text-anchor="middle" >J64</text>
<rect x="234" y="141" width="26" height="14" fill="#000"/>
<rect x="233" y="142" width="28" height="12" fill="#000"/>
<rect x="235" y="143" width="24" height="10" fill="#fff"/>
<text x="246.0" y="151.5" font-size="10.5" fill="#000" text-anchor="middle" >J62</text>
<polygon points="243,143 250,143 250,141 248,137 248,129 246,129 246,137 245,137 243,141" fill="#000"/>
<rect x="246" y="139" width="1" height="4" fill="#fff"/>
<rect x="245" y="142" width="3" height="1" fill="#fff"/>
<rect x="690" y="146" width="26" height="15" fill="#000"/>
<rect x="689" y="147" width="28" height="13" fill="#000"/>
<rect x="691" y="148" width="24" height="11" fill="#fff"/>
<text x="702.0" y="157.0" font-size="10.5" fill="#000" text-anchor="middle" >J23</text>
<rect x="689" y="149" width="2" height="9" fill="#fff"/>
<rect x="689" y="148" width="2" height="1" fill="#000"/>
<rect x="688" y="149" width="2" height="1" fill="#000"/>
<rect x="688" y="150" width="2" height="1" fill="#000"/>
<rect x="686" y="151" width="4" height="1" fill="#000"/>
<rect x="680" y="152" width="10" height="1" fill="#000"/>
<rect x="680" y="153" width="5" height="1" fill="#000"/>
<rect x="680" y="154" width="7" height="1" fill="#000"/>
<rect x="680" y="155" width="10" height="1" fill="#000"/>
<rect x="686" y="156" width="4" height="1" fill="#000"/>
<rect x="688" y="157" width="2" height="1" fill="#000"/>
<rect x="689" y="158" width="2" height="1" fill="#000"/>
<rect x="677" y="153" width="3" height="2" fill="#000"/>
<rect x="685" y="153" width="6" height="1" fill="#fff"/>
<rect x="687" y="154" width="3" height="1" fill="#fff"/>
<rect x="690" y="152" width="1" height="3" fill="#fff"/>
<rect x="690" y="170" width="26" height="15" fill="#000"/>
<rect x="689" y="171" width="28" height="13" fill="#000"/>
<rect x="691" y="172" width="24" height="11" fill="#fff"/>
<text x="701.5" y="181.0" font-size="10.5" fill="#000" text-anchor="middle" >J22</text>
<rect x="689" y="173" width="2" height="9" fill="#fff"/>
<rect x="689" y="172" width="2" height="1" fill="#000"/>
<rect x="688" y="173" width="2" height="1" fill="#000"/>
<rect x="688" y="174" width="2" height="1" fill="#000"/>
<rect x="686" y="175" width="4" height="1" fill="#000"/>
<rect x="680" y="176" width="10" height="1" fill="#000"/>
<rect x="680" y="177" width="5" height="1" fill="#000"/>
<rect x="680" y="178" width="7" height="1" fill="#000"/>
<rect x="680" y="179" width="10" height="1" fill="#000"/>
<rect x="686" y="180" width="4" height="1" fill="#000"/>
<rect x="688" y="181" width="2" height="1" fill="#000"/>
<rect x="689" y="182" width="2" height="1" fill="#000"/>
<rect x="677" y="177" width="3" height="2" fill="#000"/>
<rect x="685" y="177" width="6" height="1" fill="#fff"/>
<rect x="687" y="178" width="3" height="1" fill="#fff"/>
<rect x="690" y="176" width="1" height="3" fill="#fff"/>
<rect x="689" y="197" width="32" height="15" fill="#000"/>
<rect x="688" y="198" width="34" height="13" fill="#000"/>
<rect x="690" y="199" width="30" height="11" fill="#fff"/>
<text x="705.0" y="209.0" font-size="10.5" fill="#000" text-anchor="middle" >J602</text>
<rect x="688" y="200" width="2" height="9" fill="#fff"/>
<rect x="688" y="199" width="2" height="1" fill="#000"/>
<rect x="687" y="200" width="2" height="1" fill="#000"/>
<rect x="687" y="201" width="2" height="1" fill="#000"/>
<rect x="685" y="202" width="4" height="1" fill="#000"/>
<rect x="679" y="203" width="10" height="1" fill="#000"/>
<rect x="679" y="204" width="5" height="1" fill="#000"/>
<rect x="679" y="205" width="7" height="1" fill="#000"/>
<rect x="679" y="206" width="10" height="1" fill="#000"/>
<rect x="685" y="207" width="4" height="1" fill="#000"/>
<rect x="687" y="208" width="2" height="1" fill="#000"/>
<rect x="688" y="209" width="2" height="1" fill="#000"/>
<rect x="677" y="204" width="2" height="2" fill="#000"/>
<rect x="684" y="204" width="6" height="1" fill="#fff"/>
<rect x="686" y="205" width="3" height="1" fill="#fff"/>
<rect x="689" y="203" width="1" height="3" fill="#fff"/>
<rect x="689" y="225" width="32" height="15" fill="#000"/>
<rect x="688" y="226" width="34" height="13" fill="#000"/>
<rect x="690" y="227" width="30" height="11" fill="#fff"/>
<text x="704.0" y="237.0" font-size="10.5" fill="#000" text-anchor="middle" >J601</text>
<rect x="688" y="228" width="2" height="9" fill="#fff"/>
<rect x="688" y="227" width="2" height="1" fill="#000"/>
<rect x="687" y="228" width="2" height="1" fill="#000"/>
<rect x="687" y="229" width="2" height="1" fill="#000"/>
<rect x="685" y="230" width="4" height="1" fill="#000"/>
<rect x="679" y="231" width="10" height="1" fill="#000"/>
<rect x="679" y="232" width="5" height="1" fill="#000"/>
<rect x="679" y="233" width="7" height="1" fill="#000"/>
<rect x="679" y="234" width="10" height="1" fill="#000"/>
<rect x="685" y="235" width="4" height="1" fill="#000"/>
<rect x="687" y="236" width="2" height="1" fill="#000"/>
<rect x="688" y="237" width="2" height="1" fill="#000"/>
<rect x="677" y="232" width="2" height="2" fill="#000"/>
<rect x="684" y="232" width="6" height="1" fill="#fff"/>
<rect x="686" y="233" width="3" height="1" fill="#fff"/>
<rect x="689" y="231" width="1" height="3" fill="#fff"/>
<rect x="561" y="302" width="23" height="13" fill="#000"/>
<rect x="560" y="303" width="25" height="11" fill="#000"/>
<rect x="562" y="304" width="21" height="9" fill="#fff"/>
<text x="572.0" y="312.0" font-size="10.5" fill="#000" text-anchor="middle" >J29</text>
<polygon points="568,313 575,313 575,315 573,319 573,328 571,328 571,319 570,319 568,315" fill="#000"/>
<rect x="571" y="313" width="1" height="4" fill="#fff"/>
<rect x="570" y="313" width="3" height="1" fill="#fff"/>
<line x1="597" y1="321" x2="588" y2="329" stroke="#000" stroke-width="3.0"/>
<line x1="597" y1="321" x2="592.95" y2="324.6" stroke="#fff" stroke-width="1"/>
<rect x="595" y="310" width="25" height="13" fill="#000"/>
<rect x="594" y="311" width="27" height="11" fill="#000"/>
<rect x="596" y="312" width="23" height="9" fill="#fff"/>
<text x="605.0" y="320.5" font-size="10.5" fill="#000" text-anchor="middle" >J32</text>
<rect x="516" y="326" width="26" height="15" fill="#000"/>
<rect x="515" y="327" width="28" height="13" fill="#000"/>
<rect x="517" y="328" width="24" height="11" fill="#fff"/>
<text x="528.5" y="337.0" font-size="10.5" fill="#000" text-anchor="middle" >J27</text>
<rect x="541" y="329" width="2" height="9" fill="#fff"/>
<rect x="541" y="328" width="2" height="1" fill="#000"/>
<rect x="542" y="329" width="2" height="1" fill="#000"/>
<rect x="542" y="330" width="2" height="1" fill="#000"/>
<rect x="542" y="331" width="4" height="1" fill="#000"/>
<rect x="542" y="332" width="10" height="1" fill="#000"/>
<rect x="547" y="333" width="5" height="1" fill="#000"/>
<rect x="545" y="334" width="7" height="1" fill="#000"/>
<rect x="542" y="335" width="10" height="1" fill="#000"/>
<rect x="542" y="336" width="4" height="1" fill="#000"/>
<rect x="542" y="337" width="2" height="1" fill="#000"/>
<rect x="541" y="338" width="2" height="1" fill="#000"/>
<rect x="552" y="333" width="3" height="2" fill="#000"/>
<rect x="541" y="333" width="6" height="1" fill="#fff"/>
<rect x="542" y="334" width="3" height="1" fill="#fff"/>
<rect x="541" y="332" width="1" height="3" fill="#fff"/>
<rect x="619" y="328" width="26" height="13" fill="#000"/>
<rect x="618" y="329" width="28" height="11" fill="#000"/>
<rect x="620" y="330" width="24" height="9" fill="#fff"/>
<text x="631.0" y="338.5" font-size="10.5" fill="#000" text-anchor="middle" >J30</text>
<rect x="618" y="330" width="2" height="9" fill="#fff"/>
<rect x="618" y="329" width="2" height="1" fill="#000"/>
<rect x="617" y="330" width="2" height="1" fill="#000"/>
<rect x="617" y="331" width="2" height="1" fill="#000"/>
<rect x="615" y="332" width="4" height="1" fill="#000"/>
<rect x="609" y="333" width="10" height="1" fill="#000"/>
<rect x="609" y="334" width="5" height="1" fill="#000"/>
<rect x="609" y="335" width="7" height="1" fill="#000"/>
<rect x="609" y="336" width="10" height="1" fill="#000"/>
<rect x="615" y="337" width="4" height="1" fill="#000"/>
<rect x="617" y="338" width="2" height="1" fill="#000"/>
<rect x="618" y="339" width="2" height="1" fill="#000"/>
<rect x="606" y="334" width="3" height="2" fill="#000"/>
<rect x="614" y="334" width="6" height="1" fill="#fff"/>
<rect x="616" y="335" width="3" height="1" fill="#fff"/>
<rect x="619" y="333" width="1" height="3" fill="#fff"/>
<line x1="557" y1="347" x2="565" y2="339" stroke="#000" stroke-width="3.0"/>
<line x1="557" y1="347" x2="560.6" y2="343.4" stroke="#fff" stroke-width="1"/>
<rect x="534" y="345" width="25" height="14" fill="#000"/>
<rect x="533" y="346" width="27" height="12" fill="#000"/>
<rect x="535" y="347" width="23" height="10" fill="#fff"/>
<text x="546.5" y="355.0" font-size="10.5" fill="#000" text-anchor="middle" >J28</text>
<rect x="568" y="351" width="26" height="15" fill="#000"/>
<rect x="567" y="352" width="28" height="13" fill="#000"/>
<rect x="569" y="353" width="24" height="11" fill="#fff"/>
<text x="580.5" y="362.0" font-size="10.5" fill="#000" text-anchor="middle" >J33</text>
<polygon points="578,353 585,353 585,351 583,347 583,340 581,340 581,347 580,347 578,351" fill="#000"/>
<rect x="581" y="349" width="1" height="4" fill="#fff"/>
<rect x="580" y="352" width="3" height="1" fill="#fff"/>
<line x1="603" y1="347" x2="596" y2="339" stroke="#000" stroke-width="3.0"/>
<line x1="603" y1="347" x2="599.85" y2="343.4" stroke="#fff" stroke-width="1"/>
<rect x="601" y="345" width="25" height="14" fill="#000"/>
<rect x="600" y="346" width="27" height="12" fill="#000"/>
<rect x="602" y="347" width="23" height="10" fill="#fff"/>
<text x="612.0" y="355.0" font-size="10.5" fill="#000" text-anchor="middle" >J31</text>
<rect x="204" y="302" width="25" height="15" fill="#000"/>
<rect x="203" y="303" width="27" height="13" fill="#000"/>
<rect x="205" y="304" width="23" height="11" fill="#fff"/>
<text x="215.5" y="314.0" font-size="10.5" fill="#000" text-anchor="middle" >J48</text>
<polygon points="212,315 219,315 219,317 217,321 217,329 215,329 215,321 214,321 212,317" fill="#000"/>
<rect x="215" y="315" width="1" height="4" fill="#fff"/>
<rect x="214" y="315" width="3" height="1" fill="#fff"/>
<rect x="168" y="327" width="25" height="15" fill="#000"/>
<rect x="167" y="328" width="27" height="13" fill="#000"/>
<rect x="169" y="329" width="23" height="11" fill="#fff"/>
<text x="179.5" y="338.0" font-size="10.5" fill="#000" text-anchor="middle" >J47</text>
<rect x="192" y="330" width="2" height="9" fill="#fff"/>
<rect x="192" y="329" width="2" height="1" fill="#000"/>
<rect x="193" y="330" width="2" height="1" fill="#000"/>
<rect x="193" y="331" width="2" height="1" fill="#000"/>
<rect x="193" y="332" width="4" height="1" fill="#000"/>
<rect x="193" y="333" width="10" height="1" fill="#000"/>
<rect x="198" y="334" width="5" height="1" fill="#000"/>
<rect x="196" y="335" width="7" height="1" fill="#000"/>
<rect x="193" y="336" width="10" height="1" fill="#000"/>
<rect x="193" y="337" width="4" height="1" fill="#000"/>
<rect x="193" y="338" width="2" height="1" fill="#000"/>
<rect x="192" y="339" width="2" height="1" fill="#000"/>
<rect x="203" y="334" width="3" height="2" fill="#000"/>
<rect x="192" y="334" width="6" height="1" fill="#fff"/>
<rect x="193" y="335" width="3" height="1" fill="#fff"/>
<rect x="192" y="333" width="1" height="3" fill="#fff"/>
<rect x="238" y="327" width="26" height="15" fill="#000"/>
<rect x="237" y="328" width="28" height="13" fill="#000"/>
<rect x="239" y="329" width="24" height="11" fill="#fff"/>
<text x="250.5" y="339.0" font-size="10.5" fill="#000" text-anchor="middle" >J49</text>
<rect x="237" y="330" width="2" height="9" fill="#fff"/>
<rect x="237" y="329" width="2" height="1" fill="#000"/>
<rect x="236" y="330" width="2" height="1" fill="#000"/>
<rect x="236" y="331" width="2" height="1" fill="#000"/>
<rect x="234" y="332" width="4" height="1" fill="#000"/>
<rect x="228" y="333" width="10" height="1" fill="#000"/>
<rect x="228" y="334" width="5" height="1" fill="#000"/>
<rect x="228" y="335" width="7" height="1" fill="#000"/>
<rect x="228" y="336" width="10" height="1" fill="#000"/>
<rect x="234" y="337" width="4" height="1" fill="#000"/>
<rect x="236" y="338" width="2" height="1" fill="#000"/>
<rect x="237" y="339" width="2" height="1" fill="#000"/>
<rect x="226" y="334" width="2" height="2" fill="#000"/>
<rect x="233" y="334" width="6" height="1" fill="#fff"/>
<rect x="235" y="335" width="3" height="1" fill="#fff"/>
<rect x="238" y="333" width="1" height="3" fill="#fff"/>
<rect x="586" y="403" width="24" height="15" fill="#000"/>
<rect x="585" y="404" width="26" height="13" fill="#000"/>
<rect x="587" y="405" width="22" height="11" fill="#fff"/>
<text x="598.0" y="414.0" font-size="10.5" fill="#000" text-anchor="middle" >J24</text>
<polygon points="594,416 601,416 601,418 599,422 599,430 597,430 597,422 596,422 594,418" fill="#000"/>
<rect x="597" y="416" width="1" height="4" fill="#fff"/>
<rect x="596" y="416" width="3" height="1" fill="#fff"/>
<rect x="616" y="402" width="25" height="16" fill="#000"/>
<rect x="615" y="403" width="27" height="14" fill="#000"/>
<rect x="617" y="404" width="23" height="12" fill="#fff"/>
<text x="628.5" y="412.5" font-size="10.5" fill="#000" text-anchor="middle" >J18</text>
<polygon points="624,416 631,416 631,418 629,422 629,430 627,430 627,422 626,422 624,418" fill="#000"/>
<rect x="627" y="416" width="1" height="4" fill="#fff"/>
<rect x="626" y="416" width="3" height="1" fill="#fff"/>
<rect x="516" y="428" width="26" height="14" fill="#000"/>
<rect x="515" y="429" width="28" height="12" fill="#000"/>
<rect x="517" y="430" width="24" height="10" fill="#fff"/>
<text x="528.5" y="439.0" font-size="10.5" fill="#000" text-anchor="middle" >J37</text>
<rect x="541" y="431" width="2" height="9" fill="#fff"/>
<rect x="541" y="430" width="2" height="1" fill="#000"/>
<rect x="542" y="431" width="2" height="1" fill="#000"/>
<rect x="542" y="432" width="2" height="1" fill="#000"/>
<rect x="542" y="433" width="4" height="1" fill="#000"/>
<rect x="542" y="434" width="10" height="1" fill="#000"/>
<rect x="547" y="435" width="5" height="1" fill="#000"/>
<rect x="545" y="436" width="7" height="1" fill="#000"/>
<rect x="542" y="437" width="10" height="1" fill="#000"/>
<rect x="542" y="438" width="4" height="1" fill="#000"/>
<rect x="542" y="439" width="2" height="1" fill="#000"/>
<rect x="541" y="440" width="2" height="1" fill="#000"/>
<rect x="552" y="435" width="3" height="2" fill="#000"/>
<rect x="541" y="435" width="6" height="1" fill="#fff"/>
<rect x="542" y="436" width="3" height="1" fill="#fff"/>
<rect x="541" y="434" width="1" height="3" fill="#fff"/>
<rect x="540" y="443" width="25" height="14" fill="#000"/>
<rect x="539" y="444" width="27" height="12" fill="#000"/>
<rect x="541" y="445" width="23" height="10" fill="#fff"/>
<text x="551.0" y="453.5" font-size="10.5" fill="#000" text-anchor="middle" >J17</text>
<rect x="564" y="446" width="2" height="9" fill="#fff"/>
<rect x="564" y="445" width="2" height="1" fill="#000"/>
<rect x="565" y="446" width="2" height="1" fill="#000"/>
<rect x="565" y="447" width="2" height="1" fill="#000"/>
<rect x="565" y="448" width="4" height="1" fill="#000"/>
<rect x="565" y="449" width="10" height="1" fill="#000"/>
<rect x="570" y="450" width="5" height="1" fill="#000"/>
<rect x="568" y="451" width="7" height="1" fill="#000"/>
<rect x="565" y="452" width="10" height="1" fill="#000"/>
<rect x="565" y="453" width="4" height="1" fill="#000"/>
<rect x="565" y="454" width="2" height="1" fill="#000"/>
<rect x="564" y="455" width="2" height="1" fill="#000"/>
<rect x="575" y="450" width="3" height="2" fill="#000"/>
<rect x="564" y="450" width="6" height="1" fill="#fff"/>
<rect x="565" y="451" width="3" height="1" fill="#fff"/>
<rect x="564" y="449" width="1" height="3" fill="#fff"/>
<rect x="521" y="460" width="25" height="12" fill="#000"/>
<rect x="520" y="461" width="27" height="10" fill="#000"/>
<rect x="522" y="462" width="23" height="8" fill="#fff"/>
<text x="532.0" y="469.0" font-size="10.5" fill="#000" text-anchor="middle" >J35</text>
<rect x="545" y="462" width="2" height="9" fill="#fff"/>
<rect x="545" y="461" width="2" height="1" fill="#000"/>
<rect x="546" y="462" width="2" height="1" fill="#000"/>
<rect x="546" y="463" width="2" height="1" fill="#000"/>
<rect x="546" y="464" width="4" height="1" fill="#000"/>
<rect x="546" y="465" width="10" height="1" fill="#000"/>
<rect x="551" y="466" width="5" height="1" fill="#000"/>
<rect x="549" y="467" width="7" height="1" fill="#000"/>
<rect x="546" y="468" width="10" height="1" fill="#000"/>
<rect x="546" y="469" width="4" height="1" fill="#000"/>
<rect x="546" y="470" width="2" height="1" fill="#000"/>
<rect x="545" y="471" width="2" height="1" fill="#000"/>
<rect x="556" y="466" width="3" height="2" fill="#000"/>
<rect x="545" y="466" width="6" height="1" fill="#fff"/>
<rect x="546" y="467" width="3" height="1" fill="#fff"/>
<rect x="545" y="465" width="1" height="3" fill="#fff"/>
<rect x="506" y="478" width="24" height="13" fill="#000"/>
<rect x="505" y="479" width="26" height="11" fill="#000"/>
<rect x="507" y="480" width="22" height="9" fill="#fff"/>
<text x="518.0" y="488.0" font-size="10.5" fill="#000" text-anchor="middle" >J16</text>
<rect x="529" y="480" width="2" height="9" fill="#fff"/>
<rect x="529" y="479" width="2" height="1" fill="#000"/>
<rect x="530" y="480" width="2" height="1" fill="#000"/>
<rect x="530" y="481" width="2" height="1" fill="#000"/>
<rect x="530" y="482" width="4" height="1" fill="#000"/>
<rect x="530" y="483" width="10" height="1" fill="#000"/>
<rect x="535" y="484" width="5" height="1" fill="#000"/>
<rect x="533" y="485" width="7" height="1" fill="#000"/>
<rect x="530" y="486" width="10" height="1" fill="#000"/>
<rect x="530" y="487" width="4" height="1" fill="#000"/>
<rect x="530" y="488" width="2" height="1" fill="#000"/>
<rect x="529" y="489" width="2" height="1" fill="#000"/>
<rect x="540" y="484" width="5" height="2" fill="#000"/>
<rect x="529" y="484" width="6" height="1" fill="#fff"/>
<rect x="530" y="485" width="3" height="1" fill="#fff"/>
<rect x="529" y="483" width="1" height="3" fill="#fff"/>
</g>
</svg>
</body></html>
